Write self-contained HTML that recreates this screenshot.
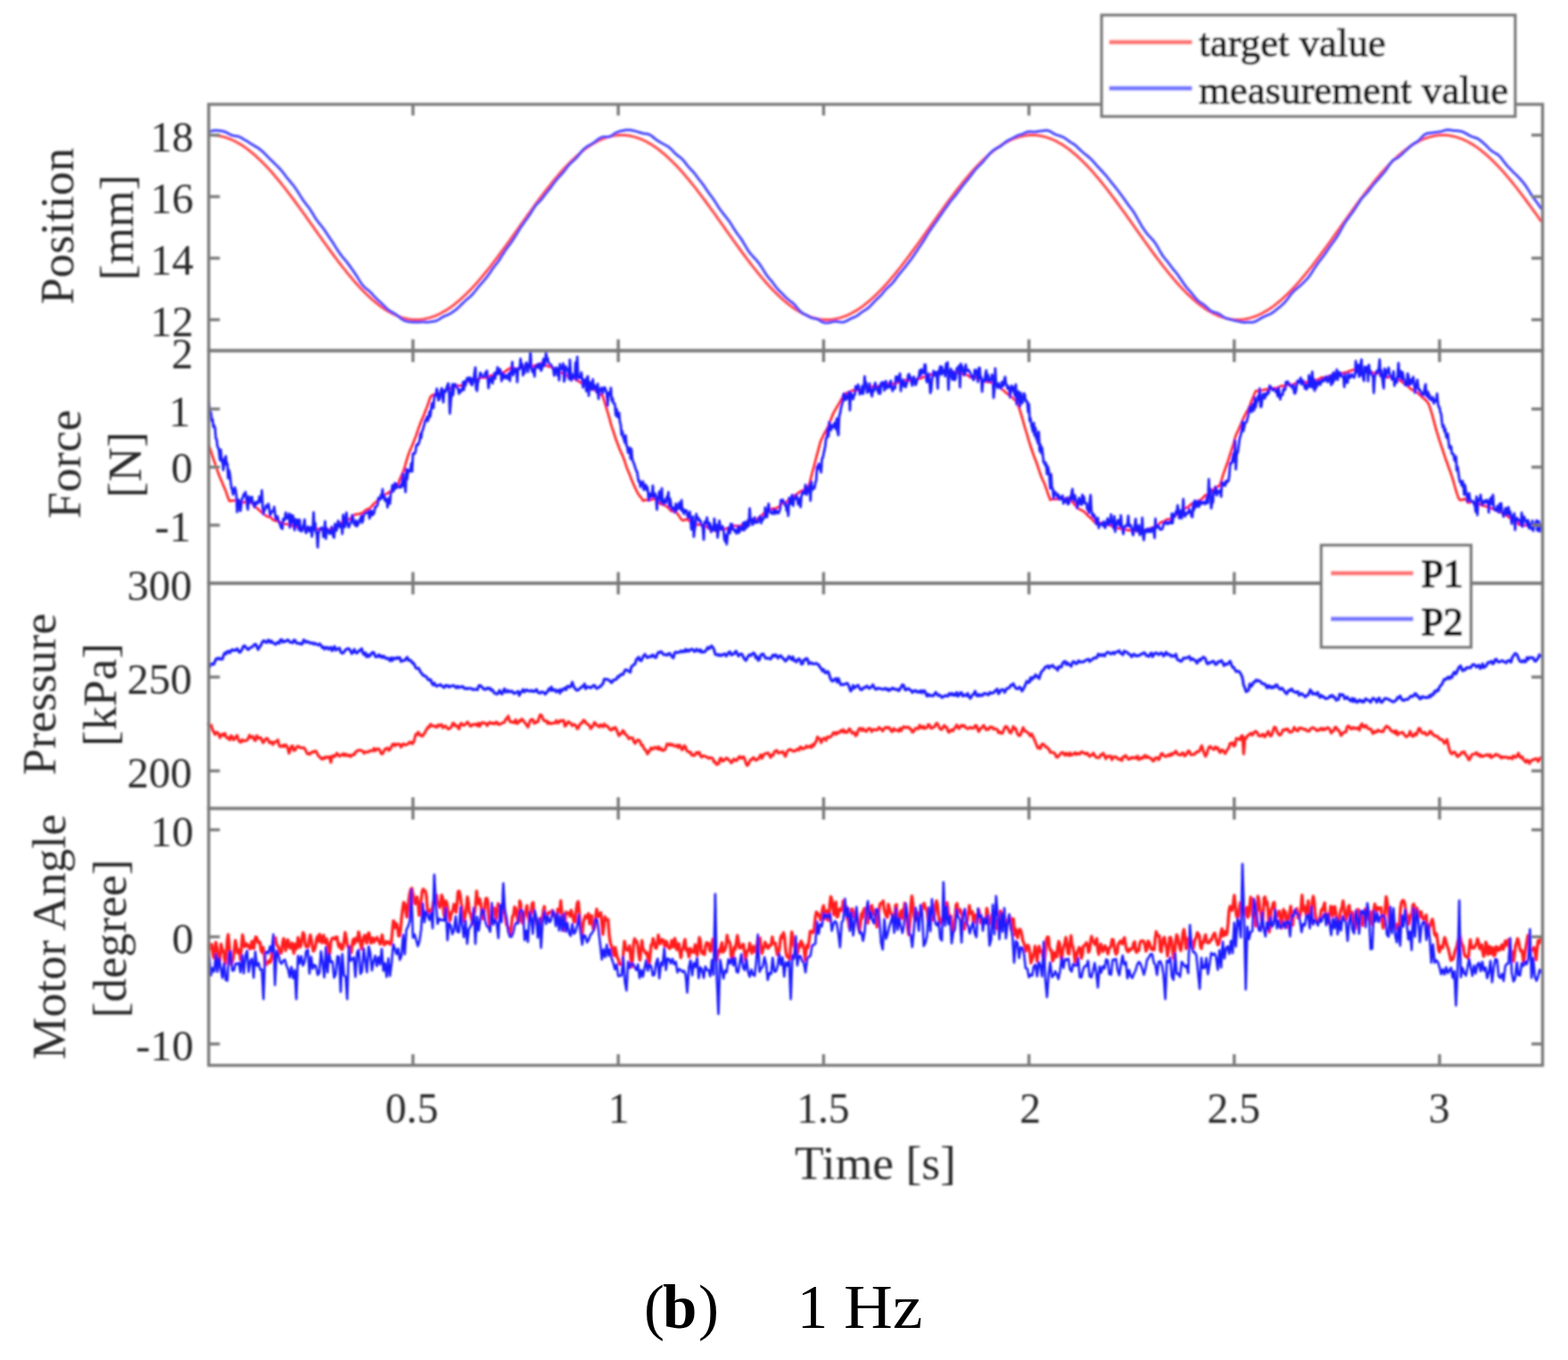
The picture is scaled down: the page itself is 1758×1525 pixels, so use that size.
<!DOCTYPE html>
<html><head><meta charset="utf-8"><title>Figure</title>
<style>
html,body{margin:0;padding:0;background:#fff;}
svg{display:block;}
text{font-family:"Liberation Serif","Times New Roman",serif;}
</style></head><body>
<svg width="1758" height="1525" viewBox="0 0 1758 1525">
<defs>
<filter id="bl" x="-5%" y="-5%" width="110%" height="110%"><feGaussianBlur stdDeviation="1.25"/></filter>
<clipPath id="c1"><rect x="232.8" y="117.0" width="1496.7" height="276.0"/></clipPath>
<clipPath id="c2"><rect x="232.8" y="393.5" width="1496.7" height="260.5"/></clipPath>
<clipPath id="c3"><rect x="232.8" y="654.0" width="1496.7" height="252.5"/></clipPath>
<clipPath id="c4"><rect x="232.8" y="906.5" width="1496.7" height="288.1"/></clipPath>
</defs>
<rect width="1758" height="1525" fill="#fff"/>
<g filter="url(#bl)">

<path d="M232.8 151.6 L234.6 151.5 L236.5 151.5 L238.3 151.5 L240.2 151.6 L242.0 151.8 L243.8 152.0 L245.7 152.3 L247.5 152.7 L249.4 153.1 L251.2 153.6 L253.1 154.1 L254.9 154.8 L256.7 155.4 L258.6 156.2 L260.4 157.0 L262.3 157.8 L264.1 158.8 L265.9 159.8 L267.8 160.8 L269.6 161.9 L271.5 163.1 L273.3 164.3 L275.2 165.6 L277.0 166.9 L278.8 168.3 L280.7 169.8 L282.5 171.3 L284.4 172.8 L286.2 174.4 L288.0 176.1 L289.9 177.8 L291.7 179.6 L293.6 181.4 L295.4 183.2 L297.3 185.1 L299.1 187.0 L300.9 189.0 L302.8 191.1 L304.6 193.1 L306.5 195.2 L308.3 197.4 L310.1 199.5 L312.0 201.8 L313.8 204.0 L315.7 206.3 L317.5 208.6 L319.4 210.9 L321.2 213.3 L323.0 215.7 L324.9 218.1 L326.7 220.6 L328.6 223.0 L330.4 225.5 L332.2 228.0 L334.1 230.5 L335.9 233.1 L337.8 235.6 L339.6 238.2 L341.5 240.7 L343.3 243.3 L345.1 245.9 L347.0 248.5 L348.8 251.1 L350.7 253.7 L352.5 256.3 L354.3 258.9 L356.2 261.5 L358.0 264.1 L359.9 266.7 L361.7 269.3 L363.6 271.8 L365.4 274.4 L367.2 276.9 L369.1 279.5 L370.9 282.0 L372.8 284.5 L374.6 287.0 L376.4 289.4 L378.3 291.9 L380.1 294.3 L382.0 296.7 L383.8 299.1 L385.7 301.4 L387.5 303.7 L389.3 306.0 L391.2 308.2 L393.0 310.5 L394.9 312.6 L396.7 314.8 L398.5 316.9 L400.4 318.9 L402.2 321.0 L404.1 323.0 L405.9 324.9 L407.8 326.8 L409.6 328.6 L411.4 330.4 L413.3 332.2 L415.1 333.9 L417.0 335.6 L418.8 337.2 L420.6 338.7 L422.5 340.2 L424.3 341.7 L426.2 343.1 L428.0 344.4 L429.9 345.7 L431.7 346.9 L433.5 348.1 L435.4 349.2 L437.2 350.2 L439.1 351.2 L440.9 352.2 L442.7 353.0 L444.6 353.8 L446.4 354.6 L448.3 355.2 L450.1 355.9 L452.0 356.4 L453.8 356.9 L455.6 357.3 L457.5 357.7 L459.3 358.0 L461.2 358.2 L463.0 358.4 L464.8 358.5 L466.7 358.5 L468.5 358.5 L470.4 358.4 L472.2 358.2 L474.0 358.0 L475.9 357.7 L477.7 357.3 L479.6 356.9 L481.4 356.4 L483.3 355.9 L485.1 355.2 L486.9 354.6 L488.8 353.8 L490.6 353.0 L492.5 352.2 L494.3 351.2 L496.1 350.2 L498.0 349.2 L499.8 348.1 L501.7 346.9 L503.5 345.7 L505.4 344.4 L507.2 343.1 L509.0 341.7 L510.9 340.2 L512.7 338.7 L514.6 337.2 L516.4 335.6 L518.2 333.9 L520.1 332.2 L521.9 330.4 L523.8 328.6 L525.6 326.8 L527.5 324.9 L529.3 323.0 L531.1 321.0 L533.0 318.9 L534.8 316.9 L536.7 314.8 L538.5 312.6 L540.3 310.5 L542.2 308.2 L544.0 306.0 L545.9 303.7 L547.7 301.4 L549.6 299.1 L551.4 296.7 L553.2 294.3 L555.1 291.9 L556.9 289.4 L558.8 287.0 L560.6 284.5 L562.4 282.0 L564.3 279.5 L566.1 276.9 L568.0 274.4 L569.8 271.8 L571.7 269.3 L573.5 266.7 L575.3 264.1 L577.2 261.5 L579.0 258.9 L580.9 256.3 L582.7 253.7 L584.5 251.1 L586.4 248.5 L588.2 245.9 L590.1 243.3 L591.9 240.7 L593.8 238.2 L595.6 235.6 L597.4 233.1 L599.3 230.5 L601.1 228.0 L603.0 225.5 L604.8 223.0 L606.6 220.6 L608.5 218.1 L610.3 215.7 L612.2 213.3 L614.0 210.9 L615.9 208.6 L617.7 206.3 L619.5 204.0 L621.4 201.8 L623.2 199.5 L625.1 197.4 L626.9 195.2 L628.7 193.1 L630.6 191.1 L632.4 189.0 L634.3 187.0 L636.1 185.1 L638.0 183.2 L639.8 181.4 L641.6 179.6 L643.5 177.8 L645.3 176.1 L647.2 174.4 L649.0 172.8 L650.8 171.3 L652.7 169.8 L654.5 168.3 L656.4 166.9 L658.2 165.6 L660.1 164.3 L661.9 163.1 L663.7 161.9 L665.6 160.8 L667.4 159.8 L669.3 158.8 L671.1 157.8 L672.9 157.0 L674.8 156.2 L676.6 155.4 L678.5 154.8 L680.3 154.1 L682.2 153.6 L684.0 153.1 L685.8 152.7 L687.7 152.3 L689.5 152.0 L691.4 151.8 L693.2 151.6 L695.0 151.5 L696.9 151.5 L698.7 151.5 L700.6 151.6 L702.4 151.8 L704.2 152.0 L706.1 152.3 L707.9 152.7 L709.8 153.1 L711.6 153.6 L713.5 154.1 L715.3 154.8 L717.1 155.4 L719.0 156.2 L720.8 157.0 L722.7 157.8 L724.5 158.8 L726.3 159.8 L728.2 160.8 L730.0 161.9 L731.9 163.1 L733.7 164.3 L735.6 165.6 L737.4 166.9 L739.2 168.3 L741.1 169.8 L742.9 171.3 L744.8 172.8 L746.6 174.4 L748.4 176.1 L750.3 177.8 L752.1 179.6 L754.0 181.4 L755.8 183.2 L757.7 185.1 L759.5 187.0 L761.3 189.0 L763.2 191.1 L765.0 193.1 L766.9 195.2 L768.7 197.4 L770.5 199.5 L772.4 201.8 L774.2 204.0 L776.1 206.3 L777.9 208.6 L779.8 210.9 L781.6 213.3 L783.4 215.7 L785.3 218.1 L787.1 220.6 L789.0 223.0 L790.8 225.5 L792.6 228.0 L794.5 230.5 L796.3 233.1 L798.2 235.6 L800.0 238.2 L801.9 240.7 L803.7 243.3 L805.5 245.9 L807.4 248.5 L809.2 251.1 L811.1 253.7 L812.9 256.3 L814.7 258.9 L816.6 261.5 L818.4 264.1 L820.3 266.7 L822.1 269.3 L824.0 271.8 L825.8 274.4 L827.6 276.9 L829.5 279.5 L831.3 282.0 L833.2 284.5 L835.0 287.0 L836.8 289.4 L838.7 291.9 L840.5 294.3 L842.4 296.7 L844.2 299.1 L846.1 301.4 L847.9 303.7 L849.7 306.0 L851.6 308.2 L853.4 310.5 L855.3 312.6 L857.1 314.8 L858.9 316.9 L860.8 318.9 L862.6 321.0 L864.5 323.0 L866.3 324.9 L868.2 326.8 L870.0 328.6 L871.8 330.4 L873.7 332.2 L875.5 333.9 L877.4 335.6 L879.2 337.2 L881.0 338.7 L882.9 340.2 L884.7 341.7 L886.6 343.1 L888.4 344.4 L890.3 345.7 L892.1 346.9 L893.9 348.1 L895.8 349.2 L897.6 350.2 L899.5 351.2 L901.3 352.2 L903.1 353.0 L905.0 353.8 L906.8 354.6 L908.7 355.2 L910.5 355.9 L912.4 356.4 L914.2 356.9 L916.0 357.3 L917.9 357.7 L919.7 358.0 L921.6 358.2 L923.4 358.4 L925.2 358.5 L927.1 358.5 L928.9 358.5 L930.8 358.4 L932.6 358.2 L934.4 358.0 L936.3 357.7 L938.1 357.3 L940.0 356.9 L941.8 356.4 L943.7 355.9 L945.5 355.2 L947.3 354.6 L949.2 353.8 L951.0 353.0 L952.9 352.2 L954.7 351.2 L956.5 350.2 L958.4 349.2 L960.2 348.1 L962.1 346.9 L963.9 345.7 L965.8 344.4 L967.6 343.1 L969.4 341.7 L971.3 340.2 L973.1 338.7 L975.0 337.2 L976.8 335.6 L978.6 333.9 L980.5 332.2 L982.3 330.4 L984.2 328.6 L986.0 326.8 L987.9 324.9 L989.7 323.0 L991.5 321.0 L993.4 318.9 L995.2 316.9 L997.1 314.8 L998.9 312.6 L1000.7 310.5 L1002.6 308.2 L1004.4 306.0 L1006.3 303.7 L1008.1 301.4 L1010.0 299.1 L1011.8 296.7 L1013.6 294.3 L1015.5 291.9 L1017.3 289.4 L1019.2 287.0 L1021.0 284.5 L1022.8 282.0 L1024.7 279.5 L1026.5 276.9 L1028.4 274.4 L1030.2 271.8 L1032.1 269.3 L1033.9 266.7 L1035.7 264.1 L1037.6 261.5 L1039.4 258.9 L1041.3 256.3 L1043.1 253.7 L1044.9 251.1 L1046.8 248.5 L1048.6 245.9 L1050.5 243.3 L1052.3 240.7 L1054.2 238.2 L1056.0 235.6 L1057.8 233.1 L1059.7 230.5 L1061.5 228.0 L1063.4 225.5 L1065.2 223.0 L1067.0 220.6 L1068.9 218.1 L1070.7 215.7 L1072.6 213.3 L1074.4 210.9 L1076.3 208.6 L1078.1 206.3 L1079.9 204.0 L1081.8 201.8 L1083.6 199.5 L1085.5 197.4 L1087.3 195.2 L1089.1 193.1 L1091.0 191.1 L1092.8 189.0 L1094.7 187.0 L1096.5 185.1 L1098.4 183.2 L1100.2 181.4 L1102.0 179.6 L1103.9 177.8 L1105.7 176.1 L1107.6 174.4 L1109.4 172.8 L1111.2 171.3 L1113.1 169.8 L1114.9 168.3 L1116.8 166.9 L1118.6 165.6 L1120.5 164.3 L1122.3 163.1 L1124.1 161.9 L1126.0 160.8 L1127.8 159.8 L1129.7 158.8 L1131.5 157.8 L1133.3 157.0 L1135.2 156.2 L1137.0 155.4 L1138.9 154.8 L1140.7 154.1 L1142.6 153.6 L1144.4 153.1 L1146.2 152.7 L1148.1 152.3 L1149.9 152.0 L1151.8 151.8 L1153.6 151.6 L1155.4 151.5 L1157.3 151.5 L1159.1 151.5 L1161.0 151.6 L1162.8 151.8 L1164.6 152.0 L1166.5 152.3 L1168.3 152.7 L1170.2 153.1 L1172.0 153.6 L1173.9 154.1 L1175.7 154.8 L1177.5 155.4 L1179.4 156.2 L1181.2 157.0 L1183.1 157.8 L1184.9 158.8 L1186.7 159.8 L1188.6 160.8 L1190.4 161.9 L1192.3 163.1 L1194.1 164.3 L1196.0 165.6 L1197.8 166.9 L1199.6 168.3 L1201.5 169.8 L1203.3 171.3 L1205.2 172.8 L1207.0 174.4 L1208.8 176.1 L1210.7 177.8 L1212.5 179.6 L1214.4 181.4 L1216.2 183.2 L1218.1 185.1 L1219.9 187.0 L1221.7 189.0 L1223.6 191.1 L1225.4 193.1 L1227.3 195.2 L1229.1 197.4 L1230.9 199.5 L1232.8 201.8 L1234.6 204.0 L1236.5 206.3 L1238.3 208.6 L1240.2 210.9 L1242.0 213.3 L1243.8 215.7 L1245.7 218.1 L1247.5 220.6 L1249.4 223.0 L1251.2 225.5 L1253.0 228.0 L1254.9 230.5 L1256.7 233.1 L1258.6 235.6 L1260.4 238.2 L1262.3 240.7 L1264.1 243.3 L1265.9 245.9 L1267.8 248.5 L1269.6 251.1 L1271.5 253.7 L1273.3 256.3 L1275.1 258.9 L1277.0 261.5 L1278.8 264.1 L1280.7 266.7 L1282.5 269.3 L1284.4 271.8 L1286.2 274.4 L1288.0 276.9 L1289.9 279.5 L1291.7 282.0 L1293.6 284.5 L1295.4 287.0 L1297.2 289.4 L1299.1 291.9 L1300.9 294.3 L1302.8 296.7 L1304.6 299.1 L1306.5 301.4 L1308.3 303.7 L1310.1 306.0 L1312.0 308.2 L1313.8 310.5 L1315.7 312.6 L1317.5 314.8 L1319.3 316.9 L1321.2 318.9 L1323.0 321.0 L1324.9 323.0 L1326.7 324.9 L1328.6 326.8 L1330.4 328.6 L1332.2 330.4 L1334.1 332.2 L1335.9 333.9 L1337.8 335.6 L1339.6 337.2 L1341.4 338.7 L1343.3 340.2 L1345.1 341.7 L1347.0 343.1 L1348.8 344.4 L1350.7 345.7 L1352.5 346.9 L1354.3 348.1 L1356.2 349.2 L1358.0 350.2 L1359.9 351.2 L1361.7 352.2 L1363.5 353.0 L1365.4 353.8 L1367.2 354.6 L1369.1 355.2 L1370.9 355.9 L1372.8 356.4 L1374.6 356.9 L1376.4 357.3 L1378.3 357.7 L1380.1 358.0 L1382.0 358.2 L1383.8 358.4 L1385.6 358.5 L1387.5 358.5 L1389.3 358.5 L1391.2 358.4 L1393.0 358.2 L1394.8 358.0 L1396.7 357.7 L1398.5 357.3 L1400.4 356.9 L1402.2 356.4 L1404.1 355.9 L1405.9 355.2 L1407.7 354.6 L1409.6 353.8 L1411.4 353.0 L1413.3 352.2 L1415.1 351.2 L1416.9 350.2 L1418.8 349.2 L1420.6 348.1 L1422.5 346.9 L1424.3 345.7 L1426.2 344.4 L1428.0 343.1 L1429.8 341.7 L1431.7 340.2 L1433.5 338.7 L1435.4 337.2 L1437.2 335.6 L1439.0 333.9 L1440.9 332.2 L1442.7 330.4 L1444.6 328.6 L1446.4 326.8 L1448.3 324.9 L1450.1 323.0 L1451.9 321.0 L1453.8 318.9 L1455.6 316.9 L1457.5 314.8 L1459.3 312.6 L1461.1 310.5 L1463.0 308.2 L1464.8 306.0 L1466.7 303.7 L1468.5 301.4 L1470.4 299.1 L1472.2 296.7 L1474.0 294.3 L1475.9 291.9 L1477.7 289.4 L1479.6 287.0 L1481.4 284.5 L1483.2 282.0 L1485.1 279.5 L1486.9 276.9 L1488.8 274.4 L1490.6 271.8 L1492.5 269.3 L1494.3 266.7 L1496.1 264.1 L1498.0 261.5 L1499.8 258.9 L1501.7 256.3 L1503.5 253.7 L1505.3 251.1 L1507.2 248.5 L1509.0 245.9 L1510.9 243.3 L1512.7 240.7 L1514.6 238.2 L1516.4 235.6 L1518.2 233.1 L1520.1 230.5 L1521.9 228.0 L1523.8 225.5 L1525.6 223.0 L1527.4 220.6 L1529.3 218.1 L1531.1 215.7 L1533.0 213.3 L1534.8 210.9 L1536.7 208.6 L1538.5 206.3 L1540.3 204.0 L1542.2 201.8 L1544.0 199.5 L1545.9 197.4 L1547.7 195.2 L1549.5 193.1 L1551.4 191.1 L1553.2 189.0 L1555.1 187.0 L1556.9 185.1 L1558.8 183.2 L1560.6 181.4 L1562.4 179.6 L1564.3 177.8 L1566.1 176.1 L1568.0 174.4 L1569.8 172.8 L1571.6 171.3 L1573.5 169.8 L1575.3 168.3 L1577.2 166.9 L1579.0 165.6 L1580.9 164.3 L1582.7 163.1 L1584.5 161.9 L1586.4 160.8 L1588.2 159.8 L1590.1 158.8 L1591.9 157.8 L1593.7 157.0 L1595.6 156.2 L1597.4 155.4 L1599.3 154.8 L1601.1 154.1 L1603.0 153.6 L1604.8 153.1 L1606.6 152.7 L1608.5 152.3 L1610.3 152.0 L1612.2 151.8 L1614.0 151.6 L1615.8 151.5 L1617.7 151.5 L1619.5 151.5 L1621.4 151.6 L1623.2 151.8 L1625.0 152.0 L1626.9 152.3 L1628.7 152.7 L1630.6 153.1 L1632.4 153.6 L1634.3 154.1 L1636.1 154.8 L1637.9 155.4 L1639.8 156.2 L1641.6 157.0 L1643.5 157.8 L1645.3 158.8 L1647.1 159.8 L1649.0 160.8 L1650.8 161.9 L1652.7 163.1 L1654.5 164.3 L1656.4 165.6 L1658.2 166.9 L1660.0 168.3 L1661.9 169.8 L1663.7 171.3 L1665.6 172.8 L1667.4 174.4 L1669.2 176.1 L1671.1 177.8 L1672.9 179.6 L1674.8 181.4 L1676.6 183.2 L1678.5 185.1 L1680.3 187.0 L1682.1 189.0 L1684.0 191.1 L1685.8 193.1 L1687.7 195.2 L1689.5 197.4 L1691.3 199.5 L1693.2 201.8 L1695.0 204.0 L1696.9 206.3 L1698.7 208.6 L1700.6 210.9 L1702.4 213.3 L1704.2 215.7 L1706.1 218.1 L1707.9 220.6 L1709.8 223.0 L1711.6 225.5 L1713.4 228.0 L1715.3 230.5 L1717.1 233.1 L1719.0 235.6 L1720.8 238.2 L1722.7 240.7 L1724.5 243.3 L1726.3 245.9 L1728.2 248.5" fill="none" stroke="#ff4a4a" stroke-width="3.0" stroke-linejoin="round" clip-path="url(#c1)"/>
<path d="M232.8 148.2 L234.6 147.6 L236.5 147.1 L238.3 146.6 L240.2 146.3 L242.0 146.2 L243.8 146.3 L245.7 146.4 L247.5 146.7 L249.4 147.0 L251.2 147.5 L253.1 148.2 L254.9 149.1 L256.7 150.1 L258.6 151.1 L260.4 151.8 L262.3 152.2 L264.1 152.4 L265.9 152.7 L267.8 153.2 L269.6 154.0 L271.5 155.1 L273.3 156.3 L275.2 157.3 L277.0 158.3 L278.8 159.5 L280.7 160.7 L282.5 161.9 L284.4 163.0 L286.2 164.1 L288.0 165.1 L289.9 166.3 L291.7 167.7 L293.6 169.2 L295.4 170.9 L297.3 172.8 L299.1 174.6 L300.9 176.5 L302.8 178.3 L304.6 180.1 L306.5 181.9 L308.3 183.7 L310.1 185.5 L312.0 187.4 L313.8 189.3 L315.7 191.4 L317.5 193.7 L319.4 196.2 L321.2 198.6 L323.0 200.8 L324.9 203.0 L326.7 205.2 L328.6 207.4 L330.4 209.8 L332.2 212.5 L334.1 215.3 L335.9 218.3 L337.8 221.2 L339.6 224.1 L341.5 226.7 L343.3 229.1 L345.1 231.4 L347.0 233.8 L348.8 236.6 L350.7 239.6 L352.5 242.7 L354.3 245.6 L356.2 248.2 L358.0 250.6 L359.9 252.8 L361.7 255.1 L363.6 257.6 L365.4 260.4 L367.2 263.2 L369.1 265.9 L370.9 268.7 L372.8 271.4 L374.6 274.3 L376.4 277.2 L378.3 280.1 L380.1 282.9 L382.0 285.5 L383.8 287.9 L385.7 290.1 L387.5 292.2 L389.3 294.5 L391.2 297.0 L393.0 299.5 L394.9 302.1 L396.7 304.7 L398.5 307.4 L400.4 310.3 L402.2 313.3 L404.1 316.3 L405.9 319.0 L407.8 321.2 L409.6 323.0 L411.4 324.4 L413.3 325.8 L415.1 327.5 L417.0 329.4 L418.8 331.5 L420.6 333.4 L422.5 335.3 L424.3 337.1 L426.2 338.7 L428.0 340.4 L429.9 342.3 L431.7 344.1 L433.5 345.9 L435.4 347.4 L437.2 348.8 L439.1 349.9 L440.9 350.9 L442.7 351.9 L444.6 353.1 L446.4 354.5 L448.3 356.0 L450.1 357.5 L452.0 358.7 L453.8 359.6 L455.6 360.2 L457.5 360.6 L459.3 360.9 L461.2 361.0 L463.0 361.2 L464.8 361.3 L466.7 361.3 L468.5 361.3 L470.4 361.2 L472.2 361.0 L474.0 361.0 L475.9 361.0 L477.7 361.2 L479.6 361.2 L481.4 361.1 L483.3 360.8 L485.1 360.6 L486.9 360.2 L488.8 359.8 L490.6 359.0 L492.5 358.0 L494.3 356.8 L496.1 355.6 L498.0 354.7 L499.8 353.9 L501.7 353.1 L503.5 352.3 L505.4 351.2 L507.2 350.1 L509.0 348.8 L510.9 347.5 L512.7 346.0 L514.6 344.2 L516.4 342.4 L518.2 340.6 L520.1 338.8 L521.9 337.0 L523.8 335.4 L525.6 333.9 L527.5 332.3 L529.3 330.4 L531.1 328.4 L533.0 326.1 L534.8 323.7 L536.7 321.4 L538.5 319.3 L540.3 317.2 L542.2 315.1 L544.0 313.0 L545.9 310.6 L547.7 308.1 L549.6 305.4 L551.4 302.7 L553.2 300.2 L555.1 297.7 L556.9 295.3 L558.8 292.8 L560.6 290.1 L562.4 287.3 L564.3 284.4 L566.1 281.5 L568.0 278.8 L569.8 276.2 L571.7 273.8 L573.5 271.4 L575.3 268.7 L577.2 265.8 L579.0 262.8 L580.9 259.7 L582.7 256.8 L584.5 253.9 L586.4 251.3 L588.2 248.7 L590.1 246.2 L591.9 243.7 L593.8 241.0 L595.6 238.1 L597.4 235.1 L599.3 232.2 L601.1 229.7 L603.0 227.7 L604.8 225.9 L606.6 223.9 L608.5 221.7 L610.3 219.3 L612.2 216.9 L614.0 214.6 L615.9 212.3 L617.7 210.0 L619.5 207.4 L621.4 204.8 L623.2 202.4 L625.1 200.2 L626.9 198.3 L628.7 196.4 L630.6 194.3 L632.4 192.0 L634.3 189.6 L636.1 187.1 L638.0 184.9 L639.8 183.0 L641.6 181.3 L643.5 179.6 L645.3 177.9 L647.2 175.9 L649.0 173.7 L650.8 171.5 L652.7 169.3 L654.5 167.3 L656.4 165.7 L658.2 164.4 L660.1 163.3 L661.9 162.3 L663.7 161.3 L665.6 160.1 L667.4 158.8 L669.3 157.3 L671.1 155.9 L672.9 154.8 L674.8 153.9 L676.6 153.4 L678.5 153.4 L680.3 153.5 L682.2 153.4 L684.0 153.0 L685.8 152.0 L687.7 150.8 L689.5 149.4 L691.4 148.5 L693.2 147.8 L695.0 147.2 L696.9 146.8 L698.7 146.4 L700.6 146.1 L702.4 145.8 L704.2 145.8 L706.1 145.8 L707.9 146.1 L709.8 146.4 L711.6 146.9 L713.5 147.4 L715.3 147.9 L717.1 148.5 L719.0 149.0 L720.8 149.5 L722.7 149.9 L724.5 150.1 L726.3 150.3 L728.2 151.0 L730.0 152.0 L731.9 153.5 L733.7 155.0 L735.6 156.5 L737.4 157.8 L739.2 158.9 L741.1 160.0 L742.9 161.0 L744.8 162.0 L746.6 163.0 L748.4 164.0 L750.3 165.3 L752.1 166.9 L754.0 168.8 L755.8 170.8 L757.7 172.6 L759.5 174.2 L761.3 175.5 L763.2 176.9 L765.0 178.6 L766.9 180.7 L768.7 183.0 L770.5 185.4 L772.4 187.6 L774.2 189.6 L776.1 191.5 L777.9 193.6 L779.8 195.9 L781.6 198.4 L783.4 200.8 L785.3 203.1 L787.1 205.4 L789.0 207.9 L790.8 210.6 L792.6 213.4 L794.5 216.0 L796.3 218.6 L798.2 221.0 L800.0 223.6 L801.9 226.3 L803.7 229.2 L805.5 232.1 L807.4 234.9 L809.2 237.4 L811.1 239.8 L812.9 242.0 L814.7 244.3 L816.6 246.7 L818.4 249.4 L820.3 252.3 L822.1 255.3 L824.0 258.1 L825.8 260.8 L827.6 263.3 L829.5 265.8 L831.3 268.4 L833.2 271.4 L835.0 274.6 L836.8 277.6 L838.7 280.6 L840.5 283.3 L842.4 285.6 L844.2 287.6 L846.1 289.6 L847.9 291.6 L849.7 293.7 L851.6 296.1 L853.4 298.9 L855.3 301.8 L857.1 304.8 L858.9 307.7 L860.8 310.2 L862.6 312.4 L864.5 314.5 L866.3 316.9 L868.2 319.4 L870.0 321.9 L871.8 324.1 L873.7 326.1 L875.5 327.9 L877.4 329.7 L879.2 331.6 L881.0 333.5 L882.9 335.2 L884.7 336.7 L886.6 338.1 L888.4 339.5 L890.3 341.1 L892.1 343.2 L893.9 345.4 L895.8 347.6 L897.6 349.5 L899.5 350.9 L901.3 352.0 L903.1 352.8 L905.0 353.7 L906.8 354.9 L908.7 355.9 L910.5 356.6 L912.4 357.0 L914.2 357.2 L916.0 357.7 L917.9 358.6 L919.7 359.8 L921.6 360.8 L923.4 361.6 L925.2 362.0 L927.1 362.1 L928.9 361.9 L930.8 361.5 L932.6 361.0 L934.4 360.6 L936.3 360.5 L938.1 360.6 L940.0 360.8 L941.8 361.1 L943.7 361.2 L945.5 361.2 L947.3 360.7 L949.2 359.9 L951.0 358.9 L952.9 357.8 L954.7 356.9 L956.5 356.2 L958.4 355.5 L960.2 354.5 L962.1 353.2 L963.9 351.8 L965.8 350.4 L967.6 349.1 L969.4 348.0 L971.3 346.9 L973.1 345.5 L975.0 343.9 L976.8 342.0 L978.6 340.1 L980.5 338.0 L982.3 336.1 L984.2 334.3 L986.0 332.6 L987.9 330.7 L989.7 328.7 L991.5 326.4 L993.4 324.3 L995.2 322.5 L997.1 320.8 L998.9 319.2 L1000.7 317.3 L1002.6 315.0 L1004.4 312.5 L1006.3 309.9 L1008.1 307.5 L1010.0 305.3 L1011.8 303.1 L1013.6 300.9 L1015.5 298.5 L1017.3 296.1 L1019.2 293.7 L1021.0 291.3 L1022.8 288.8 L1024.7 286.2 L1026.5 283.4 L1028.4 280.6 L1030.2 277.8 L1032.1 275.1 L1033.9 272.4 L1035.7 269.6 L1037.6 266.6 L1039.4 263.6 L1041.3 260.5 L1043.1 257.8 L1044.9 255.1 L1046.8 252.6 L1048.6 250.0 L1050.5 247.3 L1052.3 244.6 L1054.2 241.9 L1056.0 239.3 L1057.8 236.7 L1059.7 234.2 L1061.5 231.6 L1063.4 228.9 L1065.2 226.4 L1067.0 224.1 L1068.9 221.9 L1070.7 219.7 L1072.6 217.3 L1074.4 214.9 L1076.3 212.4 L1078.1 209.9 L1079.9 207.5 L1081.8 205.3 L1083.6 203.1 L1085.5 200.8 L1087.3 198.4 L1089.1 196.0 L1091.0 193.5 L1092.8 191.1 L1094.7 188.9 L1096.5 187.0 L1098.4 185.2 L1100.2 183.4 L1102.0 181.4 L1103.9 179.2 L1105.7 176.9 L1107.6 174.7 L1109.4 172.6 L1111.2 170.8 L1113.1 169.1 L1114.9 167.7 L1116.8 166.6 L1118.6 165.7 L1120.5 164.7 L1122.3 163.5 L1124.1 162.0 L1126.0 160.5 L1127.8 159.0 L1129.7 157.9 L1131.5 156.9 L1133.3 156.0 L1135.2 155.0 L1137.0 154.1 L1138.9 153.1 L1140.7 152.2 L1142.6 151.5 L1144.4 151.0 L1146.2 150.3 L1148.1 149.6 L1149.9 148.7 L1151.8 148.0 L1153.6 147.6 L1155.4 147.7 L1157.3 147.8 L1159.1 147.9 L1161.0 147.8 L1162.8 147.5 L1164.6 147.2 L1166.5 147.1 L1168.3 146.8 L1170.2 146.6 L1172.0 146.3 L1173.9 146.2 L1175.7 146.6 L1177.5 147.4 L1179.4 148.5 L1181.2 149.6 L1183.1 150.6 L1184.9 151.4 L1186.7 151.9 L1188.6 152.5 L1190.4 153.1 L1192.3 154.0 L1194.1 155.0 L1196.0 156.4 L1197.8 157.7 L1199.6 159.0 L1201.5 160.2 L1203.3 161.3 L1205.2 162.6 L1207.0 164.1 L1208.8 165.8 L1210.7 167.6 L1212.5 169.3 L1214.4 171.0 L1216.2 172.6 L1218.1 174.0 L1219.9 175.5 L1221.7 177.0 L1223.6 178.8 L1225.4 180.7 L1227.3 182.8 L1229.1 184.9 L1230.9 186.9 L1232.8 188.9 L1234.6 190.9 L1236.5 192.9 L1238.3 194.9 L1240.2 197.0 L1242.0 199.3 L1243.8 201.6 L1245.7 204.0 L1247.5 206.3 L1249.4 208.5 L1251.2 210.8 L1253.0 213.1 L1254.9 215.6 L1256.7 218.1 L1258.6 220.7 L1260.4 223.2 L1262.3 225.8 L1264.1 228.4 L1265.9 230.9 L1267.8 233.3 L1269.6 235.7 L1271.5 238.4 L1273.3 241.5 L1275.1 244.7 L1277.0 247.9 L1278.8 251.2 L1280.7 254.4 L1282.5 257.2 L1284.4 259.9 L1286.2 262.3 L1288.0 264.3 L1289.9 266.2 L1291.7 268.2 L1293.6 270.3 L1295.4 272.8 L1297.2 275.8 L1299.1 279.1 L1300.9 282.4 L1302.8 285.4 L1304.6 288.1 L1306.5 290.4 L1308.3 292.6 L1310.1 294.9 L1312.0 297.4 L1313.8 299.9 L1315.7 302.2 L1317.5 304.4 L1319.3 306.7 L1321.2 309.1 L1323.0 311.8 L1324.9 314.6 L1326.7 317.4 L1328.6 320.0 L1330.4 322.4 L1332.2 324.4 L1334.1 326.5 L1335.9 328.7 L1337.8 331.0 L1339.6 333.3 L1341.4 335.4 L1343.3 337.3 L1345.1 338.8 L1347.0 340.0 L1348.8 341.1 L1350.7 342.5 L1352.5 344.1 L1354.3 345.8 L1356.2 347.6 L1358.0 348.9 L1359.9 349.8 L1361.7 350.3 L1363.5 350.7 L1365.4 351.4 L1367.2 352.3 L1369.1 353.6 L1370.9 354.9 L1372.8 356.0 L1374.6 356.9 L1376.4 357.4 L1378.3 357.9 L1380.1 358.3 L1382.0 358.9 L1383.8 359.4 L1385.6 359.8 L1387.5 360.1 L1389.3 360.5 L1391.2 360.9 L1393.0 361.2 L1394.8 361.4 L1396.7 361.4 L1398.5 361.3 L1400.4 361.3 L1402.2 361.4 L1404.1 361.3 L1405.9 361.0 L1407.7 360.3 L1409.6 359.4 L1411.4 358.2 L1413.3 357.1 L1415.1 356.1 L1416.9 355.2 L1418.8 354.3 L1420.6 353.5 L1422.5 352.8 L1424.3 352.0 L1426.2 350.9 L1428.0 349.7 L1429.8 348.2 L1431.7 346.7 L1433.5 345.2 L1435.4 343.7 L1437.2 342.2 L1439.0 340.4 L1440.9 338.5 L1442.7 336.3 L1444.6 333.9 L1446.4 331.3 L1448.3 328.9 L1450.1 326.9 L1451.9 325.2 L1453.8 323.7 L1455.6 322.2 L1457.5 320.6 L1459.3 319.0 L1461.1 317.2 L1463.0 315.3 L1464.8 313.5 L1466.7 311.3 L1468.5 308.9 L1470.4 306.1 L1472.2 303.3 L1474.0 300.3 L1475.9 297.6 L1477.7 294.9 L1479.6 292.6 L1481.4 290.2 L1483.2 287.8 L1485.1 285.3 L1486.9 282.6 L1488.8 279.9 L1490.6 277.2 L1492.5 274.6 L1494.3 272.1 L1496.1 269.6 L1498.0 267.0 L1499.8 264.1 L1501.7 261.0 L1503.5 257.6 L1505.3 254.2 L1507.2 251.0 L1509.0 248.1 L1510.9 245.5 L1512.7 243.0 L1514.6 240.6 L1516.4 238.1 L1518.2 235.4 L1520.1 232.6 L1521.9 229.8 L1523.8 226.9 L1525.6 224.2 L1527.4 221.7 L1529.3 219.7 L1531.1 217.8 L1533.0 215.7 L1534.8 213.5 L1536.7 211.0 L1538.5 208.6 L1540.3 206.4 L1542.2 204.3 L1544.0 202.3 L1545.9 200.2 L1547.7 198.1 L1549.5 196.0 L1551.4 193.8 L1553.2 191.5 L1555.1 188.9 L1556.9 186.0 L1558.8 183.4 L1560.6 181.1 L1562.4 179.4 L1564.3 178.3 L1566.1 177.4 L1568.0 176.2 L1569.8 174.7 L1571.6 173.1 L1573.5 171.3 L1575.3 169.5 L1577.2 167.8 L1579.0 166.1 L1580.9 164.4 L1582.7 162.8 L1584.5 161.5 L1586.4 160.4 L1588.2 159.3 L1590.1 158.0 L1591.9 156.3 L1593.7 154.3 L1595.6 152.4 L1597.4 150.9 L1599.3 149.9 L1601.1 149.5 L1603.0 149.2 L1604.8 149.0 L1606.6 148.8 L1608.5 148.5 L1610.3 148.3 L1612.2 148.1 L1614.0 147.8 L1615.8 147.5 L1617.7 146.9 L1619.5 146.3 L1621.4 145.8 L1623.2 145.6 L1625.0 145.7 L1626.9 145.9 L1628.7 146.2 L1630.6 146.6 L1632.4 146.6 L1634.3 146.7 L1636.1 146.9 L1637.9 147.3 L1639.8 147.8 L1641.6 148.6 L1643.5 149.6 L1645.3 150.6 L1647.1 151.7 L1649.0 152.7 L1650.8 153.4 L1652.7 154.0 L1654.5 154.5 L1656.4 155.3 L1658.2 156.4 L1660.0 157.7 L1661.9 159.2 L1663.7 160.9 L1665.6 162.5 L1667.4 164.4 L1669.2 166.2 L1671.1 168.1 L1672.9 169.6 L1674.8 170.8 L1676.6 171.8 L1678.5 172.8 L1680.3 174.2 L1682.1 176.0 L1684.0 178.4 L1685.8 180.9 L1687.7 183.3 L1689.5 185.5 L1691.3 187.5 L1693.2 189.4 L1695.0 191.3 L1696.9 193.2 L1698.7 195.0 L1700.6 196.7 L1702.4 198.6 L1704.2 200.6 L1706.1 202.6 L1707.9 204.8 L1709.8 207.2 L1711.6 209.9 L1713.4 212.7 L1715.3 215.7 L1717.1 218.7 L1719.0 221.4 L1720.8 223.9 L1722.7 226.3 L1724.5 228.9 L1726.3 231.5 L1728.2 234.5" fill="none" stroke="#4a4aff" stroke-width="3.0" stroke-linejoin="round" clip-path="url(#c1)"/>
<path d="M232.8 496.2 L233.7 498.3 L234.6 500.6 L235.6 503.1 L236.5 506.0 L237.4 508.9 L238.3 511.7 L239.2 514.5 L240.2 517.1 L241.1 519.7 L242.0 522.4 L242.9 525.1 L243.8 527.9 L244.8 530.5 L245.7 533.0 L246.6 535.3 L247.5 537.4 L248.5 539.6 L249.4 541.8 L250.3 544.0 L251.2 546.2 L252.1 548.3 L253.1 550.6 L254.0 553.1 L254.9 555.7 L255.8 558.3 L256.7 560.9 L257.7 562.0 L258.6 561.8 L259.5 561.4 L260.4 561.2 L261.3 561.2 L262.3 561.3 L263.2 561.3 L264.1 561.4 L265.0 561.3 L265.9 561.3 L266.9 561.4 L267.8 561.7 L268.7 562.0 L269.6 562.3 L270.6 562.8 L271.5 563.2 L272.4 563.4 L273.3 563.4 L274.2 563.1 L275.2 562.8 L276.1 562.5 L277.0 562.4 L277.9 562.4 L278.8 562.4 L279.8 562.3 L280.7 562.8 L281.6 563.5 L282.5 564.4 L283.4 565.3 L284.4 566.3 L285.3 567.3 L286.2 568.1 L287.1 568.9 L288.0 569.7 L289.0 570.5 L289.9 571.4 L290.8 572.3 L291.7 573.1 L292.7 574.0 L293.6 574.7 L294.5 575.4 L295.4 576.0 L296.3 576.7 L297.3 577.5 L298.2 578.2 L299.1 578.9 L300.0 579.3 L300.9 579.4 L301.9 579.5 L302.8 579.7 L303.7 580.4 L304.6 581.3 L305.5 582.4 L306.5 583.0 L307.4 583.5 L308.3 583.8 L309.2 584.0 L310.1 584.2 L311.1 584.4 L312.0 584.7 L312.9 585.1 L313.8 585.4 L314.8 585.7 L315.7 586.1 L316.6 586.5 L317.5 587.0 L318.4 587.4 L319.4 587.7 L320.3 587.7 L321.2 587.6 L322.1 587.7 L323.0 587.9 L324.0 588.3 L324.9 588.8 L325.8 589.1 L326.7 589.4 L327.6 589.7 L328.6 589.9 L329.5 590.2 L330.4 590.5 L331.3 590.8 L332.2 591.1 L333.2 591.3 L334.1 591.5 L335.0 591.4 L335.9 591.4 L336.9 591.5 L337.8 591.6 L338.7 592.0 L339.6 592.4 L340.5 592.9 L341.5 593.3 L342.4 593.7 L343.3 594.1 L344.2 594.4 L345.1 594.5 L346.1 594.4 L347.0 594.2 L347.9 593.8 L348.8 593.5 L349.7 593.0 L350.7 592.7 L351.6 592.5 L352.5 592.5 L353.4 592.6 L354.3 592.8 L355.3 592.9 L356.2 593.1 L357.1 593.2 L358.0 593.6 L358.9 593.9 L359.9 594.0 L360.8 593.8 L361.7 593.6 L362.6 593.4 L363.6 593.3 L364.5 593.4 L365.4 593.6 L366.3 593.9 L367.2 594.2 L368.2 594.4 L369.1 594.1 L370.0 593.5 L370.9 593.0 L371.8 592.6 L372.8 592.3 L373.7 592.1 L374.6 591.8 L375.5 591.4 L376.4 590.7 L377.4 589.7 L378.3 588.7 L379.2 587.8 L380.1 587.1 L381.0 586.6 L382.0 586.2 L382.9 585.8 L383.8 585.4 L384.7 585.0 L385.7 584.8 L386.6 584.5 L387.5 584.1 L388.4 583.7 L389.3 583.2 L390.3 582.6 L391.2 582.1 L392.1 581.6 L393.0 581.0 L393.9 580.4 L394.9 579.6 L395.8 578.7 L396.7 577.8 L397.6 577.2 L398.5 576.8 L399.5 576.7 L400.4 576.7 L401.3 576.6 L402.2 576.3 L403.1 576.1 L404.1 575.8 L405.0 575.5 L405.9 575.3 L406.8 574.8 L407.8 574.1 L408.7 573.3 L409.6 572.4 L410.5 571.7 L411.4 571.1 L412.4 570.7 L413.3 570.5 L414.2 570.1 L415.1 569.5 L416.0 568.5 L417.0 567.4 L417.9 566.2 L418.8 565.3 L419.7 564.5 L420.6 563.8 L421.6 563.0 L422.5 562.0 L423.4 560.9 L424.3 559.9 L425.2 559.1 L426.2 558.5 L427.1 558.1 L428.0 557.6 L428.9 556.8 L429.9 556.1 L430.8 555.3 L431.7 554.6 L432.6 554.0 L433.5 553.6 L434.5 553.1 L435.4 552.5 L436.3 552.0 L437.2 551.3 L438.1 550.4 L439.1 549.4 L440.0 548.2 L440.9 547.3 L441.8 546.6 L442.7 546.3 L443.7 545.9 L444.6 545.3 L445.5 544.6 L446.4 542.8 L447.3 540.1 L448.3 537.6 L449.2 535.2 L450.1 533.2 L451.0 531.1 L452.0 529.0 L452.9 526.5 L453.8 523.6 L454.7 520.4 L455.6 517.2 L456.6 514.0 L457.5 511.0 L458.4 508.4 L459.3 506.1 L460.2 503.8 L461.2 501.7 L462.1 499.6 L463.0 497.4 L463.9 495.1 L464.8 492.8 L465.8 490.4 L466.7 487.9 L467.6 485.3 L468.5 482.7 L469.4 479.9 L470.4 477.3 L471.3 474.8 L472.2 472.5 L473.1 470.4 L474.0 468.3 L475.0 466.1 L475.9 463.8 L476.8 461.3 L477.7 458.9 L478.7 456.4 L479.6 453.9 L480.5 451.2 L481.4 448.5 L482.3 445.8 L483.3 444.1 L484.2 443.5 L485.1 443.1 L486.0 442.7 L486.9 442.3 L487.9 442.1 L488.8 442.2 L489.7 442.1 L490.6 442.1 L491.5 441.9 L492.5 441.5 L493.4 441.1 L494.3 440.8 L495.2 440.6 L496.1 440.3 L497.1 439.7 L498.0 439.0 L498.9 438.2 L499.8 437.3 L500.8 436.7 L501.7 436.2 L502.6 435.9 L503.5 435.7 L504.4 435.4 L505.4 435.0 L506.3 434.6 L507.2 434.2 L508.1 433.8 L509.0 433.6 L510.0 433.4 L510.9 433.1 L511.8 432.8 L512.7 432.6 L513.6 432.3 L514.6 432.3 L515.5 432.5 L516.4 432.6 L517.3 432.3 L518.2 431.7 L519.2 431.0 L520.1 430.2 L521.0 429.6 L521.9 429.2 L522.9 428.7 L523.8 428.1 L524.7 427.4 L525.6 426.7 L526.5 426.0 L527.5 425.6 L528.4 425.5 L529.3 425.7 L530.2 426.0 L531.1 426.3 L532.1 426.5 L533.0 426.6 L533.9 426.2 L534.8 425.8 L535.7 425.1 L536.7 424.5 L537.6 424.0 L538.5 423.8 L539.4 423.6 L540.3 423.4 L541.3 423.3 L542.2 423.3 L543.1 423.4 L544.0 423.5 L545.0 423.4 L545.9 423.1 L546.8 422.7 L547.7 422.2 L548.6 421.8 L549.6 421.4 L550.5 421.1 L551.4 420.9 L552.3 420.8 L553.2 420.8 L554.2 420.7 L555.1 420.5 L556.0 420.1 L556.9 419.7 L557.8 419.3 L558.8 418.9 L559.7 418.5 L560.6 418.3 L561.5 418.0 L562.4 417.8 L563.4 417.8 L564.3 417.6 L565.2 417.3 L566.1 416.8 L567.1 416.1 L568.0 415.4 L568.9 414.7 L569.8 414.1 L570.7 413.5 L571.7 412.9 L572.6 412.5 L573.5 412.2 L574.4 412.2 L575.3 412.3 L576.3 412.6 L577.2 412.9 L578.1 413.2 L579.0 413.4 L579.9 413.5 L580.9 413.5 L581.8 413.4 L582.7 412.9 L583.6 412.3 L584.5 411.7 L585.5 411.4 L586.4 411.4 L587.3 411.4 L588.2 411.4 L589.1 411.1 L590.1 410.8 L591.0 410.5 L591.9 410.6 L592.8 411.0 L593.8 411.5 L594.7 411.7 L595.6 411.7 L596.5 411.3 L597.4 410.7 L598.4 410.2 L599.3 409.9 L600.2 409.6 L601.1 409.5 L602.0 409.5 L603.0 409.4 L603.9 409.1 L604.8 408.6 L605.7 408.0 L606.6 407.3 L607.6 407.0 L608.5 407.0 L609.4 407.3 L610.3 408.0 L611.2 409.0 L612.2 409.7 L613.1 410.2 L614.0 410.5 L614.9 410.9 L615.9 411.2 L616.8 411.4 L617.7 411.6 L618.6 411.8 L619.5 412.2 L620.5 412.8 L621.4 413.7 L622.3 414.9 L623.2 415.9 L624.1 416.6 L625.1 417.0 L626.0 417.1 L626.9 417.1 L627.8 417.2 L628.7 417.6 L629.7 418.0 L630.6 418.5 L631.5 419.1 L632.4 419.7 L633.3 420.1 L634.3 420.5 L635.2 421.0 L636.1 421.5 L637.0 422.0 L638.0 422.5 L638.9 423.0 L639.8 423.2 L640.7 423.5 L641.6 423.7 L642.6 423.9 L643.5 424.2 L644.4 424.8 L645.3 425.4 L646.2 426.0 L647.2 426.5 L648.1 427.0 L649.0 427.5 L649.9 428.2 L650.8 429.0 L651.8 429.7 L652.7 430.2 L653.6 430.5 L654.5 430.7 L655.4 430.8 L656.4 431.2 L657.3 431.9 L658.2 433.0 L659.1 434.2 L660.1 435.4 L661.0 436.2 L661.9 436.5 L662.8 436.5 L663.7 436.4 L664.7 436.3 L665.6 436.5 L666.5 437.0 L667.4 437.8 L668.3 438.7 L669.3 439.6 L670.2 440.3 L671.1 441.0 L672.0 441.6 L672.9 442.1 L673.9 442.7 L674.8 443.4 L675.7 443.9 L676.6 446.9 L677.5 449.8 L678.5 452.7 L679.4 455.8 L680.3 458.9 L681.2 462.0 L682.2 465.3 L683.1 468.5 L684.0 471.9 L684.9 475.2 L685.8 478.3 L686.8 481.2 L687.7 483.8 L688.6 486.5 L689.5 489.3 L690.4 492.3 L691.4 494.9 L692.3 497.2 L693.2 499.5 L694.1 502.0 L695.0 504.4 L696.0 506.5 L696.9 508.4 L697.8 510.4 L698.7 512.5 L699.6 515.0 L700.6 517.8 L701.5 520.7 L702.4 523.4 L703.3 525.8 L704.2 528.0 L705.2 530.2 L706.1 532.4 L707.0 534.9 L707.9 537.5 L708.9 539.7 L709.8 541.8 L710.7 543.9 L711.6 545.9 L712.5 547.8 L713.5 549.8 L714.4 551.7 L715.3 553.4 L716.2 554.8 L717.1 556.0 L718.1 557.0 L719.0 558.2 L719.9 559.7 L720.8 561.4 L721.7 561.3 L722.7 561.0 L723.6 560.8 L724.5 560.6 L725.4 560.5 L726.3 560.6 L727.3 560.8 L728.2 560.8 L729.1 560.7 L730.0 560.4 L731.0 560.2 L731.9 559.7 L732.8 559.3 L733.7 559.3 L734.6 559.9 L735.6 560.6 L736.5 561.5 L737.4 562.4 L738.3 563.3 L739.2 564.1 L740.2 564.8 L741.1 565.4 L742.0 565.6 L742.9 565.8 L743.8 566.1 L744.8 566.5 L745.7 566.9 L746.6 567.4 L747.5 568.0 L748.4 568.6 L749.4 569.5 L750.3 570.7 L751.2 571.7 L752.1 572.6 L753.1 573.2 L754.0 573.5 L754.9 573.5 L755.8 573.6 L756.7 573.9 L757.7 574.4 L758.6 575.0 L759.5 575.9 L760.4 577.1 L761.3 578.6 L762.3 580.1 L763.2 581.5 L764.1 582.6 L765.0 583.2 L765.9 583.5 L766.9 583.3 L767.8 583.0 L768.7 582.5 L769.6 582.3 L770.5 582.5 L771.5 583.0 L772.4 583.7 L773.3 584.4 L774.2 585.1 L775.2 585.8 L776.1 586.2 L777.0 586.6 L777.9 586.7 L778.8 586.8 L779.8 587.0 L780.7 587.4 L781.6 588.0 L782.5 588.4 L783.4 588.6 L784.4 588.4 L785.3 588.1 L786.2 588.0 L787.1 588.3 L788.0 588.8 L789.0 589.3 L789.9 589.7 L790.8 590.1 L791.7 590.4 L792.6 590.9 L793.6 591.6 L794.5 592.4 L795.4 593.2 L796.3 593.9 L797.3 594.3 L798.2 594.5 L799.1 594.6 L800.0 594.7 L800.9 594.9 L801.9 595.2 L802.8 595.4 L803.7 595.5 L804.6 595.4 L805.5 594.8 L806.5 594.2 L807.4 593.7 L808.3 593.6 L809.2 593.8 L810.1 593.9 L811.1 593.9 L812.0 593.7 L812.9 593.3 L813.8 592.8 L814.7 592.4 L815.7 592.3 L816.6 592.4 L817.5 592.5 L818.4 592.6 L819.3 592.4 L820.3 591.9 L821.2 591.1 L822.1 590.4 L823.0 589.7 L824.0 589.4 L824.9 589.5 L825.8 589.8 L826.7 590.1 L827.6 590.3 L828.6 590.1 L829.5 589.7 L830.4 589.2 L831.3 589.0 L832.2 588.8 L833.2 588.7 L834.1 588.5 L835.0 588.1 L835.9 587.7 L836.8 587.3 L837.8 587.0 L838.7 586.5 L839.6 585.9 L840.5 585.1 L841.4 584.0 L842.4 583.0 L843.3 582.4 L844.2 582.1 L845.1 582.3 L846.1 582.6 L847.0 582.7 L847.9 582.5 L848.8 582.0 L849.7 581.3 L850.7 580.6 L851.6 579.8 L852.5 579.2 L853.4 578.4 L854.3 577.6 L855.3 576.5 L856.2 575.5 L857.1 574.7 L858.0 574.1 L858.9 573.7 L859.9 573.3 L860.8 572.8 L861.7 572.4 L862.6 571.9 L863.5 571.3 L864.5 570.8 L865.4 570.4 L866.3 570.2 L867.2 570.1 L868.2 570.1 L869.1 570.2 L870.0 570.0 L870.9 569.7 L871.8 569.2 L872.8 568.4 L873.7 567.6 L874.6 566.7 L875.5 565.8 L876.4 565.0 L877.4 564.4 L878.3 564.0 L879.2 563.8 L880.1 563.6 L881.0 563.2 L882.0 562.6 L882.9 561.7 L883.8 560.8 L884.7 560.0 L885.6 559.3 L886.6 558.7 L887.5 558.1 L888.4 557.4 L889.3 556.9 L890.3 556.2 L891.2 555.5 L892.1 554.9 L893.0 554.3 L893.9 553.7 L894.9 553.0 L895.8 552.3 L896.7 551.6 L897.6 551.0 L898.5 550.5 L899.5 550.1 L900.4 549.8 L901.3 549.5 L902.2 549.0 L903.1 548.3 L904.1 547.4 L905.0 546.3 L905.9 545.4 L906.8 544.4 L907.7 542.0 L908.7 538.1 L909.6 534.4 L910.5 530.8 L911.4 527.3 L912.4 523.9 L913.3 520.3 L914.2 516.7 L915.1 513.2 L916.0 509.8 L917.0 506.3 L917.9 502.9 L918.8 499.4 L919.7 496.0 L920.6 493.3 L921.6 491.6 L922.5 489.7 L923.4 487.7 L924.3 485.9 L925.2 484.2 L926.2 482.7 L927.1 481.1 L928.0 479.4 L928.9 477.2 L929.8 474.9 L930.8 472.4 L931.7 470.0 L932.6 467.6 L933.5 465.4 L934.4 463.4 L935.4 461.5 L936.3 459.8 L937.2 458.3 L938.1 456.7 L939.1 455.2 L940.0 453.7 L940.9 452.2 L941.8 450.6 L942.7 448.9 L943.7 447.1 L944.6 445.2 L945.5 443.2 L946.4 442.1 L947.3 441.6 L948.3 441.2 L949.2 440.8 L950.1 440.4 L951.0 440.0 L951.9 439.6 L952.9 439.2 L953.8 438.8 L954.7 438.4 L955.6 438.1 L956.5 437.7 L957.5 437.5 L958.4 437.4 L959.3 437.3 L960.2 437.5 L961.2 437.7 L962.1 437.8 L963.0 437.7 L963.9 437.4 L964.8 436.9 L965.8 436.2 L966.7 435.7 L967.6 435.1 L968.5 434.7 L969.4 434.4 L970.4 434.0 L971.3 433.7 L972.2 433.6 L973.1 433.7 L974.0 433.8 L975.0 434.0 L975.9 434.0 L976.8 433.8 L977.7 433.6 L978.6 433.4 L979.6 433.3 L980.5 433.3 L981.4 433.4 L982.3 433.5 L983.3 433.5 L984.2 433.3 L985.1 433.0 L986.0 432.8 L986.9 432.7 L987.9 432.7 L988.8 432.4 L989.7 432.0 L990.6 431.3 L991.5 430.7 L992.5 430.1 L993.4 429.9 L994.3 429.9 L995.2 430.2 L996.1 430.5 L997.1 430.9 L998.0 431.0 L998.9 431.0 L999.8 430.9 L1000.7 430.7 L1001.7 430.3 L1002.6 430.0 L1003.5 429.7 L1004.4 429.5 L1005.4 429.3 L1006.3 429.3 L1007.2 429.1 L1008.1 428.9 L1009.0 428.6 L1010.0 428.4 L1010.9 428.1 L1011.8 427.9 L1012.7 427.6 L1013.6 427.1 L1014.6 426.6 L1015.5 426.0 L1016.4 425.7 L1017.3 425.7 L1018.2 426.0 L1019.2 426.4 L1020.1 426.8 L1021.0 427.0 L1021.9 426.9 L1022.8 426.5 L1023.8 426.1 L1024.7 425.8 L1025.6 425.6 L1026.5 425.5 L1027.5 425.4 L1028.4 425.3 L1029.3 425.2 L1030.2 425.0 L1031.1 424.8 L1032.1 424.4 L1033.0 423.9 L1033.9 423.3 L1034.8 422.9 L1035.7 422.6 L1036.7 422.7 L1037.6 422.7 L1038.5 422.6 L1039.4 422.4 L1040.3 422.0 L1041.3 421.5 L1042.2 421.1 L1043.1 420.6 L1044.0 420.0 L1044.9 419.4 L1045.9 419.0 L1046.8 418.6 L1047.7 418.2 L1048.6 418.0 L1049.5 417.8 L1050.5 417.8 L1051.4 417.9 L1052.3 418.1 L1053.2 418.3 L1054.2 418.4 L1055.1 418.3 L1056.0 418.1 L1056.9 417.8 L1057.8 417.6 L1058.8 417.5 L1059.7 417.5 L1060.6 417.5 L1061.5 417.4 L1062.4 417.2 L1063.4 417.1 L1064.3 416.9 L1065.2 416.8 L1066.1 416.5 L1067.0 416.6 L1068.0 416.7 L1068.9 416.9 L1069.8 417.0 L1070.7 417.2 L1071.6 417.4 L1072.6 417.6 L1073.5 417.8 L1074.4 418.2 L1075.3 418.6 L1076.3 419.0 L1077.2 419.2 L1078.1 419.3 L1079.0 419.4 L1079.9 419.6 L1080.9 419.8 L1081.8 420.0 L1082.7 420.1 L1083.6 420.1 L1084.5 420.5 L1085.5 421.1 L1086.4 421.9 L1087.3 422.8 L1088.2 423.3 L1089.1 423.3 L1090.1 423.2 L1091.0 422.9 L1091.9 422.8 L1092.8 422.9 L1093.7 423.1 L1094.7 423.4 L1095.6 423.7 L1096.5 424.2 L1097.4 424.7 L1098.4 425.1 L1099.3 425.5 L1100.2 425.9 L1101.1 426.3 L1102.0 426.7 L1103.0 427.2 L1103.9 427.7 L1104.8 428.0 L1105.7 428.1 L1106.6 428.1 L1107.6 428.1 L1108.5 428.2 L1109.4 428.5 L1110.3 428.8 L1111.2 429.0 L1112.2 429.2 L1113.1 429.5 L1114.0 429.9 L1114.9 430.6 L1115.8 431.2 L1116.8 431.9 L1117.7 432.4 L1118.6 432.8 L1119.5 433.1 L1120.5 433.5 L1121.4 434.0 L1122.3 435.1 L1123.2 436.1 L1124.1 437.0 L1125.1 437.7 L1126.0 438.5 L1126.9 439.4 L1127.8 440.2 L1128.7 441.0 L1129.7 441.7 L1130.6 442.5 L1131.5 443.2 L1132.4 443.9 L1133.3 444.6 L1134.3 445.4 L1135.2 446.1 L1136.1 446.9 L1137.0 447.7 L1137.9 448.7 L1138.9 449.7 L1139.8 450.8 L1140.7 451.8 L1141.6 454.7 L1142.6 457.5 L1143.5 460.2 L1144.4 463.0 L1145.3 465.9 L1146.2 469.1 L1147.2 472.4 L1148.1 475.8 L1149.0 479.0 L1149.9 482.0 L1150.8 485.0 L1151.8 488.1 L1152.7 491.3 L1153.6 494.6 L1154.5 497.4 L1155.4 500.2 L1156.4 503.0 L1157.3 505.8 L1158.2 508.4 L1159.1 511.0 L1160.0 513.4 L1161.0 515.8 L1161.9 518.2 L1162.8 520.8 L1163.7 523.5 L1164.6 526.2 L1165.6 529.1 L1166.5 531.8 L1167.4 534.3 L1168.3 536.5 L1169.3 538.6 L1170.2 540.5 L1171.1 542.6 L1172.0 545.0 L1172.9 547.7 L1173.9 550.4 L1174.8 553.2 L1175.7 555.7 L1176.6 558.1 L1177.5 560.5 L1178.5 560.1 L1179.4 559.9 L1180.3 559.8 L1181.2 559.8 L1182.1 559.8 L1183.1 559.9 L1184.0 559.8 L1184.9 559.7 L1185.8 559.5 L1186.7 559.3 L1187.7 559.2 L1188.6 559.1 L1189.5 559.0 L1190.4 559.0 L1191.4 559.0 L1192.3 559.2 L1193.2 559.4 L1194.1 559.5 L1195.0 559.2 L1196.0 558.8 L1196.9 558.3 L1197.8 559.0 L1198.7 559.7 L1199.6 560.6 L1200.6 561.3 L1201.5 562.0 L1202.4 562.8 L1203.3 563.8 L1204.2 564.9 L1205.2 566.1 L1206.1 567.3 L1207.0 568.4 L1207.9 569.3 L1208.8 570.1 L1209.8 570.7 L1210.7 571.2 L1211.6 571.7 L1212.5 572.1 L1213.5 572.5 L1214.4 573.0 L1215.3 573.6 L1216.2 574.4 L1217.1 575.4 L1218.1 576.6 L1219.0 577.5 L1219.9 578.4 L1220.8 579.2 L1221.7 579.9 L1222.7 580.6 L1223.6 581.5 L1224.5 582.5 L1225.4 583.5 L1226.3 584.5 L1227.3 585.5 L1228.2 586.4 L1229.1 587.1 L1230.0 587.3 L1230.9 587.1 L1231.9 586.8 L1232.8 586.4 L1233.7 586.3 L1234.6 586.4 L1235.6 586.6 L1236.5 586.9 L1237.4 587.3 L1238.3 587.7 L1239.2 587.8 L1240.2 588.0 L1241.1 588.0 L1242.0 588.2 L1242.9 588.5 L1243.8 589.0 L1244.8 589.3 L1245.7 589.6 L1246.6 589.7 L1247.5 589.9 L1248.4 590.0 L1249.4 590.3 L1250.3 590.8 L1251.2 591.4 L1252.1 592.0 L1253.0 592.3 L1254.0 592.6 L1254.9 592.7 L1255.8 592.8 L1256.7 592.9 L1257.7 593.0 L1258.6 593.0 L1259.5 593.1 L1260.4 593.2 L1261.3 593.6 L1262.3 593.9 L1263.2 594.1 L1264.1 594.4 L1265.0 594.6 L1265.9 594.6 L1266.9 594.7 L1267.8 594.7 L1268.7 594.8 L1269.6 594.9 L1270.5 595.2 L1271.5 595.5 L1272.4 595.7 L1273.3 595.3 L1274.2 594.8 L1275.1 594.5 L1276.1 594.2 L1277.0 594.0 L1277.9 593.9 L1278.8 593.8 L1279.7 593.6 L1280.7 593.7 L1281.6 594.0 L1282.5 594.3 L1283.4 594.6 L1284.4 594.7 L1285.3 594.6 L1286.2 594.3 L1287.1 594.0 L1288.0 593.5 L1289.0 593.0 L1289.9 592.4 L1290.8 592.0 L1291.7 591.6 L1292.6 591.4 L1293.6 591.2 L1294.5 590.9 L1295.4 590.3 L1296.3 589.7 L1297.2 589.1 L1298.2 588.5 L1299.1 587.8 L1300.0 586.9 L1300.9 586.1 L1301.8 585.5 L1302.8 585.1 L1303.7 585.1 L1304.6 584.9 L1305.5 584.4 L1306.5 583.7 L1307.4 582.9 L1308.3 582.3 L1309.2 582.2 L1310.1 582.2 L1311.1 582.1 L1312.0 581.8 L1312.9 581.2 L1313.8 580.5 L1314.7 579.6 L1315.7 578.9 L1316.6 578.2 L1317.5 577.6 L1318.4 577.2 L1319.3 576.8 L1320.3 576.5 L1321.2 576.1 L1322.1 575.5 L1323.0 574.8 L1323.9 574.0 L1324.9 573.2 L1325.8 572.4 L1326.7 571.6 L1327.6 570.9 L1328.6 570.2 L1329.5 569.6 L1330.4 569.1 L1331.3 568.8 L1332.2 568.4 L1333.2 567.6 L1334.1 566.6 L1335.0 565.7 L1335.9 565.0 L1336.8 564.6 L1337.8 564.4 L1338.7 564.2 L1339.6 563.8 L1340.5 563.3 L1341.4 562.6 L1342.4 562.0 L1343.3 561.5 L1344.2 561.2 L1345.1 560.9 L1346.0 560.5 L1347.0 560.0 L1347.9 559.2 L1348.8 558.1 L1349.7 557.0 L1350.7 556.0 L1351.6 555.2 L1352.5 554.8 L1353.4 554.6 L1354.3 554.4 L1355.3 554.0 L1356.2 553.3 L1357.1 552.5 L1358.0 551.4 L1358.9 550.3 L1359.9 549.2 L1360.8 548.3 L1361.7 547.5 L1362.6 546.8 L1363.5 546.3 L1364.5 545.8 L1365.4 545.4 L1366.3 545.3 L1367.2 545.2 L1368.1 542.7 L1369.1 540.0 L1370.0 537.0 L1370.9 533.9 L1371.8 530.9 L1372.8 528.2 L1373.7 525.7 L1374.6 523.3 L1375.5 520.8 L1376.4 518.1 L1377.4 515.3 L1378.3 512.4 L1379.2 509.5 L1380.1 506.5 L1381.0 503.7 L1382.0 500.7 L1382.9 497.6 L1383.8 494.4 L1384.7 491.2 L1385.6 488.2 L1386.6 486.1 L1387.5 484.2 L1388.4 482.2 L1389.3 480.0 L1390.2 478.0 L1391.2 475.9 L1392.1 473.7 L1393.0 471.5 L1393.9 469.4 L1394.8 467.4 L1395.8 465.6 L1396.7 463.9 L1397.6 462.2 L1398.5 460.5 L1399.5 458.8 L1400.4 456.9 L1401.3 454.7 L1402.2 452.2 L1403.1 449.8 L1404.1 447.5 L1405.0 445.2 L1405.9 443.1 L1406.8 441.0 L1407.7 439.0 L1408.7 438.0 L1409.6 438.2 L1410.5 438.3 L1411.4 438.4 L1412.3 438.3 L1413.3 438.2 L1414.2 437.9 L1415.1 437.5 L1416.0 437.2 L1416.9 437.1 L1417.9 437.0 L1418.8 436.9 L1419.7 436.7 L1420.6 436.3 L1421.6 436.0 L1422.5 435.8 L1423.4 435.8 L1424.3 435.9 L1425.2 436.0 L1426.2 435.9 L1427.1 435.5 L1428.0 435.3 L1428.9 435.0 L1429.8 435.1 L1430.8 435.2 L1431.7 435.3 L1432.6 435.1 L1433.5 434.4 L1434.4 433.7 L1435.4 433.2 L1436.3 432.9 L1437.2 432.9 L1438.1 432.8 L1439.0 432.6 L1440.0 432.4 L1440.9 432.1 L1441.8 432.0 L1442.7 431.9 L1443.7 431.7 L1444.6 431.5 L1445.5 431.5 L1446.4 431.5 L1447.3 431.6 L1448.3 431.6 L1449.2 431.4 L1450.1 431.0 L1451.0 430.6 L1451.9 430.2 L1452.9 429.7 L1453.8 429.2 L1454.7 428.7 L1455.6 428.2 L1456.5 427.8 L1457.5 427.6 L1458.4 427.5 L1459.3 427.5 L1460.2 427.6 L1461.1 427.8 L1462.1 428.0 L1463.0 428.3 L1463.9 428.5 L1464.8 428.7 L1465.8 428.6 L1466.7 428.3 L1467.6 427.7 L1468.5 427.1 L1469.4 426.6 L1470.4 426.2 L1471.3 426.1 L1472.2 426.2 L1473.1 426.3 L1474.0 426.3 L1475.0 426.3 L1475.9 426.0 L1476.8 425.7 L1477.7 425.5 L1478.6 425.2 L1479.6 424.7 L1480.5 424.1 L1481.4 423.4 L1482.3 423.1 L1483.2 423.2 L1484.2 423.5 L1485.1 424.0 L1486.0 424.1 L1486.9 423.8 L1487.9 423.3 L1488.8 422.7 L1489.7 422.1 L1490.6 421.6 L1491.5 421.3 L1492.5 421.1 L1493.4 421.0 L1494.3 421.0 L1495.2 421.0 L1496.1 421.1 L1497.1 421.3 L1498.0 421.1 L1498.9 420.8 L1499.8 420.1 L1500.7 419.2 L1501.7 418.5 L1502.6 418.2 L1503.5 418.2 L1504.4 418.3 L1505.3 418.4 L1506.3 418.4 L1507.2 418.1 L1508.1 417.8 L1509.0 417.5 L1509.9 417.2 L1510.9 417.0 L1511.8 416.7 L1512.7 416.3 L1513.6 415.9 L1514.6 415.6 L1515.5 415.3 L1516.4 415.1 L1517.3 414.8 L1518.2 414.3 L1519.2 413.8 L1520.1 413.3 L1521.0 413.3 L1521.9 413.6 L1522.8 414.4 L1523.8 415.2 L1524.7 415.6 L1525.6 415.9 L1526.5 416.1 L1527.4 416.4 L1528.4 416.8 L1529.3 417.2 L1530.2 417.3 L1531.1 417.3 L1532.0 417.3 L1533.0 417.4 L1533.9 417.6 L1534.8 417.8 L1535.7 417.9 L1536.7 417.7 L1537.6 417.5 L1538.5 417.5 L1539.4 417.8 L1540.3 418.3 L1541.3 418.6 L1542.2 418.7 L1543.1 418.7 L1544.0 418.6 L1544.9 418.6 L1545.9 418.8 L1546.8 419.0 L1547.7 419.3 L1548.6 419.8 L1549.5 420.4 L1550.5 420.9 L1551.4 421.5 L1552.3 422.1 L1553.2 422.6 L1554.1 423.1 L1555.1 423.4 L1556.0 423.3 L1556.9 422.8 L1557.8 422.3 L1558.8 422.0 L1559.7 422.1 L1560.6 422.6 L1561.5 423.3 L1562.4 424.1 L1563.4 424.8 L1564.3 425.3 L1565.2 425.6 L1566.1 425.8 L1567.0 425.9 L1568.0 425.9 L1568.9 426.3 L1569.8 426.7 L1570.7 427.3 L1571.6 428.0 L1572.6 428.8 L1573.5 429.6 L1574.4 430.4 L1575.3 431.0 L1576.2 431.5 L1577.2 431.9 L1578.1 432.6 L1579.0 433.5 L1579.9 434.5 L1580.9 435.4 L1581.8 436.2 L1582.7 436.7 L1583.6 437.3 L1584.5 437.8 L1585.5 438.3 L1586.4 438.8 L1587.3 439.3 L1588.2 439.8 L1589.1 440.4 L1590.1 441.1 L1591.0 441.9 L1591.9 442.8 L1592.8 443.7 L1593.7 444.6 L1594.7 445.5 L1595.6 446.3 L1596.5 446.9 L1597.4 447.7 L1598.3 448.5 L1599.3 449.6 L1600.2 450.8 L1601.1 451.7 L1602.0 453.6 L1603.0 456.4 L1603.9 459.1 L1604.8 461.9 L1605.7 464.9 L1606.6 468.4 L1607.6 471.9 L1608.5 475.5 L1609.4 478.9 L1610.3 482.1 L1611.2 485.1 L1612.2 488.1 L1613.1 491.1 L1614.0 494.1 L1614.9 496.8 L1615.8 499.6 L1616.8 502.4 L1617.7 505.1 L1618.6 507.9 L1619.5 510.7 L1620.4 513.6 L1621.4 516.2 L1622.3 518.8 L1623.2 521.3 L1624.1 523.8 L1625.0 526.2 L1626.0 528.8 L1626.9 531.5 L1627.8 534.2 L1628.7 537.1 L1629.7 540.2 L1630.6 543.5 L1631.5 546.8 L1632.4 550.0 L1633.3 552.9 L1634.3 555.6 L1635.2 558.3 L1636.1 560.0 L1637.0 560.5 L1637.9 560.8 L1638.9 560.8 L1639.8 560.4 L1640.7 559.8 L1641.6 559.4 L1642.5 559.6 L1643.5 560.5 L1644.4 561.8 L1645.3 563.0 L1646.2 563.7 L1647.1 563.8 L1648.1 563.3 L1649.0 562.8 L1649.9 562.5 L1650.8 562.5 L1651.8 562.8 L1652.7 563.3 L1653.6 563.9 L1654.5 564.5 L1655.4 564.9 L1656.4 565.0 L1657.3 564.9 L1658.2 565.1 L1659.1 565.4 L1660.0 566.0 L1661.0 566.5 L1661.9 566.9 L1662.8 567.1 L1663.7 567.3 L1664.6 567.4 L1665.6 567.6 L1666.5 567.9 L1667.4 568.2 L1668.3 568.6 L1669.2 569.0 L1670.2 569.2 L1671.1 569.6 L1672.0 569.9 L1672.9 570.4 L1673.9 570.8 L1674.8 571.1 L1675.7 571.4 L1676.6 571.6 L1677.5 572.0 L1678.5 572.5 L1679.4 573.1 L1680.3 573.6 L1681.2 573.9 L1682.1 574.4 L1683.1 574.7 L1684.0 574.9 L1684.9 575.3 L1685.8 575.8 L1686.7 576.5 L1687.7 577.1 L1688.6 577.7 L1689.5 578.4 L1690.4 579.0 L1691.3 579.7 L1692.3 580.5 L1693.2 581.2 L1694.1 581.7 L1695.0 582.2 L1696.0 582.5 L1696.9 582.8 L1697.8 583.1 L1698.7 583.6 L1699.6 584.5 L1700.6 585.6 L1701.5 586.7 L1702.4 587.6 L1703.3 588.3 L1704.2 588.7 L1705.2 588.6 L1706.1 588.6 L1707.0 588.7 L1707.9 588.9 L1708.8 589.1 L1709.8 589.2 L1710.7 589.2 L1711.6 589.0 L1712.5 588.6 L1713.4 588.0 L1714.4 587.6 L1715.3 587.3 L1716.2 587.2 L1717.1 587.2 L1718.1 587.2 L1719.0 587.5 L1719.9 587.8 L1720.8 588.2 L1721.7 588.7 L1722.7 589.1 L1723.6 589.6 L1724.5 590.3 L1725.4 590.9 L1726.3 591.4 L1727.3 591.7 L1728.2 591.6 L1729.1 591.3" fill="none" stroke="#ff1a1a" stroke-width="2.6" stroke-linejoin="round" clip-path="url(#c2)"/>
<path d="M232.8 471.6 L233.7 449.5 L234.6 455.4 L235.6 461.4 L236.5 462.7 L237.4 471.5 L238.3 470.2 L239.2 478.5 L240.2 477.3 L241.1 480.2 L242.0 491.7 L242.9 492.6 L243.8 500.9 L244.8 502.0 L245.7 506.6 L246.6 515.5 L247.5 504.4 L248.5 517.3 L249.4 514.8 L250.3 527.0 L251.2 520.8 L252.1 514.9 L253.1 511.5 L254.0 521.1 L254.9 519.5 L255.8 536.3 L256.7 527.2 L257.7 531.5 L258.6 540.1 L259.5 547.1 L260.4 549.1 L261.3 554.4 L262.3 548.6 L263.2 546.7 L264.1 549.3 L265.0 555.4 L265.9 574.1 L266.9 564.3 L267.8 560.3 L268.7 569.7 L269.6 572.8 L270.6 565.0 L271.5 559.0 L272.4 557.5 L273.3 554.2 L274.2 555.9 L275.2 551.8 L276.1 558.4 L277.0 566.4 L277.9 571.3 L278.8 556.6 L279.8 564.1 L280.7 558.3 L281.6 561.7 L282.5 557.2 L283.4 564.9 L284.4 564.0 L285.3 568.8 L286.2 563.3 L287.1 566.0 L288.0 562.9 L289.0 562.6 L289.9 563.7 L290.8 557.0 L291.7 560.5 L292.7 562.6 L293.6 550.0 L294.5 569.9 L295.4 576.5 L296.3 571.5 L297.3 571.3 L298.2 567.0 L299.1 567.8 L300.0 568.9 L300.9 564.9 L301.9 570.5 L302.8 577.9 L303.7 575.9 L304.6 573.9 L305.5 572.9 L306.5 573.4 L307.4 568.4 L308.3 575.4 L309.2 582.3 L310.1 580.5 L311.1 578.9 L312.0 583.3 L312.9 585.3 L313.8 587.3 L314.8 590.5 L315.7 592.3 L316.6 592.9 L317.5 581.8 L318.4 583.7 L319.4 582.2 L320.3 574.9 L321.2 581.4 L322.1 579.7 L323.0 581.0 L324.0 575.9 L324.9 591.5 L325.8 585.9 L326.7 577.5 L327.6 586.0 L328.6 578.4 L329.5 590.1 L330.4 594.4 L331.3 582.2 L332.2 589.0 L333.2 589.0 L334.1 583.0 L335.0 594.1 L335.9 582.9 L336.9 594.1 L337.8 595.7 L338.7 594.9 L339.6 590.3 L340.5 588.8 L341.5 582.6 L342.4 596.0 L343.3 597.5 L344.2 594.3 L345.1 590.8 L346.1 591.1 L347.0 595.9 L347.9 594.2 L348.8 591.3 L349.7 601.7 L350.7 593.0 L351.6 574.6 L352.5 594.1 L353.4 586.3 L354.3 595.9 L355.3 599.8 L356.2 613.7 L357.1 598.0 L358.0 594.9 L358.9 592.7 L359.9 592.3 L360.8 591.7 L361.7 592.6 L362.6 602.1 L363.6 595.2 L364.5 584.6 L365.4 604.0 L366.3 592.4 L367.2 595.5 L368.2 594.3 L369.1 598.3 L370.0 598.3 L370.9 597.2 L371.8 591.0 L372.8 597.7 L373.7 601.4 L374.6 602.9 L375.5 587.6 L376.4 592.8 L377.4 594.9 L378.3 588.2 L379.2 584.0 L380.1 586.7 L381.0 591.2 L382.0 587.7 L382.9 589.0 L383.8 598.5 L384.7 577.5 L385.7 586.9 L386.6 591.2 L387.5 581.8 L388.4 575.0 L389.3 584.0 L390.3 590.1 L391.2 591.2 L392.1 587.7 L393.0 587.1 L393.9 582.6 L394.9 577.7 L395.8 580.7 L396.7 587.3 L397.6 584.7 L398.5 589.4 L399.5 583.9 L400.4 590.1 L401.3 587.8 L402.2 586.8 L403.1 583.1 L404.1 582.4 L405.0 578.4 L405.9 586.1 L406.8 584.2 L407.8 577.2 L408.7 576.5 L409.6 575.5 L410.5 574.7 L411.4 574.9 L412.4 575.3 L413.3 573.0 L414.2 581.3 L415.1 577.8 L416.0 572.4 L417.0 577.9 L417.9 574.2 L418.8 576.5 L419.7 574.0 L420.6 568.2 L421.6 568.4 L422.5 567.3 L423.4 566.0 L424.3 558.3 L425.2 558.9 L426.2 560.1 L427.1 555.0 L428.0 558.1 L428.9 548.7 L429.9 558.7 L430.8 555.2 L431.7 561.5 L432.6 561.1 L433.5 559.5 L434.5 568.8 L435.4 561.7 L436.3 558.7 L437.2 564.7 L438.1 552.1 L439.1 551.1 L440.0 544.2 L440.9 551.0 L441.8 549.1 L442.7 541.9 L443.7 547.7 L444.6 542.5 L445.5 546.1 L446.4 546.1 L447.3 546.2 L448.3 546.5 L449.2 543.4 L450.1 546.2 L451.0 538.2 L452.0 531.2 L452.9 544.9 L453.8 544.7 L454.7 551.7 L455.6 525.8 L456.6 537.2 L457.5 527.2 L458.4 528.9 L459.3 528.8 L460.2 526.2 L461.2 519.3 L462.1 528.7 L463.0 508.6 L463.9 508.4 L464.8 508.7 L465.8 506.8 L466.7 499.9 L467.6 498.2 L468.5 499.1 L469.4 497.2 L470.4 494.7 L471.3 486.5 L472.2 491.0 L473.1 483.6 L474.0 482.3 L475.0 478.5 L475.9 475.4 L476.8 471.2 L477.7 471.4 L478.7 467.4 L479.6 472.2 L480.5 469.1 L481.4 461.7 L482.3 467.2 L483.3 459.5 L484.2 452.2 L485.1 455.2 L486.0 457.5 L486.9 444.5 L487.9 442.4 L488.8 443.4 L489.7 435.8 L490.6 440.7 L491.5 448.8 L492.5 447.8 L493.4 442.8 L494.3 438.5 L495.2 435.4 L496.1 445.3 L497.1 451.0 L498.0 437.6 L498.9 439.4 L499.8 439.1 L500.8 434.8 L501.7 432.3 L502.6 430.0 L503.5 439.2 L504.4 463.7 L505.4 449.9 L506.3 443.3 L507.2 431.0 L508.1 442.6 L509.0 431.4 L510.0 430.8 L510.9 431.2 L511.8 433.8 L512.7 434.6 L513.6 436.3 L514.6 441.5 L515.5 437.0 L516.4 439.5 L517.3 437.4 L518.2 437.7 L519.2 428.3 L520.1 437.0 L521.0 427.6 L521.9 432.2 L522.9 427.7 L523.8 423.9 L524.7 427.0 L525.6 425.4 L526.5 423.2 L527.5 430.1 L528.4 424.4 L529.3 431.9 L530.2 429.2 L531.1 426.0 L532.1 417.6 L533.0 412.1 L533.9 436.2 L534.8 438.2 L535.7 429.7 L536.7 425.8 L537.6 423.1 L538.5 418.0 L539.4 419.4 L540.3 421.8 L541.3 421.8 L542.2 422.9 L543.1 422.7 L544.0 418.1 L545.0 418.3 L545.9 415.8 L546.8 424.0 L547.7 435.2 L548.6 428.9 L549.6 424.0 L550.5 427.6 L551.4 422.4 L552.3 429.9 L553.2 422.8 L554.2 418.7 L555.1 424.6 L556.0 417.3 L556.9 419.8 L557.8 411.9 L558.8 419.0 L559.7 418.5 L560.6 414.0 L561.5 417.4 L562.4 427.3 L563.4 422.1 L564.3 418.5 L565.2 423.9 L566.1 423.8 L567.1 420.7 L568.0 422.3 L568.9 424.6 L569.8 420.9 L570.7 418.4 L571.7 427.1 L572.6 416.8 L573.5 414.2 L574.4 405.9 L575.3 420.7 L576.3 414.1 L577.2 417.3 L578.1 413.3 L579.0 414.1 L579.9 428.4 L580.9 414.0 L581.8 412.5 L582.7 413.5 L583.6 402.4 L584.5 412.4 L585.5 408.0 L586.4 420.8 L587.3 416.9 L588.2 418.1 L589.1 409.5 L590.1 406.7 L591.0 407.9 L591.9 417.1 L592.8 409.9 L593.8 411.3 L594.7 392.9 L595.6 411.3 L596.5 415.7 L597.4 417.3 L598.4 413.4 L599.3 422.2 L600.2 410.5 L601.1 411.4 L602.0 412.1 L603.0 408.1 L603.9 409.9 L604.8 412.9 L605.7 408.0 L606.6 415.6 L607.6 413.2 L608.5 406.9 L609.4 402.5 L610.3 410.4 L611.2 407.2 L612.2 395.1 L613.1 403.5 L614.0 401.6 L614.9 406.7 L615.9 408.0 L616.8 408.5 L617.7 408.8 L618.6 410.6 L619.5 412.2 L620.5 414.9 L621.4 421.1 L622.3 415.3 L623.2 412.1 L624.1 415.5 L625.1 420.9 L626.0 412.9 L626.9 426.4 L627.8 408.4 L628.7 413.9 L629.7 413.7 L630.6 413.6 L631.5 407.6 L632.4 427.8 L633.3 424.2 L634.3 411.0 L635.2 414.0 L636.1 414.0 L637.0 414.0 L638.0 425.0 L638.9 403.5 L639.8 416.6 L640.7 426.6 L641.6 420.0 L642.6 424.1 L643.5 423.2 L644.4 421.8 L645.3 406.7 L646.2 426.2 L647.2 400.2 L648.1 419.4 L649.0 423.6 L649.9 422.5 L650.8 423.8 L651.8 417.6 L652.7 424.8 L653.6 434.4 L654.5 425.9 L655.4 429.3 L656.4 425.8 L657.3 438.5 L658.2 423.3 L659.1 421.9 L660.1 443.7 L661.0 428.3 L661.9 434.3 L662.8 429.4 L663.7 437.2 L664.7 425.5 L665.6 436.2 L666.5 431.8 L667.4 433.2 L668.3 437.7 L669.3 440.3 L670.2 430.5 L671.1 447.2 L672.0 439.3 L672.9 437.7 L673.9 434.9 L674.8 436.6 L675.7 441.4 L676.6 435.4 L677.5 434.3 L678.5 435.3 L679.4 438.3 L680.3 440.9 L681.2 454.9 L682.2 440.3 L683.1 440.2 L684.0 442.9 L684.9 434.9 L685.8 449.2 L686.8 446.5 L687.7 451.9 L688.6 451.9 L689.5 454.0 L690.4 465.6 L691.4 458.6 L692.3 467.6 L693.2 467.3 L694.1 462.9 L695.0 473.2 L696.0 476.6 L696.9 487.5 L697.8 483.5 L698.7 490.3 L699.6 492.4 L700.6 496.4 L701.5 488.4 L702.4 499.9 L703.3 500.6 L704.2 507.5 L705.2 507.0 L706.1 502.2 L707.0 514.3 L707.9 503.7 L708.9 515.0 L709.8 517.8 L710.7 519.4 L711.6 522.5 L712.5 525.1 L713.5 528.4 L714.4 529.0 L715.3 535.7 L716.2 540.1 L717.1 539.0 L718.1 546.0 L719.0 541.4 L719.9 541.9 L720.8 539.9 L721.7 549.0 L722.7 545.7 L723.6 543.5 L724.5 549.2 L725.4 545.6 L726.3 549.1 L727.3 561.3 L728.2 555.2 L729.1 553.4 L730.0 557.4 L731.0 556.8 L731.9 544.6 L732.8 556.5 L733.7 557.5 L734.6 553.7 L735.6 558.4 L736.5 571.4 L737.4 560.3 L738.3 557.8 L739.2 551.1 L740.2 558.9 L741.1 563.0 L742.0 547.6 L742.9 563.7 L743.8 565.5 L744.8 560.7 L745.7 560.6 L746.6 563.8 L747.5 557.4 L748.4 558.9 L749.4 552.0 L750.3 567.8 L751.2 559.2 L752.1 564.1 L753.1 571.3 L754.0 570.2 L754.9 569.2 L755.8 571.5 L756.7 574.6 L757.7 565.0 L758.6 572.4 L759.5 568.8 L760.4 569.5 L761.3 563.9 L762.3 569.8 L763.2 571.4 L764.1 560.9 L765.0 573.4 L765.9 570.9 L766.9 576.3 L767.8 572.0 L768.7 572.9 L769.6 572.4 L770.5 577.1 L771.5 580.6 L772.4 577.7 L773.3 573.9 L774.2 582.7 L775.2 593.7 L776.1 588.0 L777.0 579.1 L777.9 601.8 L778.8 593.3 L779.8 589.2 L780.7 576.5 L781.6 582.3 L782.5 580.4 L783.4 581.3 L784.4 584.7 L785.3 583.7 L786.2 588.4 L787.1 589.6 L788.0 591.5 L789.0 605.1 L789.9 585.2 L790.8 586.9 L791.7 586.6 L792.6 580.3 L793.6 587.1 L794.5 592.2 L795.4 586.4 L796.3 588.0 L797.3 596.6 L798.2 591.5 L799.1 590.5 L800.0 594.7 L800.9 581.6 L801.9 591.9 L802.8 595.4 L803.7 588.7 L804.6 602.6 L805.5 594.3 L806.5 584.0 L807.4 589.5 L808.3 593.8 L809.2 590.7 L810.1 590.2 L811.1 592.7 L812.0 603.7 L812.9 606.8 L813.8 599.9 L814.7 610.3 L815.7 601.7 L816.6 591.6 L817.5 592.0 L818.4 597.9 L819.3 587.5 L820.3 593.8 L821.2 588.2 L822.1 593.1 L823.0 593.9 L824.0 596.1 L824.9 594.4 L825.8 598.2 L826.7 597.5 L827.6 589.9 L828.6 597.2 L829.5 594.6 L830.4 590.9 L831.3 594.2 L832.2 593.4 L833.2 586.1 L834.1 594.5 L835.0 593.4 L835.9 585.2 L836.8 591.8 L837.8 590.6 L838.7 583.5 L839.6 589.4 L840.5 570.1 L841.4 583.0 L842.4 582.0 L843.3 588.3 L844.2 587.9 L845.1 581.9 L846.1 580.1 L847.0 586.0 L847.9 585.7 L848.8 584.5 L849.7 585.9 L850.7 581.4 L851.6 580.2 L852.5 578.7 L853.4 586.7 L854.3 581.9 L855.3 583.0 L856.2 579.6 L857.1 580.3 L858.0 569.2 L858.9 576.9 L859.9 579.9 L860.8 573.7 L861.7 564.8 L862.6 571.6 L863.5 573.3 L864.5 575.3 L865.4 575.0 L866.3 576.1 L867.2 571.5 L868.2 572.1 L869.1 576.1 L870.0 572.0 L870.9 575.0 L871.8 573.6 L872.8 575.5 L873.7 573.5 L874.6 571.3 L875.5 560.8 L876.4 562.7 L877.4 560.2 L878.3 562.4 L879.2 562.8 L880.1 566.8 L881.0 564.6 L882.0 572.5 L882.9 568.8 L883.8 578.3 L884.7 558.5 L885.6 559.5 L886.6 565.0 L887.5 556.6 L888.4 554.9 L889.3 567.1 L890.3 558.2 L891.2 559.4 L892.1 558.1 L893.0 554.9 L893.9 559.4 L894.9 565.5 L895.8 561.6 L896.7 559.0 L897.6 568.5 L898.5 556.5 L899.5 551.4 L900.4 553.9 L901.3 553.4 L902.2 549.7 L903.1 543.7 L904.1 554.6 L905.0 553.3 L905.9 549.4 L906.8 546.4 L907.7 543.7 L908.7 561.4 L909.6 540.0 L910.5 548.7 L911.4 548.9 L912.4 546.7 L913.3 547.0 L914.2 541.0 L915.1 539.0 L916.0 523.4 L917.0 525.8 L917.9 519.9 L918.8 521.4 L919.7 525.4 L920.6 529.6 L921.6 514.1 L922.5 513.4 L923.4 508.9 L924.3 504.6 L925.2 500.5 L926.2 491.1 L927.1 490.9 L928.0 480.5 L928.9 489.2 L929.8 473.2 L930.8 477.6 L931.7 482.3 L932.6 477.1 L933.5 478.6 L934.4 479.2 L935.4 474.8 L936.3 474.0 L937.2 481.0 L938.1 469.5 L939.1 484.4 L940.0 488.0 L940.9 466.5 L941.8 464.0 L942.7 458.4 L943.7 454.3 L944.6 451.7 L945.5 443.0 L946.4 441.2 L947.3 448.6 L948.3 448.1 L949.2 443.2 L950.1 447.0 L951.0 443.1 L951.9 439.3 L952.9 460.0 L953.8 440.5 L954.7 442.1 L955.6 446.1 L956.5 447.5 L957.5 442.9 L958.4 442.5 L959.3 433.2 L960.2 434.2 L961.2 436.4 L962.1 431.4 L963.0 434.9 L963.9 442.0 L964.8 439.4 L965.8 440.9 L966.7 433.0 L967.6 441.6 L968.5 437.2 L969.4 422.2 L970.4 433.8 L971.3 429.2 L972.2 440.3 L973.1 435.3 L974.0 438.8 L975.0 430.2 L975.9 437.0 L976.8 441.7 L977.7 444.4 L978.6 435.9 L979.6 438.9 L980.5 431.4 L981.4 429.2 L982.3 434.3 L983.3 437.6 L984.2 436.2 L985.1 441.2 L986.0 432.6 L986.9 441.3 L987.9 429.4 L988.8 432.2 L989.7 428.6 L990.6 428.7 L991.5 437.8 L992.5 431.4 L993.4 427.3 L994.3 435.3 L995.2 432.1 L996.1 432.7 L997.1 434.2 L998.0 427.9 L998.9 427.0 L999.8 435.0 L1000.7 438.3 L1001.7 435.1 L1002.6 433.4 L1003.5 435.3 L1004.4 422.4 L1005.4 427.5 L1006.3 422.4 L1007.2 427.4 L1008.1 425.0 L1009.0 418.8 L1010.0 438.4 L1010.9 427.7 L1011.8 432.4 L1012.7 425.7 L1013.6 433.2 L1014.6 428.9 L1015.5 434.0 L1016.4 430.4 L1017.3 428.0 L1018.2 420.3 L1019.2 419.5 L1020.1 424.7 L1021.0 422.8 L1021.9 429.2 L1022.8 432.3 L1023.8 425.0 L1024.7 422.5 L1025.6 428.4 L1026.5 431.6 L1027.5 429.3 L1028.4 425.2 L1029.3 423.7 L1030.2 423.0 L1031.1 415.7 L1032.1 421.4 L1033.0 414.2 L1033.9 417.8 L1034.8 418.4 L1035.7 418.1 L1036.7 408.9 L1037.6 409.0 L1038.5 425.7 L1039.4 428.5 L1040.3 426.4 L1041.3 419.0 L1042.2 428.6 L1043.1 440.6 L1044.0 437.6 L1044.9 426.1 L1045.9 420.4 L1046.8 415.9 L1047.7 421.1 L1048.6 418.4 L1049.5 417.4 L1050.5 423.3 L1051.4 435.7 L1052.3 415.8 L1053.2 415.9 L1054.2 410.9 L1055.1 420.0 L1056.0 411.4 L1056.9 418.7 L1057.8 416.3 L1058.8 414.7 L1059.7 421.8 L1060.6 408.4 L1061.5 407.6 L1062.4 406.4 L1063.4 437.0 L1064.3 416.6 L1065.2 416.8 L1066.1 413.5 L1067.0 423.3 L1068.0 425.8 L1068.9 416.6 L1069.8 422.2 L1070.7 426.2 L1071.6 423.1 L1072.6 413.5 L1073.5 413.6 L1074.4 411.2 L1075.3 410.4 L1076.3 434.1 L1077.2 407.8 L1078.1 411.6 L1079.0 411.2 L1079.9 417.1 L1080.9 420.5 L1081.8 420.2 L1082.7 408.8 L1083.6 415.8 L1084.5 415.9 L1085.5 414.7 L1086.4 415.8 L1087.3 417.0 L1088.2 419.6 L1089.1 422.6 L1090.1 421.3 L1091.0 425.5 L1091.9 426.0 L1092.8 414.8 L1093.7 414.8 L1094.7 415.9 L1095.6 422.3 L1096.5 428.2 L1097.4 412.7 L1098.4 412.5 L1099.3 424.6 L1100.2 422.9 L1101.1 439.2 L1102.0 429.0 L1103.0 426.0 L1103.9 427.6 L1104.8 420.2 L1105.7 415.4 L1106.6 426.8 L1107.6 420.4 L1108.5 424.3 L1109.4 428.0 L1110.3 426.1 L1111.2 425.5 L1112.2 420.1 L1113.1 424.2 L1114.0 446.0 L1114.9 437.8 L1115.8 413.2 L1116.8 431.0 L1117.7 431.6 L1118.6 434.8 L1119.5 429.9 L1120.5 433.9 L1121.4 433.3 L1122.3 435.8 L1123.2 428.4 L1124.1 432.7 L1125.1 432.6 L1126.0 425.7 L1126.9 422.6 L1127.8 430.2 L1128.7 431.5 L1129.7 435.9 L1130.6 433.2 L1131.5 435.1 L1132.4 445.4 L1133.3 436.8 L1134.3 432.5 L1135.2 438.0 L1136.1 434.0 L1137.0 439.2 L1137.9 443.9 L1138.9 431.1 L1139.8 453.3 L1140.7 444.7 L1141.6 438.8 L1142.6 441.2 L1143.5 455.8 L1144.4 440.7 L1145.3 450.6 L1146.2 451.9 L1147.2 446.3 L1148.1 441.1 L1149.0 443.1 L1149.9 449.9 L1150.8 449.2 L1151.8 451.1 L1152.7 462.0 L1153.6 452.8 L1154.5 471.9 L1155.4 469.1 L1156.4 476.6 L1157.3 480.1 L1158.2 484.2 L1159.1 474.4 L1160.0 488.4 L1161.0 479.8 L1161.9 492.0 L1162.8 492.5 L1163.7 496.9 L1164.6 484.1 L1165.6 505.6 L1166.5 498.5 L1167.4 508.0 L1168.3 502.0 L1169.3 511.5 L1170.2 518.8 L1171.1 517.7 L1172.0 522.0 L1172.9 519.8 L1173.9 531.7 L1174.8 523.2 L1175.7 527.2 L1176.6 533.4 L1177.5 547.6 L1178.5 532.0 L1179.4 547.9 L1180.3 547.7 L1181.2 558.9 L1182.1 551.2 L1183.1 552.4 L1184.0 552.6 L1184.9 555.7 L1185.8 558.1 L1186.7 554.6 L1187.7 560.1 L1188.6 559.1 L1189.5 557.5 L1190.4 559.6 L1191.4 555.8 L1192.3 564.5 L1193.2 560.3 L1194.1 560.0 L1195.0 562.6 L1196.0 558.0 L1196.9 565.0 L1197.8 565.3 L1198.7 564.0 L1199.6 557.2 L1200.6 560.6 L1201.5 552.5 L1202.4 548.4 L1203.3 559.1 L1204.2 561.4 L1205.2 555.4 L1206.1 561.1 L1207.0 564.0 L1207.9 569.8 L1208.8 563.9 L1209.8 558.4 L1210.7 560.8 L1211.6 565.1 L1212.5 566.0 L1213.5 555.0 L1214.4 564.2 L1215.3 557.1 L1216.2 564.0 L1217.1 564.1 L1218.1 564.3 L1219.0 571.4 L1219.9 569.7 L1220.8 575.3 L1221.7 562.7 L1222.7 555.2 L1223.6 571.2 L1224.5 577.3 L1225.4 579.5 L1226.3 576.8 L1227.3 579.1 L1228.2 583.3 L1229.1 587.6 L1230.0 581.6 L1230.9 580.8 L1231.9 592.0 L1232.8 587.3 L1233.7 588.2 L1234.6 586.9 L1235.6 587.1 L1236.5 589.3 L1237.4 584.8 L1238.3 590.7 L1239.2 591.8 L1240.2 586.6 L1241.1 583.9 L1242.0 581.4 L1242.9 588.7 L1243.8 587.9 L1244.8 585.6 L1245.7 576.9 L1246.6 586.3 L1247.5 587.7 L1248.4 592.2 L1249.4 578.9 L1250.3 596.3 L1251.2 590.8 L1252.1 587.3 L1253.0 583.7 L1254.0 583.3 L1254.9 588.2 L1255.8 590.3 L1256.7 578.0 L1257.7 589.9 L1258.6 594.1 L1259.5 598.7 L1260.4 591.9 L1261.3 589.7 L1262.3 590.4 L1263.2 589.6 L1264.1 587.2 L1265.0 578.5 L1265.9 590.1 L1266.9 589.0 L1267.8 589.0 L1268.7 593.7 L1269.6 597.4 L1270.5 600.0 L1271.5 592.6 L1272.4 588.4 L1273.3 581.8 L1274.2 594.6 L1275.1 596.1 L1276.1 590.8 L1277.0 589.0 L1277.9 599.9 L1278.8 593.7 L1279.7 598.2 L1280.7 580.6 L1281.6 600.3 L1282.5 605.5 L1283.4 594.9 L1284.4 597.0 L1285.3 593.4 L1286.2 596.1 L1287.1 592.9 L1288.0 596.6 L1289.0 594.9 L1289.9 592.7 L1290.8 596.3 L1291.7 594.9 L1292.6 591.7 L1293.6 595.7 L1294.5 603.2 L1295.4 581.7 L1296.3 592.1 L1297.2 590.3 L1298.2 589.6 L1299.1 589.5 L1300.0 593.0 L1300.9 593.8 L1301.8 593.5 L1302.8 593.5 L1303.7 591.5 L1304.6 586.8 L1305.5 585.7 L1306.5 587.0 L1307.4 584.7 L1308.3 585.9 L1309.2 587.7 L1310.1 586.4 L1311.1 585.2 L1312.0 586.3 L1312.9 586.7 L1313.8 576.0 L1314.7 586.6 L1315.7 576.6 L1316.6 579.5 L1317.5 578.9 L1318.4 573.6 L1319.3 575.9 L1320.3 566.6 L1321.2 571.6 L1322.1 581.1 L1323.0 575.7 L1323.9 572.7 L1324.9 581.2 L1325.8 574.4 L1326.7 559.7 L1327.6 576.6 L1328.6 579.0 L1329.5 575.8 L1330.4 575.3 L1331.3 576.1 L1332.2 574.9 L1333.2 570.7 L1334.1 574.3 L1335.0 573.4 L1335.9 578.8 L1336.8 579.8 L1337.8 563.8 L1338.7 571.9 L1339.6 561.3 L1340.5 568.7 L1341.4 564.4 L1342.4 562.3 L1343.3 568.1 L1344.2 568.1 L1345.1 561.4 L1346.0 565.7 L1347.0 562.9 L1347.9 564.3 L1348.8 563.1 L1349.7 562.8 L1350.7 565.1 L1351.6 564.8 L1352.5 561.5 L1353.4 556.5 L1354.3 564.0 L1355.3 537.5 L1356.2 555.3 L1357.1 548.4 L1358.0 570.0 L1358.9 564.3 L1359.9 563.3 L1360.8 550.1 L1361.7 553.3 L1362.6 545.8 L1363.5 547.4 L1364.5 555.3 L1365.4 550.6 L1366.3 551.6 L1367.2 552.0 L1368.1 549.9 L1369.1 556.8 L1370.0 540.5 L1370.9 544.2 L1371.8 544.2 L1372.8 541.6 L1373.7 544.5 L1374.6 539.1 L1375.5 541.1 L1376.4 539.7 L1377.4 539.2 L1378.3 532.8 L1379.2 519.5 L1380.1 519.9 L1381.0 519.0 L1382.0 513.8 L1382.9 508.7 L1383.8 517.5 L1384.7 493.8 L1385.6 526.1 L1386.6 508.5 L1387.5 508.0 L1388.4 503.4 L1389.3 495.9 L1390.2 490.3 L1391.2 487.7 L1392.1 481.7 L1393.0 472.4 L1393.9 483.4 L1394.8 480.0 L1395.8 474.2 L1396.7 474.0 L1397.6 473.2 L1398.5 469.6 L1399.5 465.8 L1400.4 459.4 L1401.3 456.0 L1402.2 458.5 L1403.1 462.1 L1404.1 453.2 L1405.0 454.9 L1405.9 460.1 L1406.8 445.7 L1407.7 456.7 L1408.7 451.1 L1409.6 449.9 L1410.5 444.1 L1411.4 448.1 L1412.3 435.6 L1413.3 456.1 L1414.2 456.1 L1415.1 447.9 L1416.0 441.9 L1416.9 441.6 L1417.9 446.8 L1418.8 444.1 L1419.7 440.8 L1420.6 442.8 L1421.6 438.7 L1422.5 440.5 L1423.4 432.7 L1424.3 433.3 L1425.2 434.8 L1426.2 435.6 L1427.1 437.7 L1428.0 436.9 L1428.9 436.4 L1429.8 436.7 L1430.8 440.2 L1431.7 437.4 L1432.6 444.4 L1433.5 434.6 L1434.4 440.4 L1435.4 447.7 L1436.3 442.6 L1437.2 442.4 L1438.1 442.5 L1439.0 436.0 L1440.0 437.6 L1440.9 436.5 L1441.8 428.4 L1442.7 430.3 L1443.7 427.9 L1444.6 430.1 L1445.5 430.4 L1446.4 432.9 L1447.3 432.3 L1448.3 432.7 L1449.2 435.4 L1450.1 431.6 L1451.0 440.2 L1451.9 441.2 L1452.9 438.5 L1453.8 431.3 L1454.7 427.0 L1455.6 428.6 L1456.5 429.0 L1457.5 425.9 L1458.4 423.6 L1459.3 431.0 L1460.2 427.0 L1461.1 427.0 L1462.1 430.7 L1463.0 435.6 L1463.9 431.1 L1464.8 436.6 L1465.8 434.9 L1466.7 432.6 L1467.6 420.8 L1468.5 433.3 L1469.4 433.8 L1470.4 424.9 L1471.3 416.8 L1472.2 435.1 L1473.1 425.0 L1474.0 438.2 L1475.0 427.4 L1475.9 434.9 L1476.8 428.9 L1477.7 431.4 L1478.6 426.9 L1479.6 428.4 L1480.5 431.3 L1481.4 426.9 L1482.3 425.3 L1483.2 427.6 L1484.2 427.3 L1485.1 423.7 L1486.0 425.5 L1486.9 422.2 L1487.9 427.7 L1488.8 428.2 L1489.7 425.9 L1490.6 421.5 L1491.5 423.1 L1492.5 431.7 L1493.4 420.2 L1494.3 429.6 L1495.2 417.7 L1496.1 426.7 L1497.1 418.7 L1498.0 423.9 L1498.9 414.4 L1499.8 425.8 L1500.7 417.9 L1501.7 417.4 L1502.6 421.8 L1503.5 418.8 L1504.4 421.3 L1505.3 422.5 L1506.3 422.7 L1507.2 433.9 L1508.1 419.1 L1509.0 428.8 L1509.9 425.3 L1510.9 429.1 L1511.8 419.0 L1512.7 422.9 L1513.6 423.6 L1514.6 422.6 L1515.5 419.5 L1516.4 421.7 L1517.3 422.2 L1518.2 423.4 L1519.2 420.4 L1520.1 404.9 L1521.0 417.3 L1521.9 416.6 L1522.8 409.1 L1523.8 422.3 L1524.7 420.6 L1525.6 408.4 L1526.5 403.1 L1527.4 420.4 L1528.4 423.4 L1529.3 427.2 L1530.2 411.4 L1531.1 417.2 L1532.0 412.0 L1533.0 411.6 L1533.9 427.3 L1534.8 409.2 L1535.7 418.0 L1536.7 416.1 L1537.6 419.3 L1538.5 421.0 L1539.4 421.7 L1540.3 440.5 L1541.3 421.0 L1542.2 420.4 L1543.1 416.5 L1544.0 418.0 L1544.9 415.6 L1545.9 413.3 L1546.8 403.1 L1547.7 421.7 L1548.6 415.3 L1549.5 421.7 L1550.5 429.5 L1551.4 435.4 L1552.3 413.5 L1553.2 420.3 L1554.1 422.7 L1555.1 415.3 L1556.0 415.4 L1556.9 412.3 L1557.8 419.1 L1558.8 421.7 L1559.7 422.6 L1560.6 425.5 L1561.5 422.3 L1562.4 416.5 L1563.4 432.5 L1564.3 426.1 L1565.2 425.0 L1566.1 429.0 L1567.0 419.9 L1568.0 407.2 L1568.9 423.3 L1569.8 419.5 L1570.7 416.3 L1571.6 425.9 L1572.6 417.6 L1573.5 423.5 L1574.4 426.1 L1575.3 431.5 L1576.2 429.6 L1577.2 432.2 L1578.1 418.8 L1579.0 420.8 L1579.9 431.9 L1580.9 425.8 L1581.8 430.5 L1582.7 425.3 L1583.6 429.0 L1584.5 422.6 L1585.5 430.7 L1586.4 440.4 L1587.3 435.2 L1588.2 432.5 L1589.1 425.8 L1590.1 434.0 L1591.0 437.8 L1591.9 437.3 L1592.8 438.9 L1593.7 442.1 L1594.7 440.7 L1595.6 443.3 L1596.5 441.1 L1597.4 434.8 L1598.3 430.9 L1599.3 444.4 L1600.2 439.7 L1601.1 439.5 L1602.0 446.8 L1603.0 443.0 L1603.9 448.0 L1604.8 446.9 L1605.7 449.0 L1606.6 445.5 L1607.6 452.3 L1608.5 449.4 L1609.4 448.4 L1610.3 449.9 L1611.2 441.5 L1612.2 452.8 L1613.1 456.4 L1614.0 457.0 L1614.9 462.4 L1615.8 464.1 L1616.8 474.4 L1617.7 479.0 L1618.6 477.0 L1619.5 483.7 L1620.4 481.0 L1621.4 489.5 L1622.3 491.0 L1623.2 486.4 L1624.1 494.8 L1625.0 502.1 L1626.0 502.9 L1626.9 500.5 L1627.8 508.5 L1628.7 509.1 L1629.7 509.1 L1630.6 515.4 L1631.5 517.0 L1632.4 512.0 L1633.3 527.4 L1634.3 523.6 L1635.2 530.7 L1636.1 536.8 L1637.0 540.6 L1637.9 539.7 L1638.9 544.7 L1639.8 539.5 L1640.7 543.7 L1641.6 554.7 L1642.5 544.0 L1643.5 551.1 L1644.4 555.3 L1645.3 562.3 L1646.2 558.8 L1647.1 553.2 L1648.1 559.9 L1649.0 562.1 L1649.9 562.0 L1650.8 562.8 L1651.8 562.0 L1652.7 565.6 L1653.6 565.8 L1654.5 573.8 L1655.4 556.9 L1656.4 577.5 L1657.3 562.6 L1658.2 559.7 L1659.1 560.5 L1660.0 555.0 L1661.0 563.7 L1661.9 566.1 L1662.8 565.2 L1663.7 561.5 L1664.6 563.5 L1665.6 562.3 L1666.5 560.6 L1667.4 564.0 L1668.3 561.5 L1669.2 574.5 L1670.2 563.5 L1671.1 558.7 L1672.0 558.1 L1672.9 565.3 L1673.9 555.0 L1674.8 570.5 L1675.7 571.5 L1676.6 572.2 L1677.5 572.6 L1678.5 567.7 L1679.4 568.6 L1680.3 574.5 L1681.2 565.1 L1682.1 571.0 L1683.1 564.5 L1684.0 574.6 L1684.9 575.9 L1685.8 579.3 L1686.7 574.9 L1687.7 569.9 L1688.6 571.3 L1689.5 577.2 L1690.4 569.3 L1691.3 568.7 L1692.3 577.3 L1693.2 573.7 L1694.1 581.2 L1695.0 587.4 L1696.0 578.3 L1696.9 580.9 L1697.8 575.7 L1698.7 594.2 L1699.6 581.5 L1700.6 580.8 L1701.5 583.5 L1702.4 582.5 L1703.3 584.4 L1704.2 583.8 L1705.2 588.8 L1706.1 575.0 L1707.0 590.6 L1707.9 585.4 L1708.8 579.5 L1709.8 582.7 L1710.7 583.3 L1711.6 586.3 L1712.5 589.5 L1713.4 583.5 L1714.4 592.4 L1715.3 590.4 L1716.2 587.5 L1717.1 593.0 L1718.1 584.0 L1719.0 595.2 L1719.9 590.0 L1720.8 588.1 L1721.7 587.0 L1722.7 583.7 L1723.6 594.8 L1724.5 586.7 L1725.4 584.6 L1726.3 596.0 L1727.3 588.2 L1728.2 589.4 L1729.1 590.3" fill="none" stroke="#1a1aff" stroke-width="2.8" stroke-linejoin="round" clip-path="url(#c2)"/>
<path d="M232.8 810.0 L234.2 812.8 L235.6 814.2 L236.9 813.2 L238.3 818.9 L239.7 820.3 L241.1 823.6 L242.5 821.3 L243.8 821.2 L245.2 823.1 L246.6 827.2 L248.0 824.1 L249.4 823.2 L250.8 824.9 L252.1 822.3 L253.5 826.1 L254.9 827.9 L256.3 827.2 L257.7 829.6 L259.0 824.9 L260.4 826.1 L261.8 829.6 L263.2 828.3 L264.6 826.0 L265.9 824.6 L267.3 829.7 L268.7 831.7 L270.1 832.2 L271.5 829.4 L272.9 830.8 L274.2 830.7 L275.6 830.5 L277.0 830.0 L278.4 827.8 L279.8 824.4 L281.1 827.0 L282.5 826.6 L283.9 825.9 L285.3 830.1 L286.7 830.2 L288.0 824.9 L289.4 827.1 L290.8 828.0 L292.2 827.2 L293.6 829.8 L295.0 832.9 L296.3 831.2 L297.7 828.8 L299.1 827.9 L300.5 828.9 L301.9 832.8 L303.2 833.0 L304.6 831.8 L306.0 834.8 L307.4 832.6 L308.8 831.7 L310.1 831.3 L311.5 829.7 L312.9 835.6 L314.3 837.2 L315.7 836.8 L317.1 835.6 L318.4 837.3 L319.8 835.2 L321.2 836.0 L322.6 838.6 L324.0 844.6 L325.3 841.0 L326.7 836.8 L328.1 836.6 L329.5 841.6 L330.9 841.1 L332.2 838.3 L333.6 836.9 L335.0 837.1 L336.4 838.3 L337.8 838.7 L339.2 838.5 L340.5 838.2 L341.9 839.9 L343.3 842.6 L344.7 845.4 L346.1 844.9 L347.4 845.8 L348.8 844.1 L350.2 843.1 L351.6 843.5 L353.0 842.2 L354.3 842.4 L355.7 844.9 L357.1 847.8 L358.5 848.9 L359.9 850.3 L361.3 851.4 L362.6 849.6 L364.0 850.5 L365.4 848.7 L366.8 849.3 L368.2 849.6 L369.5 848.4 L370.9 854.9 L372.3 848.3 L373.7 847.1 L375.1 848.4 L376.4 846.8 L377.8 844.6 L379.2 846.5 L380.6 848.0 L382.0 846.7 L383.4 846.7 L384.7 845.1 L386.1 847.3 L387.5 845.4 L388.9 847.5 L390.3 847.5 L391.6 846.4 L393.0 848.4 L394.4 847.1 L395.8 846.0 L397.2 846.3 L398.5 843.4 L399.9 842.7 L401.3 841.3 L402.7 841.2 L404.1 841.2 L405.4 841.7 L406.8 842.5 L408.2 844.7 L409.6 843.1 L411.0 843.3 L412.4 843.4 L413.7 842.5 L415.1 841.7 L416.5 842.0 L417.9 841.8 L419.3 839.1 L420.6 842.0 L422.0 840.5 L423.4 839.4 L424.8 839.9 L426.2 842.0 L427.5 845.1 L428.9 845.3 L430.3 842.6 L431.7 839.9 L433.1 839.7 L434.5 838.6 L435.8 841.4 L437.2 840.6 L438.6 837.8 L440.0 834.9 L441.4 834.2 L442.7 836.5 L444.1 834.4 L445.5 834.9 L446.9 834.3 L448.3 834.8 L449.6 837.8 L451.0 835.5 L452.4 834.0 L453.8 835.4 L455.2 835.0 L456.6 834.7 L457.9 833.6 L459.3 832.0 L460.7 832.3 L462.1 834.1 L463.5 832.9 L464.8 828.6 L466.2 823.4 L467.6 823.4 L469.0 821.0 L470.4 824.3 L471.7 824.0 L473.1 825.6 L474.5 824.4 L475.9 822.4 L477.3 819.6 L478.7 817.4 L480.0 815.0 L481.4 815.5 L482.8 812.1 L484.2 813.8 L485.6 813.7 L486.9 814.7 L488.3 814.4 L489.7 815.5 L491.1 812.9 L492.5 814.2 L493.8 813.0 L495.2 812.5 L496.6 816.1 L498.0 815.1 L499.4 813.9 L500.8 815.8 L502.1 817.1 L503.5 817.5 L504.9 815.8 L506.3 815.0 L507.7 810.9 L509.0 811.3 L510.4 814.0 L511.8 813.6 L513.2 814.9 L514.6 817.5 L515.9 812.6 L517.3 811.0 L518.7 813.1 L520.1 813.2 L521.5 812.7 L522.9 810.8 L524.2 809.6 L525.6 811.4 L527.0 813.9 L528.4 814.2 L529.8 812.3 L531.1 812.3 L532.5 812.8 L533.9 811.8 L535.3 814.0 L536.7 810.9 L538.0 814.3 L539.4 811.4 L540.8 810.1 L542.2 810.4 L543.6 811.3 L545.0 811.2 L546.3 813.7 L547.7 811.1 L549.1 809.8 L550.5 810.8 L551.9 811.5 L553.2 810.7 L554.6 811.8 L556.0 809.8 L557.4 810.1 L558.8 812.4 L560.1 812.3 L561.5 811.6 L562.9 810.7 L564.3 810.5 L565.7 809.5 L567.1 806.4 L568.4 805.7 L569.8 802.9 L571.2 808.1 L572.6 809.6 L574.0 809.9 L575.3 809.4 L576.7 810.6 L578.1 807.1 L579.5 811.2 L580.9 810.9 L582.2 808.2 L583.6 808.7 L585.0 806.2 L586.4 807.7 L587.8 809.4 L589.1 811.2 L590.5 812.9 L591.9 815.3 L593.3 811.0 L594.7 807.6 L596.1 806.7 L597.4 806.7 L598.8 811.1 L600.2 810.6 L601.6 809.1 L603.0 809.6 L604.3 805.3 L605.7 801.5 L607.1 802.2 L608.5 805.5 L609.9 808.0 L611.2 808.4 L612.6 808.2 L614.0 811.3 L615.4 809.7 L616.8 811.4 L618.2 811.5 L619.5 810.9 L620.9 810.6 L622.3 810.6 L623.7 807.9 L625.1 810.7 L626.4 810.4 L627.8 808.0 L629.2 808.6 L630.6 807.8 L632.0 807.8 L633.3 814.2 L634.7 813.2 L636.1 810.5 L637.5 809.2 L638.9 810.8 L640.3 811.4 L641.6 813.8 L643.0 812.3 L644.4 812.7 L645.8 813.8 L647.2 817.2 L648.5 816.3 L649.9 812.7 L651.3 811.1 L652.7 810.8 L654.1 807.5 L655.4 808.2 L656.8 810.4 L658.2 811.7 L659.6 812.7 L661.0 813.6 L662.4 817.1 L663.7 815.6 L665.1 813.4 L666.5 810.2 L667.9 811.5 L669.3 813.8 L670.6 813.8 L672.0 815.2 L673.4 812.5 L674.8 814.0 L676.2 815.1 L677.5 811.8 L678.9 814.0 L680.3 813.8 L681.7 815.0 L683.1 817.2 L684.5 818.4 L685.8 818.7 L687.2 816.4 L688.6 817.1 L690.0 815.6 L691.4 818.6 L692.7 822.0 L694.1 825.0 L695.5 822.8 L696.9 822.4 L698.3 819.2 L699.6 820.4 L701.0 823.6 L702.4 824.1 L703.8 826.0 L705.2 828.5 L706.6 827.4 L707.9 827.3 L709.3 827.6 L710.7 831.7 L712.1 833.6 L713.5 831.5 L714.8 829.7 L716.2 829.9 L717.6 831.3 L719.0 835.4 L720.4 835.4 L721.7 838.7 L723.1 840.7 L724.5 841.7 L725.9 845.5 L727.3 843.3 L728.7 841.1 L730.0 838.5 L731.4 840.3 L732.8 839.2 L734.2 837.8 L735.6 838.7 L736.9 839.7 L738.3 837.4 L739.7 840.5 L741.1 839.1 L742.5 841.5 L743.8 841.5 L745.2 840.8 L746.6 838.2 L748.0 834.2 L749.4 835.2 L750.8 834.2 L752.1 835.7 L753.5 834.5 L754.9 835.8 L756.3 836.7 L757.7 836.4 L759.0 835.7 L760.4 838.2 L761.8 835.3 L763.2 837.3 L764.6 840.8 L765.9 839.6 L767.3 836.0 L768.7 837.9 L770.1 842.0 L771.5 842.5 L772.8 843.8 L774.2 843.4 L775.6 846.9 L777.0 846.3 L778.4 847.3 L779.8 845.0 L781.1 843.7 L782.5 845.2 L783.9 843.4 L785.3 847.1 L786.7 849.0 L788.0 847.6 L789.4 847.5 L790.8 848.3 L792.2 848.7 L793.6 849.7 L794.9 850.4 L796.3 849.4 L797.7 850.1 L799.1 850.4 L800.5 854.4 L801.9 854.1 L803.2 857.1 L804.6 857.0 L806.0 855.8 L807.4 850.4 L808.8 850.4 L810.1 853.6 L811.5 852.7 L812.9 851.5 L814.3 850.0 L815.7 850.5 L817.0 852.4 L818.4 852.9 L819.8 855.4 L821.2 854.3 L822.6 851.1 L824.0 851.9 L825.3 853.0 L826.7 851.8 L828.1 849.2 L829.5 848.2 L830.9 850.5 L832.2 849.8 L833.6 848.5 L835.0 851.2 L836.4 855.9 L837.8 858.4 L839.1 856.9 L840.5 853.5 L841.9 851.6 L843.3 851.8 L844.7 849.3 L846.1 850.9 L847.4 852.6 L848.8 851.7 L850.2 851.0 L851.6 848.5 L853.0 846.4 L854.3 850.4 L855.7 847.1 L857.1 845.4 L858.5 844.8 L859.9 845.0 L861.2 844.2 L862.6 846.7 L864.0 849.4 L865.4 846.4 L866.8 847.0 L868.2 842.9 L869.5 842.3 L870.9 841.3 L872.3 844.5 L873.7 844.0 L875.1 843.5 L876.4 843.7 L877.8 842.9 L879.2 845.7 L880.6 848.2 L882.0 843.9 L883.3 841.8 L884.7 840.8 L886.1 840.3 L887.5 841.3 L888.9 842.1 L890.3 842.5 L891.6 841.9 L893.0 840.7 L894.4 840.0 L895.8 841.2 L897.2 837.6 L898.5 837.9 L899.9 840.0 L901.3 839.4 L902.7 838.7 L904.1 836.4 L905.4 837.9 L906.8 837.5 L908.2 836.5 L909.6 838.3 L911.0 834.8 L912.4 836.4 L913.7 833.1 L915.1 831.6 L916.5 826.3 L917.9 827.9 L919.3 828.6 L920.6 832.9 L922.0 829.4 L923.4 827.9 L924.8 828.1 L926.2 830.3 L927.5 826.3 L928.9 826.4 L930.3 826.9 L931.7 825.6 L933.1 824.4 L934.4 821.5 L935.8 821.6 L937.2 823.6 L938.6 821.0 L940.0 822.1 L941.4 821.0 L942.7 819.1 L944.1 820.5 L945.5 818.0 L946.9 821.4 L948.3 820.3 L949.6 821.3 L951.0 819.1 L952.4 817.1 L953.8 819.3 L955.2 822.2 L956.5 821.2 L957.9 821.6 L959.3 825.1 L960.7 824.1 L962.1 819.0 L963.5 816.9 L964.8 816.7 L966.2 819.4 L967.6 817.0 L969.0 818.3 L970.4 819.9 L971.7 819.9 L973.1 817.5 L974.5 816.8 L975.9 817.3 L977.3 820.4 L978.6 818.7 L980.0 817.9 L981.4 818.2 L982.8 818.7 L984.2 818.0 L985.6 815.6 L986.9 816.8 L988.3 818.3 L989.7 819.7 L991.1 816.9 L992.5 816.1 L993.8 815.4 L995.2 816.6 L996.6 815.6 L998.0 817.5 L999.4 820.1 L1000.7 820.3 L1002.1 816.8 L1003.5 818.8 L1004.9 818.5 L1006.3 818.9 L1007.7 820.0 L1009.0 816.7 L1010.4 819.3 L1011.8 816.4 L1013.2 814.8 L1014.6 815.5 L1015.9 816.0 L1017.3 815.3 L1018.7 815.3 L1020.1 817.3 L1021.5 817.6 L1022.8 821.0 L1024.2 820.6 L1025.6 817.9 L1027.0 816.3 L1028.4 816.9 L1029.8 817.3 L1031.1 813.2 L1032.5 814.9 L1033.9 816.4 L1035.3 814.3 L1036.7 817.0 L1038.0 816.3 L1039.4 815.6 L1040.8 812.3 L1042.2 813.2 L1043.6 816.5 L1044.9 816.7 L1046.3 815.4 L1047.7 815.2 L1049.1 812.2 L1050.5 810.9 L1051.9 813.2 L1053.2 816.0 L1054.6 817.8 L1056.0 817.9 L1057.4 815.2 L1058.8 813.3 L1060.1 815.7 L1061.5 815.6 L1062.9 820.3 L1064.3 821.2 L1065.7 819.1 L1067.0 818.4 L1068.4 819.6 L1069.8 817.1 L1071.2 815.7 L1072.6 812.9 L1074.0 815.1 L1075.3 817.0 L1076.7 814.9 L1078.1 813.2 L1079.5 814.5 L1080.9 813.5 L1082.2 815.2 L1083.6 816.4 L1085.0 817.1 L1086.4 816.4 L1087.8 815.4 L1089.1 816.6 L1090.5 816.5 L1091.9 816.4 L1093.3 813.6 L1094.7 813.5 L1096.0 817.5 L1097.4 820.4 L1098.8 817.2 L1100.2 816.5 L1101.6 814.9 L1103.0 813.4 L1104.3 815.9 L1105.7 818.3 L1107.1 817.1 L1108.5 817.9 L1109.9 815.2 L1111.2 815.6 L1112.6 815.3 L1114.0 817.7 L1115.4 817.2 L1116.8 817.3 L1118.1 818.0 L1119.5 821.6 L1120.9 820.6 L1122.3 822.1 L1123.7 822.5 L1125.1 819.3 L1126.4 816.1 L1127.8 814.4 L1129.2 815.4 L1130.6 818.0 L1132.0 821.1 L1133.3 822.0 L1134.7 819.0 L1136.1 814.6 L1137.5 817.4 L1138.9 816.8 L1140.2 821.6 L1141.6 824.0 L1143.0 825.1 L1144.4 823.4 L1145.8 819.1 L1147.2 815.8 L1148.5 819.6 L1149.9 819.7 L1151.3 820.9 L1152.7 821.6 L1154.1 823.7 L1155.4 825.3 L1156.8 823.0 L1158.2 826.1 L1159.6 829.0 L1161.0 832.5 L1162.3 835.7 L1163.7 838.8 L1165.1 837.7 L1166.5 839.4 L1167.9 834.6 L1169.3 834.1 L1170.6 835.2 L1172.0 837.3 L1173.4 837.3 L1174.8 839.3 L1176.2 840.1 L1177.5 843.8 L1178.9 843.8 L1180.3 843.6 L1181.7 844.1 L1183.1 845.7 L1184.4 848.8 L1185.8 849.0 L1187.2 847.2 L1188.6 845.7 L1190.0 844.1 L1191.4 843.6 L1192.7 845.4 L1194.1 846.9 L1195.5 844.4 L1196.9 846.4 L1198.3 847.2 L1199.6 844.2 L1201.0 846.8 L1202.4 846.0 L1203.8 845.4 L1205.2 843.8 L1206.5 846.1 L1207.9 844.5 L1209.3 845.4 L1210.7 845.7 L1212.1 843.3 L1213.5 843.1 L1214.8 844.4 L1216.2 844.5 L1217.6 845.7 L1219.0 844.3 L1220.4 846.5 L1221.7 848.2 L1223.1 846.9 L1224.5 846.3 L1225.9 844.5 L1227.3 847.0 L1228.6 848.9 L1230.0 849.5 L1231.4 849.7 L1232.8 849.0 L1234.2 846.2 L1235.6 846.5 L1236.9 844.6 L1238.3 847.0 L1239.7 850.8 L1241.1 848.6 L1242.5 847.7 L1243.8 848.5 L1245.2 847.8 L1246.6 852.0 L1248.0 849.1 L1249.4 849.1 L1250.7 848.4 L1252.1 849.7 L1253.5 851.0 L1254.9 851.6 L1256.3 851.0 L1257.7 852.9 L1259.0 848.9 L1260.4 849.0 L1261.8 847.1 L1263.2 848.4 L1264.6 851.1 L1265.9 851.5 L1267.3 850.7 L1268.7 849.1 L1270.1 850.2 L1271.5 849.8 L1272.8 849.0 L1274.2 850.6 L1275.6 847.8 L1277.0 851.9 L1278.4 850.8 L1279.7 849.5 L1281.1 850.4 L1282.5 848.1 L1283.9 846.9 L1285.3 849.7 L1286.7 848.1 L1288.0 849.3 L1289.4 850.0 L1290.8 850.5 L1292.2 852.9 L1293.6 853.3 L1294.9 850.5 L1296.3 849.5 L1297.7 849.8 L1299.1 852.0 L1300.5 849.3 L1301.8 845.4 L1303.2 844.8 L1304.6 846.9 L1306.0 848.2 L1307.4 848.2 L1308.8 847.1 L1310.1 846.3 L1311.5 847.7 L1312.9 845.1 L1314.3 846.5 L1315.7 844.4 L1317.0 844.4 L1318.4 842.2 L1319.8 845.2 L1321.2 846.1 L1322.6 846.5 L1323.9 846.6 L1325.3 844.4 L1326.7 844.4 L1328.1 847.7 L1329.5 846.7 L1330.9 844.7 L1332.2 842.0 L1333.6 842.7 L1335.0 846.3 L1336.4 846.4 L1337.8 845.8 L1339.1 845.9 L1340.5 844.4 L1341.9 842.7 L1343.3 843.2 L1344.7 842.1 L1346.0 839.2 L1347.4 836.1 L1348.8 841.4 L1350.2 844.9 L1351.6 848.1 L1353.0 845.6 L1354.3 840.7 L1355.7 837.7 L1357.1 837.0 L1358.5 838.9 L1359.9 839.9 L1361.2 840.4 L1362.6 837.3 L1364.0 839.3 L1365.4 838.5 L1366.8 842.4 L1368.1 843.8 L1369.5 840.9 L1370.9 841.3 L1372.3 843.1 L1373.7 845.1 L1375.1 842.2 L1376.4 840.1 L1377.8 838.3 L1379.2 833.5 L1380.6 834.0 L1382.0 832.8 L1383.3 836.7 L1384.7 835.7 L1386.1 828.0 L1387.5 828.3 L1388.9 828.5 L1390.2 829.6 L1391.6 825.5 L1393.0 824.8 L1394.4 845.5 L1395.8 827.2 L1397.2 827.7 L1398.5 825.1 L1399.9 824.5 L1401.3 822.9 L1402.7 822.2 L1404.1 824.3 L1405.4 822.5 L1406.8 820.4 L1408.2 820.1 L1409.6 821.7 L1411.0 824.8 L1412.3 824.9 L1413.7 825.5 L1415.1 823.6 L1416.5 823.4 L1417.9 826.3 L1419.3 824.5 L1420.6 822.6 L1422.0 820.0 L1423.4 823.9 L1424.8 825.3 L1426.2 823.3 L1427.5 818.7 L1428.9 815.3 L1430.3 816.3 L1431.7 820.3 L1433.1 822.6 L1434.4 824.2 L1435.8 824.0 L1437.2 821.7 L1438.6 818.2 L1440.0 818.1 L1441.3 818.7 L1442.7 817.2 L1444.1 817.7 L1445.5 821.0 L1446.9 820.9 L1448.3 820.8 L1449.6 819.3 L1451.0 815.5 L1452.4 817.8 L1453.8 819.3 L1455.2 819.6 L1456.5 816.3 L1457.9 816.8 L1459.3 816.3 L1460.7 817.8 L1462.1 817.7 L1463.4 817.4 L1464.8 819.3 L1466.2 819.8 L1467.6 819.9 L1469.0 817.4 L1470.4 816.9 L1471.7 815.8 L1473.1 816.5 L1474.5 817.4 L1475.9 818.8 L1477.3 819.5 L1478.6 818.0 L1480.0 818.3 L1481.4 816.5 L1482.8 818.7 L1484.2 816.9 L1485.5 818.2 L1486.9 817.2 L1488.3 815.8 L1489.7 816.4 L1491.1 818.2 L1492.5 822.1 L1493.8 820.2 L1495.2 819.5 L1496.6 815.8 L1498.0 815.4 L1499.4 818.4 L1500.7 818.5 L1502.1 821.0 L1503.5 824.8 L1504.9 823.0 L1506.3 821.2 L1507.6 820.9 L1509.0 820.8 L1510.4 815.1 L1511.8 814.1 L1513.2 815.0 L1514.6 817.5 L1515.9 817.0 L1517.3 815.7 L1518.7 817.0 L1520.1 816.5 L1521.5 817.1 L1522.8 815.8 L1524.2 818.9 L1525.6 813.5 L1527.0 811.6 L1528.4 814.8 L1529.7 815.6 L1531.1 813.4 L1532.5 814.9 L1533.9 817.1 L1535.3 817.5 L1536.7 817.3 L1538.0 819.7 L1539.4 822.6 L1540.8 820.0 L1542.2 821.0 L1543.6 820.6 L1544.9 818.5 L1546.3 819.3 L1547.7 820.4 L1549.1 819.8 L1550.5 820.7 L1551.8 817.8 L1553.2 815.7 L1554.6 814.1 L1556.0 815.4 L1557.4 815.8 L1558.8 818.3 L1560.1 819.6 L1561.5 820.7 L1562.9 819.7 L1564.3 822.4 L1565.7 819.4 L1567.0 824.2 L1568.4 822.3 L1569.8 821.7 L1571.2 821.7 L1572.6 821.1 L1573.9 823.2 L1575.3 824.7 L1576.7 826.3 L1578.1 825.3 L1579.5 824.4 L1580.9 820.0 L1582.2 823.4 L1583.6 825.7 L1585.0 825.4 L1586.4 822.3 L1587.8 824.2 L1589.1 821.8 L1590.5 817.1 L1591.9 816.8 L1593.3 820.5 L1594.7 822.1 L1596.0 821.9 L1597.4 821.1 L1598.8 823.9 L1600.2 823.9 L1601.6 823.1 L1603.0 820.3 L1604.3 820.0 L1605.7 823.0 L1607.1 823.5 L1608.5 825.3 L1609.9 825.6 L1611.2 825.4 L1612.6 826.9 L1614.0 829.0 L1615.4 828.8 L1616.8 829.5 L1618.1 831.1 L1619.5 833.6 L1620.9 831.9 L1622.3 829.2 L1623.7 835.3 L1625.0 840.8 L1626.4 844.1 L1627.8 845.4 L1629.2 843.8 L1630.6 843.3 L1632.0 844.5 L1633.3 847.8 L1634.7 848.3 L1636.1 846.3 L1637.5 846.1 L1638.9 843.6 L1640.2 843.8 L1641.6 843.0 L1643.0 846.1 L1644.4 847.2 L1645.8 850.1 L1647.1 852.2 L1648.5 850.1 L1649.9 846.6 L1651.3 846.0 L1652.7 845.5 L1654.1 845.1 L1655.4 843.9 L1656.8 846.7 L1658.2 845.7 L1659.6 848.3 L1661.0 846.8 L1662.3 848.2 L1663.7 847.8 L1665.1 847.2 L1666.5 846.2 L1667.9 846.2 L1669.2 847.8 L1670.6 846.2 L1672.0 849.6 L1673.4 848.0 L1674.8 848.0 L1676.2 846.3 L1677.5 845.7 L1678.9 847.0 L1680.3 846.7 L1681.7 848.4 L1683.1 850.1 L1684.4 848.4 L1685.8 849.5 L1687.2 848.9 L1688.6 848.9 L1690.0 849.2 L1691.3 850.5 L1692.7 849.3 L1694.1 849.6 L1695.5 851.0 L1696.9 847.4 L1698.3 848.9 L1699.6 849.1 L1701.0 847.7 L1702.4 844.6 L1703.8 848.3 L1705.2 849.7 L1706.5 848.4 L1707.9 851.6 L1709.3 852.9 L1710.7 854.8 L1712.1 852.1 L1713.4 853.8 L1714.8 856.1 L1716.2 853.1 L1717.6 852.9 L1719.0 851.6 L1720.4 851.7 L1721.7 850.9 L1723.1 850.9 L1724.5 853.9 L1725.9 851.9 L1727.3 849.6 L1728.6 850.2" fill="none" stroke="#ff1a1a" stroke-width="3.1" stroke-linejoin="round" clip-path="url(#c3)"/>
<path d="M232.8 748.2 L234.2 748.4 L235.6 746.9 L236.9 744.3 L238.3 744.5 L239.7 744.9 L241.1 741.5 L242.5 738.5 L243.8 738.9 L245.2 737.8 L246.6 739.3 L248.0 738.8 L249.4 739.1 L250.8 734.4 L252.1 732.2 L253.5 733.3 L254.9 730.5 L256.3 730.3 L257.7 732.0 L259.0 729.7 L260.4 728.5 L261.8 729.4 L263.2 729.0 L264.6 729.1 L265.9 727.4 L267.3 729.6 L268.7 731.6 L270.1 730.3 L271.5 727.9 L272.9 724.7 L274.2 724.0 L275.6 725.7 L277.0 727.5 L278.4 728.5 L279.8 726.7 L281.1 726.0 L282.5 725.8 L283.9 724.3 L285.3 722.8 L286.7 722.4 L288.0 725.4 L289.4 728.3 L290.8 725.6 L292.2 724.1 L293.6 721.1 L295.0 718.7 L296.3 718.6 L297.7 720.0 L299.1 720.6 L300.5 717.9 L301.9 718.0 L303.2 720.5 L304.6 719.0 L306.0 720.9 L307.4 721.4 L308.8 722.6 L310.1 721.3 L311.5 720.2 L312.9 721.4 L314.3 717.9 L315.7 717.1 L317.1 720.2 L318.4 718.9 L319.8 719.4 L321.2 718.4 L322.6 717.5 L324.0 718.7 L325.3 720.2 L326.7 720.2 L328.1 720.8 L329.5 717.9 L330.9 718.1 L332.2 720.9 L333.6 721.5 L335.0 721.4 L336.4 721.3 L337.8 722.5 L339.2 721.6 L340.5 717.7 L341.9 718.5 L343.3 720.3 L344.7 719.3 L346.1 720.1 L347.4 721.1 L348.8 720.9 L350.2 720.8 L351.6 722.3 L353.0 721.2 L354.3 722.0 L355.7 722.9 L357.1 723.1 L358.5 721.9 L359.9 723.9 L361.3 726.1 L362.6 725.4 L364.0 727.9 L365.4 725.8 L366.8 726.1 L368.2 728.0 L369.5 726.4 L370.9 725.8 L372.3 729.7 L373.7 726.9 L375.1 724.9 L376.4 729.1 L377.8 727.6 L379.2 727.8 L380.6 726.7 L382.0 731.1 L383.4 732.5 L384.7 732.2 L386.1 730.5 L387.5 728.6 L388.9 727.8 L390.3 727.0 L391.6 728.0 L393.0 729.9 L394.4 732.9 L395.8 731.5 L397.2 728.2 L398.5 731.1 L399.9 732.4 L401.3 731.2 L402.7 729.5 L404.1 729.1 L405.4 727.3 L406.8 732.2 L408.2 734.0 L409.6 732.0 L411.0 736.5 L412.4 734.0 L413.7 736.2 L415.1 734.9 L416.5 732.7 L417.9 731.5 L419.3 732.0 L420.6 735.9 L422.0 736.6 L423.4 735.8 L424.8 734.1 L426.2 736.6 L427.5 735.4 L428.9 737.4 L430.3 735.7 L431.7 737.3 L433.1 738.6 L434.5 737.8 L435.8 738.9 L437.2 741.0 L438.6 737.6 L440.0 740.6 L441.4 737.8 L442.7 738.0 L444.1 738.8 L445.5 737.1 L446.9 738.2 L448.3 737.4 L449.6 741.8 L451.0 740.7 L452.4 740.7 L453.8 740.5 L455.2 738.4 L456.6 737.0 L457.9 740.5 L459.3 740.2 L460.7 740.7 L462.1 743.4 L463.5 743.4 L464.8 745.6 L466.2 748.9 L467.6 749.7 L469.0 749.2 L470.4 751.2 L471.7 754.0 L473.1 755.4 L474.5 757.4 L475.9 757.7 L477.3 758.5 L478.7 759.8 L480.0 762.0 L481.4 762.7 L482.8 762.0 L484.2 766.0 L485.6 768.0 L486.9 765.8 L488.3 768.6 L489.7 769.6 L491.1 768.6 L492.5 768.3 L493.8 767.5 L495.2 769.3 L496.6 769.9 L498.0 771.1 L499.4 768.5 L500.8 769.2 L502.1 768.7 L503.5 770.6 L504.9 769.5 L506.3 769.4 L507.7 768.9 L509.0 768.7 L510.4 770.3 L511.8 771.4 L513.2 769.4 L514.6 771.0 L515.9 770.4 L517.3 770.3 L518.7 769.7 L520.1 771.5 L521.5 772.3 L522.9 771.6 L524.2 772.4 L525.6 772.1 L527.0 771.6 L528.4 772.1 L529.8 773.2 L531.1 772.7 L532.5 773.0 L533.9 773.2 L535.3 773.4 L536.7 769.3 L538.0 768.4 L539.4 769.9 L540.8 770.6 L542.2 772.7 L543.6 772.9 L545.0 772.9 L546.3 771.3 L547.7 772.1 L549.1 771.5 L550.5 774.0 L551.9 773.4 L553.2 775.5 L554.6 777.4 L556.0 777.9 L557.4 778.2 L558.8 776.6 L560.1 774.2 L561.5 777.3 L562.9 778.1 L564.3 774.8 L565.7 772.4 L567.1 776.1 L568.4 775.6 L569.8 774.2 L571.2 775.9 L572.6 775.4 L574.0 774.8 L575.3 776.9 L576.7 777.7 L578.1 776.6 L579.5 776.1 L580.9 775.2 L582.2 779.8 L583.6 776.3 L585.0 775.7 L586.4 773.2 L587.8 775.9 L589.1 774.4 L590.5 773.4 L591.9 774.6 L593.3 774.7 L594.7 775.1 L596.1 774.1 L597.4 775.4 L598.8 775.5 L600.2 774.3 L601.6 773.1 L603.0 776.5 L604.3 776.8 L605.7 777.2 L607.1 775.7 L608.5 776.3 L609.9 776.5 L611.2 778.4 L612.6 777.0 L614.0 775.1 L615.4 772.4 L616.8 773.9 L618.2 770.4 L619.5 774.4 L620.9 773.4 L622.3 773.4 L623.7 776.0 L625.1 774.4 L626.4 773.8 L627.8 777.2 L629.2 773.0 L630.6 774.4 L632.0 772.6 L633.3 771.4 L634.7 773.4 L636.1 769.6 L637.5 769.6 L638.9 770.6 L640.3 769.1 L641.6 765.0 L643.0 769.2 L644.4 771.7 L645.8 773.3 L647.2 774.1 L648.5 773.6 L649.9 771.9 L651.3 771.4 L652.7 769.6 L654.1 770.0 L655.4 766.9 L656.8 772.3 L658.2 770.4 L659.6 770.3 L661.0 770.6 L662.4 771.4 L663.7 770.2 L665.1 768.7 L666.5 768.4 L667.9 771.1 L669.3 772.1 L670.6 771.2 L672.0 770.0 L673.4 769.8 L674.8 767.7 L676.2 766.4 L677.5 761.6 L678.9 761.6 L680.3 761.6 L681.7 762.1 L683.1 763.0 L684.5 764.5 L685.8 765.5 L687.2 762.8 L688.6 762.6 L690.0 762.0 L691.4 761.4 L692.7 758.5 L694.1 758.9 L695.5 756.9 L696.9 756.0 L698.3 756.4 L699.6 754.0 L701.0 751.2 L702.4 751.0 L703.8 752.1 L705.2 752.4 L706.6 753.9 L707.9 747.8 L709.3 746.3 L710.7 745.5 L712.1 744.3 L713.5 739.6 L714.8 738.2 L716.2 737.0 L717.6 740.6 L719.0 740.9 L720.4 737.9 L721.7 735.2 L723.1 733.7 L724.5 736.1 L725.9 737.5 L727.3 736.4 L728.7 736.1 L730.0 736.7 L731.4 734.4 L732.8 735.2 L734.2 737.2 L735.6 737.2 L736.9 733.3 L738.3 731.4 L739.7 731.8 L741.1 730.7 L742.5 732.0 L743.8 734.0 L745.2 734.1 L746.6 734.0 L748.0 734.7 L749.4 733.1 L750.8 732.5 L752.1 734.8 L753.5 736.2 L754.9 737.8 L756.3 732.3 L757.7 731.1 L759.0 731.6 L760.4 731.8 L761.8 731.1 L763.2 729.8 L764.6 731.1 L765.9 729.8 L767.3 730.9 L768.7 728.2 L770.1 730.5 L771.5 728.8 L772.8 730.0 L774.2 728.4 L775.6 727.9 L777.0 728.7 L778.4 730.6 L779.8 729.8 L781.1 727.8 L782.5 729.7 L783.9 730.4 L785.3 728.5 L786.7 731.5 L788.0 730.8 L789.4 731.3 L790.8 730.0 L792.2 728.4 L793.6 725.8 L794.9 727.5 L796.3 725.9 L797.7 724.2 L799.1 725.7 L800.5 728.2 L801.9 733.7 L803.2 733.9 L804.6 734.8 L806.0 733.8 L807.4 735.3 L808.8 734.3 L810.1 734.8 L811.5 733.3 L812.9 733.3 L814.3 735.6 L815.7 733.5 L817.0 731.6 L818.4 730.9 L819.8 734.3 L821.2 733.6 L822.6 733.4 L824.0 731.6 L825.3 730.1 L826.7 733.4 L828.1 735.6 L829.5 733.8 L830.9 733.1 L832.2 734.1 L833.6 737.2 L835.0 739.4 L836.4 740.7 L837.8 737.8 L839.1 735.4 L840.5 734.1 L841.9 735.1 L843.3 733.7 L844.7 732.1 L846.1 733.3 L847.4 737.8 L848.8 736.2 L850.2 740.6 L851.6 739.2 L853.0 734.4 L854.3 733.5 L855.7 733.3 L857.1 735.9 L858.5 738.1 L859.9 738.0 L861.2 738.0 L862.6 738.7 L864.0 739.0 L865.4 736.3 L866.8 734.5 L868.2 736.1 L869.5 734.2 L870.9 735.4 L872.3 738.1 L873.7 736.0 L875.1 735.1 L876.4 736.3 L877.8 738.4 L879.2 739.2 L880.6 741.3 L882.0 740.3 L883.3 737.9 L884.7 736.0 L886.1 737.8 L887.5 739.7 L888.9 736.5 L890.3 740.9 L891.6 740.4 L893.0 742.3 L894.4 739.7 L895.8 738.6 L897.2 740.4 L898.5 744.6 L899.9 744.4 L901.3 739.9 L902.7 740.0 L904.1 738.2 L905.4 739.0 L906.8 744.4 L908.2 743.5 L909.6 743.0 L911.0 744.2 L912.4 744.5 L913.7 744.2 L915.1 743.8 L916.5 744.9 L917.9 745.5 L919.3 748.3 L920.6 749.4 L922.0 752.2 L923.4 750.6 L924.8 754.2 L926.2 754.6 L927.5 752.8 L928.9 753.7 L930.3 758.6 L931.7 762.3 L933.1 763.8 L934.4 763.2 L935.8 761.4 L937.2 760.9 L938.6 765.0 L940.0 760.9 L941.4 764.7 L942.7 768.0 L944.1 767.2 L945.5 767.8 L946.9 767.4 L948.3 766.7 L949.6 766.1 L951.0 767.5 L952.4 771.2 L953.8 775.0 L955.2 772.9 L956.5 768.7 L957.9 771.6 L959.3 770.0 L960.7 769.3 L962.1 768.3 L963.5 771.3 L964.8 773.2 L966.2 773.5 L967.6 771.6 L969.0 770.7 L970.4 770.9 L971.7 769.2 L973.1 770.3 L974.5 772.0 L975.9 771.0 L977.3 770.0 L978.6 767.9 L980.0 770.6 L981.4 772.7 L982.8 773.0 L984.2 771.6 L985.6 771.9 L986.9 772.1 L988.3 772.7 L989.7 772.9 L991.1 772.5 L992.5 771.8 L993.8 773.3 L995.2 772.4 L996.6 774.6 L998.0 772.7 L999.4 773.0 L1000.7 771.4 L1002.1 772.7 L1003.5 772.4 L1004.9 773.5 L1006.3 773.0 L1007.7 774.6 L1009.0 772.5 L1010.4 770.3 L1011.8 767.9 L1013.2 768.4 L1014.6 773.2 L1015.9 773.7 L1017.3 772.2 L1018.7 772.1 L1020.1 773.6 L1021.5 774.1 L1022.8 776.5 L1024.2 775.6 L1025.6 774.2 L1027.0 774.6 L1028.4 776.2 L1029.8 775.4 L1031.1 776.3 L1032.5 774.3 L1033.9 776.9 L1035.3 774.6 L1036.7 774.6 L1038.0 777.8 L1039.4 780.6 L1040.8 778.3 L1042.2 780.2 L1043.6 779.7 L1044.9 779.9 L1046.3 780.4 L1047.7 778.4 L1049.1 776.5 L1050.5 778.3 L1051.9 780.0 L1053.2 779.2 L1054.6 780.3 L1056.0 782.2 L1057.4 781.3 L1058.8 780.5 L1060.1 779.9 L1061.5 780.5 L1062.9 780.5 L1064.3 777.6 L1065.7 778.8 L1067.0 777.5 L1068.4 779.7 L1069.8 778.2 L1071.2 779.8 L1072.6 776.5 L1074.0 780.7 L1075.3 779.4 L1076.7 776.7 L1078.1 776.9 L1079.5 780.6 L1080.9 779.2 L1082.2 779.4 L1083.6 780.2 L1085.0 777.6 L1086.4 781.0 L1087.8 783.2 L1089.1 781.2 L1090.5 779.0 L1091.9 778.2 L1093.3 775.2 L1094.7 779.5 L1096.0 780.4 L1097.4 778.7 L1098.8 780.2 L1100.2 779.1 L1101.6 779.9 L1103.0 777.9 L1104.3 777.3 L1105.7 778.0 L1107.1 779.0 L1108.5 779.0 L1109.9 776.3 L1111.2 777.3 L1112.6 777.3 L1114.0 776.5 L1115.4 775.3 L1116.8 773.8 L1118.1 772.7 L1119.5 777.9 L1120.9 776.1 L1122.3 773.7 L1123.7 773.1 L1125.1 773.7 L1126.4 776.3 L1127.8 773.6 L1129.2 771.7 L1130.6 771.7 L1132.0 770.7 L1133.3 768.3 L1134.7 768.1 L1136.1 766.7 L1137.5 769.6 L1138.9 771.6 L1140.2 772.4 L1141.6 772.1 L1143.0 770.4 L1144.4 771.8 L1145.8 774.9 L1147.2 772.8 L1148.5 770.5 L1149.9 767.1 L1151.3 763.9 L1152.7 765.3 L1154.1 765.0 L1155.4 760.0 L1156.8 762.1 L1158.2 759.3 L1159.6 759.9 L1161.0 756.6 L1162.3 757.8 L1163.7 759.5 L1165.1 760.9 L1166.5 756.0 L1167.9 752.9 L1169.3 751.6 L1170.6 750.2 L1172.0 747.8 L1173.4 747.8 L1174.8 746.6 L1176.2 749.2 L1177.5 747.0 L1178.9 746.9 L1180.3 746.0 L1181.7 748.1 L1183.1 749.0 L1184.4 749.0 L1185.8 751.6 L1187.2 747.4 L1188.6 748.0 L1190.0 747.9 L1191.4 743.8 L1192.7 742.1 L1194.1 741.6 L1195.5 745.1 L1196.9 743.2 L1198.3 745.1 L1199.6 745.7 L1201.0 747.1 L1202.4 742.7 L1203.8 741.8 L1205.2 743.0 L1206.5 744.4 L1207.9 743.7 L1209.3 740.8 L1210.7 742.2 L1212.1 742.6 L1213.5 742.0 L1214.8 742.2 L1216.2 741.3 L1217.6 740.1 L1219.0 739.6 L1220.4 739.1 L1221.7 741.8 L1223.1 740.3 L1224.5 739.7 L1225.9 738.1 L1227.3 737.5 L1228.6 738.1 L1230.0 736.9 L1231.4 733.4 L1232.8 734.2 L1234.2 735.4 L1235.6 733.7 L1236.9 734.0 L1238.3 735.7 L1239.7 733.3 L1241.1 731.7 L1242.5 731.3 L1243.8 732.0 L1245.2 733.4 L1246.6 732.7 L1248.0 731.5 L1249.4 733.2 L1250.7 731.4 L1252.1 731.1 L1253.5 730.5 L1254.9 729.7 L1256.3 732.6 L1257.7 732.9 L1259.0 734.2 L1260.4 730.0 L1261.8 730.9 L1263.2 731.3 L1264.6 732.3 L1265.9 733.8 L1267.3 734.0 L1268.7 736.5 L1270.1 734.7 L1271.5 733.5 L1272.8 734.9 L1274.2 735.8 L1275.6 734.9 L1277.0 735.2 L1278.4 734.2 L1279.7 733.3 L1281.1 733.1 L1282.5 731.8 L1283.9 732.6 L1285.3 735.3 L1286.7 735.3 L1288.0 736.2 L1289.4 733.5 L1290.8 732.1 L1292.2 736.4 L1293.6 734.4 L1294.9 732.5 L1296.3 732.1 L1297.7 732.8 L1299.1 734.2 L1300.5 733.1 L1301.8 732.0 L1303.2 733.0 L1304.6 735.7 L1306.0 733.6 L1307.4 731.3 L1308.8 734.0 L1310.1 733.5 L1311.5 733.9 L1312.9 736.0 L1314.3 734.9 L1315.7 736.1 L1317.0 735.7 L1318.4 733.6 L1319.8 739.1 L1321.2 740.4 L1322.6 740.2 L1323.9 741.6 L1325.3 740.9 L1326.7 738.1 L1328.1 737.8 L1329.5 737.9 L1330.9 737.8 L1332.2 736.9 L1333.6 736.2 L1335.0 740.1 L1336.4 738.5 L1337.8 739.2 L1339.1 740.3 L1340.5 740.5 L1341.9 743.7 L1343.3 742.1 L1344.7 739.3 L1346.0 740.4 L1347.4 738.5 L1348.8 736.9 L1350.2 737.3 L1351.6 739.0 L1353.0 743.5 L1354.3 744.5 L1355.7 742.9 L1357.1 743.1 L1358.5 742.3 L1359.9 741.3 L1361.2 742.1 L1362.6 745.0 L1364.0 745.0 L1365.4 742.4 L1366.8 741.7 L1368.1 742.0 L1369.5 740.7 L1370.9 742.8 L1372.3 746.4 L1373.7 744.3 L1375.1 745.1 L1376.4 744.5 L1377.8 742.9 L1379.2 741.3 L1380.6 745.3 L1382.0 748.3 L1383.3 748.4 L1384.7 751.0 L1386.1 753.2 L1387.5 752.5 L1388.9 752.8 L1390.2 754.1 L1391.6 756.6 L1393.0 759.9 L1394.4 768.4 L1395.8 771.4 L1397.2 775.7 L1398.5 774.8 L1399.9 774.0 L1401.3 766.9 L1402.7 769.7 L1404.1 768.1 L1405.4 765.0 L1406.8 764.8 L1408.2 762.6 L1409.6 763.6 L1411.0 762.9 L1412.3 763.8 L1413.7 764.6 L1415.1 766.7 L1416.5 766.8 L1417.9 766.8 L1419.3 769.1 L1420.6 771.3 L1422.0 768.6 L1423.4 770.9 L1424.8 769.7 L1426.2 771.6 L1427.5 770.0 L1428.9 770.7 L1430.3 768.0 L1431.7 768.1 L1433.1 770.7 L1434.4 772.1 L1435.8 773.0 L1437.2 771.5 L1438.6 773.1 L1440.0 774.9 L1441.3 776.8 L1442.7 778.0 L1444.1 775.2 L1445.5 773.8 L1446.9 774.3 L1448.3 772.5 L1449.6 774.9 L1451.0 775.6 L1452.4 776.6 L1453.8 775.8 L1455.2 775.6 L1456.5 779.6 L1457.9 778.1 L1459.3 777.6 L1460.7 779.1 L1462.1 779.8 L1463.4 781.5 L1464.8 779.9 L1466.2 779.6 L1467.6 777.4 L1469.0 773.5 L1470.4 775.4 L1471.7 778.3 L1473.1 777.2 L1474.5 778.1 L1475.9 778.8 L1477.3 776.4 L1478.6 779.7 L1480.0 782.0 L1481.4 779.6 L1482.8 781.4 L1484.2 781.2 L1485.5 783.0 L1486.9 783.4 L1488.3 783.1 L1489.7 782.3 L1491.1 780.4 L1492.5 781.2 L1493.8 779.6 L1495.2 781.8 L1496.6 781.7 L1498.0 785.1 L1499.4 784.7 L1500.7 784.2 L1502.1 778.4 L1503.5 779.8 L1504.9 778.8 L1506.3 779.4 L1507.6 783.6 L1509.0 783.1 L1510.4 781.5 L1511.8 783.8 L1513.2 784.9 L1514.6 786.0 L1515.9 783.0 L1517.3 786.8 L1518.7 783.6 L1520.1 786.3 L1521.5 787.6 L1522.8 786.0 L1524.2 784.8 L1525.6 786.8 L1527.0 785.5 L1528.4 787.4 L1529.7 786.6 L1531.1 783.5 L1532.5 784.4 L1533.9 785.1 L1535.3 785.7 L1536.7 787.6 L1538.0 784.9 L1539.4 782.8 L1540.8 784.0 L1542.2 784.8 L1543.6 787.4 L1544.9 783.7 L1546.3 782.7 L1547.7 786.7 L1549.1 787.6 L1550.5 786.2 L1551.8 784.1 L1553.2 783.0 L1554.6 783.7 L1556.0 783.8 L1557.4 784.5 L1558.8 785.4 L1560.1 786.0 L1561.5 786.9 L1562.9 787.0 L1564.3 785.6 L1565.7 784.8 L1567.0 782.0 L1568.4 782.5 L1569.8 780.4 L1571.2 783.6 L1572.6 785.3 L1573.9 785.6 L1575.3 784.3 L1576.7 784.3 L1578.1 784.5 L1579.5 783.0 L1580.9 781.5 L1582.2 780.3 L1583.6 781.0 L1585.0 780.1 L1586.4 777.8 L1587.8 778.3 L1589.1 781.0 L1590.5 780.9 L1591.9 783.7 L1593.3 783.3 L1594.7 781.1 L1596.0 781.4 L1597.4 782.1 L1598.8 782.5 L1600.2 781.7 L1601.6 782.2 L1603.0 779.7 L1604.3 781.1 L1605.7 778.4 L1607.1 778.9 L1608.5 775.1 L1609.9 776.0 L1611.2 773.5 L1612.6 774.3 L1614.0 770.3 L1615.4 768.6 L1616.8 767.1 L1618.1 764.0 L1619.5 761.6 L1620.9 762.0 L1622.3 760.4 L1623.7 759.2 L1625.0 761.1 L1626.4 758.9 L1627.8 759.8 L1629.2 755.6 L1630.6 753.6 L1632.0 755.9 L1633.3 754.1 L1634.7 750.0 L1636.1 747.9 L1637.5 746.6 L1638.9 750.8 L1640.2 752.1 L1641.6 750.4 L1643.0 751.0 L1644.4 748.6 L1645.8 748.8 L1647.1 748.4 L1648.5 749.0 L1649.9 747.0 L1651.3 745.2 L1652.7 745.0 L1654.1 746.5 L1655.4 748.0 L1656.8 746.6 L1658.2 745.8 L1659.6 749.7 L1661.0 748.2 L1662.3 744.4 L1663.7 748.7 L1665.1 747.3 L1666.5 746.5 L1667.9 743.0 L1669.2 743.3 L1670.6 742.3 L1672.0 741.5 L1673.4 744.2 L1674.8 743.7 L1676.2 739.8 L1677.5 739.2 L1678.9 741.4 L1680.3 742.5 L1681.7 742.0 L1683.1 741.2 L1684.4 740.8 L1685.8 741.9 L1687.2 742.2 L1688.6 743.3 L1690.0 741.5 L1691.3 740.5 L1692.7 740.9 L1694.1 742.5 L1695.5 737.0 L1696.9 735.5 L1698.3 733.0 L1699.6 732.8 L1701.0 734.4 L1702.4 737.8 L1703.8 741.2 L1705.2 741.9 L1706.5 742.3 L1707.9 740.4 L1709.3 742.1 L1710.7 741.9 L1712.1 737.3 L1713.4 739.4 L1714.8 737.3 L1716.2 737.2 L1717.6 737.8 L1719.0 737.5 L1720.4 740.9 L1721.7 741.5 L1723.1 739.6 L1724.5 738.1 L1725.9 734.2 L1727.3 735.8 L1728.6 735.9" fill="none" stroke="#1a1aff" stroke-width="3.1" stroke-linejoin="round" clip-path="url(#c3)"/>
<path d="M232.8 1065.0 L234.0 1057.8 L235.1 1063.7 L236.3 1063.6 L237.4 1058.9 L238.6 1069.8 L239.7 1074.0 L240.9 1064.7 L242.0 1056.6 L243.2 1062.7 L244.3 1074.7 L245.5 1081.8 L246.6 1076.2 L247.8 1058.6 L248.9 1063.4 L250.1 1065.8 L251.2 1069.2 L252.4 1081.0 L253.5 1074.1 L254.7 1055.6 L255.8 1047.9 L257.0 1059.1 L258.1 1074.0 L259.3 1082.1 L260.4 1078.6 L261.6 1074.6 L262.7 1064.3 L263.9 1054.5 L265.0 1060.3 L266.2 1068.6 L267.3 1064.8 L268.5 1066.6 L269.6 1076.1 L270.8 1060.7 L271.9 1048.3 L273.1 1054.4 L274.2 1061.8 L275.4 1059.9 L276.5 1058.2 L277.7 1061.2 L278.8 1060.0 L280.0 1063.9 L281.1 1063.5 L282.3 1055.6 L283.4 1061.6 L284.6 1063.5 L285.7 1053.4 L286.9 1050.5 L288.0 1051.9 L289.2 1056.9 L290.4 1055.9 L291.5 1056.6 L292.7 1066.0 L293.8 1068.0 L295.0 1062.3 L296.1 1068.7 L297.3 1081.0 L298.4 1081.9 L299.6 1080.4 L300.7 1077.9 L301.9 1077.3 L303.0 1079.1 L304.2 1075.4 L305.3 1064.6 L306.5 1055.0 L307.6 1054.4 L308.8 1051.4 L309.9 1058.4 L311.1 1060.5 L312.2 1061.8 L313.4 1068.2 L314.5 1069.0 L315.7 1068.0 L316.8 1057.7 L318.0 1052.5 L319.1 1056.8 L320.3 1065.9 L321.4 1060.2 L322.6 1053.6 L323.7 1058.4 L324.9 1062.7 L326.0 1063.2 L327.2 1057.3 L328.3 1063.5 L329.5 1069.0 L330.6 1058.5 L331.8 1064.0 L332.9 1063.4 L334.1 1051.2 L335.2 1056.2 L336.4 1062.1 L337.5 1059.8 L338.7 1051.6 L339.8 1045.8 L341.0 1047.9 L342.1 1057.9 L343.3 1061.8 L344.4 1061.2 L345.6 1061.5 L346.7 1053.5 L347.9 1048.4 L349.1 1053.8 L350.2 1060.8 L351.4 1066.7 L352.5 1064.9 L353.7 1061.5 L354.8 1053.2 L356.0 1050.0 L357.1 1055.7 L358.3 1047.8 L359.4 1050.7 L360.6 1057.1 L361.7 1051.2 L362.9 1048.7 L364.0 1056.9 L365.2 1057.5 L366.3 1052.9 L367.5 1060.6 L368.6 1070.5 L369.8 1069.2 L370.9 1056.3 L372.1 1052.8 L373.2 1051.7 L374.4 1052.1 L375.5 1053.1 L376.7 1050.7 L377.8 1050.6 L379.0 1058.0 L380.1 1061.8 L381.3 1058.3 L382.4 1063.7 L383.6 1064.7 L384.7 1061.8 L385.9 1053.7 L387.0 1045.6 L388.2 1051.5 L389.3 1059.2 L390.5 1062.5 L391.6 1061.2 L392.8 1063.2 L393.9 1068.0 L395.1 1057.6 L396.2 1053.2 L397.4 1058.4 L398.5 1052.1 L399.7 1054.9 L400.8 1055.4 L402.0 1045.0 L403.1 1049.3 L404.3 1058.7 L405.4 1064.2 L406.6 1056.8 L407.8 1050.9 L408.9 1048.7 L410.1 1052.9 L411.2 1057.6 L412.4 1048.1 L413.5 1045.9 L414.7 1050.8 L415.8 1057.6 L417.0 1052.0 L418.1 1052.0 L419.3 1056.6 L420.4 1052.9 L421.6 1053.2 L422.7 1051.0 L423.9 1054.6 L425.0 1055.9 L426.2 1058.7 L427.3 1053.2 L428.5 1048.3 L429.6 1056.1 L430.8 1059.7 L431.9 1057.0 L433.1 1055.7 L434.2 1057.8 L435.4 1056.1 L436.5 1056.5 L437.7 1058.9 L438.8 1056.3 L440.0 1043.2 L441.1 1032.4 L442.3 1034.6 L443.4 1040.4 L444.6 1035.8 L445.7 1039.8 L446.9 1049.5 L448.0 1049.5 L449.2 1041.2 L450.3 1029.2 L451.5 1019.0 L452.6 1012.0 L453.8 1013.2 L454.9 1020.3 L456.1 1028.3 L457.2 1019.8 L458.4 1008.2 L459.5 1001.3 L460.7 997.0 L461.8 996.0 L463.0 1002.7 L464.2 1007.7 L465.3 1013.5 L466.5 1012.0 L467.6 1005.7 L468.8 1013.4 L469.9 1026.3 L471.1 1024.9 L472.2 1010.2 L473.4 999.2 L474.5 997.0 L475.7 998.5 L476.8 999.1 L478.0 1004.0 L479.1 1018.6 L480.3 1022.9 L481.4 1021.9 L482.6 1020.6 L483.7 1020.1 L484.9 1017.3 L486.0 1010.9 L487.2 1012.8 L488.3 1004.5 L489.5 1003.7 L490.6 1012.4 L491.8 1013.3 L492.9 1017.5 L494.1 1012.3 L495.2 1003.7 L496.4 1007.2 L497.5 1024.0 L498.7 1029.3 L499.8 1010.3 L501.0 1012.4 L502.1 1019.2 L503.3 1025.6 L504.4 1032.4 L505.6 1025.9 L506.7 1022.9 L507.9 1020.0 L509.0 1013.9 L510.2 1016.0 L511.3 1023.1 L512.5 1012.6 L513.6 999.8 L514.8 999.2 L515.9 1003.7 L517.1 1012.3 L518.2 1018.5 L519.4 1032.7 L520.5 1032.9 L521.7 1025.4 L522.9 1017.3 L524.0 1005.6 L525.2 1012.4 L526.3 1023.2 L527.5 1024.6 L528.6 1030.4 L529.8 1036.2 L530.9 1024.8 L532.1 1024.2 L533.2 1014.7 L534.4 999.2 L535.5 1010.3 L536.7 1013.4 L537.8 1008.0 L539.0 1013.7 L540.1 1024.5 L541.3 1030.4 L542.4 1027.9 L543.6 1015.1 L544.7 1007.7 L545.9 1007.3 L547.0 1011.5 L548.2 1032.9 L549.3 1038.9 L550.5 1030.4 L551.6 1026.1 L552.8 1019.6 L553.9 1017.9 L555.1 1022.9 L556.2 1030.3 L557.4 1021.8 L558.5 1013.2 L559.7 1019.8 L560.8 1019.3 L562.0 1018.2 L563.1 1023.5 L564.3 1021.8 L565.4 1017.6 L566.6 1029.2 L567.7 1036.1 L568.9 1038.5 L570.0 1042.2 L571.2 1044.2 L572.3 1047.3 L573.5 1036.9 L574.6 1027.3 L575.8 1026.5 L576.9 1017.0 L578.1 1018.7 L579.3 1024.5 L580.4 1032.4 L581.6 1033.6 L582.7 1010.3 L583.9 1014.3 L585.0 1032.7 L586.2 1035.6 L587.3 1030.6 L588.5 1024.7 L589.6 1020.3 L590.8 1015.5 L591.9 1026.5 L593.1 1032.2 L594.2 1028.9 L595.4 1023.1 L596.5 1013.8 L597.7 1012.0 L598.8 1022.5 L600.0 1028.8 L601.1 1029.8 L602.3 1037.2 L603.4 1043.5 L604.6 1040.5 L605.7 1032.9 L606.9 1029.1 L608.0 1030.0 L609.2 1020.6 L610.3 1016.4 L611.5 1029.7 L612.6 1029.8 L613.8 1026.2 L614.9 1023.4 L616.1 1023.5 L617.2 1022.6 L618.4 1022.1 L619.5 1020.8 L620.7 1025.3 L621.8 1027.7 L623.0 1027.0 L624.1 1031.6 L625.3 1019.4 L626.4 1022.9 L627.6 1023.1 L628.7 1010.0 L629.9 1022.3 L631.0 1037.0 L632.2 1043.0 L633.3 1037.2 L634.5 1022.6 L635.6 1024.1 L636.8 1024.3 L638.0 1023.6 L639.1 1027.4 L640.3 1020.7 L641.4 1023.9 L642.6 1029.4 L643.7 1034.0 L644.9 1033.5 L646.0 1020.9 L647.2 1012.7 L648.3 1011.0 L649.5 1022.5 L650.6 1038.3 L651.8 1045.5 L652.9 1046.8 L654.1 1034.2 L655.2 1030.2 L656.4 1026.8 L657.5 1028.7 L658.7 1029.2 L659.8 1024.4 L661.0 1035.8 L662.1 1034.3 L663.3 1026.7 L664.4 1037.4 L665.6 1042.9 L666.7 1039.8 L667.9 1027.2 L669.0 1019.4 L670.2 1027.7 L671.3 1027.6 L672.5 1024.6 L673.6 1023.3 L674.8 1035.8 L675.9 1047.8 L677.1 1038.5 L678.2 1028.0 L679.4 1031.0 L680.5 1031.6 L681.7 1031.1 L682.8 1045.5 L684.0 1055.7 L685.1 1060.1 L686.3 1062.2 L687.4 1067.6 L688.6 1071.6 L689.7 1062.1 L690.9 1067.3 L692.0 1073.9 L693.2 1075.2 L694.4 1081.2 L695.5 1081.4 L696.7 1081.2 L697.8 1081.8 L699.0 1067.7 L700.1 1055.4 L701.3 1061.2 L702.4 1064.7 L703.6 1065.7 L704.7 1065.0 L705.9 1060.6 L707.0 1071.5 L708.2 1084.3 L709.3 1074.2 L710.5 1057.2 L711.6 1052.6 L712.8 1055.4 L713.9 1055.6 L715.1 1061.2 L716.2 1070.6 L717.4 1076.7 L718.5 1066.9 L719.7 1054.8 L720.8 1063.8 L722.0 1065.2 L723.1 1067.8 L724.3 1069.5 L725.4 1068.0 L726.6 1076.0 L727.7 1083.1 L728.9 1071.8 L730.0 1059.7 L731.2 1058.8 L732.3 1052.4 L733.5 1057.6 L734.6 1062.7 L735.8 1063.3 L736.9 1058.7 L738.1 1048.5 L739.2 1054.8 L740.4 1058.2 L741.5 1053.8 L742.7 1053.4 L743.8 1054.5 L745.0 1060.4 L746.1 1060.9 L747.3 1055.6 L748.4 1059.5 L749.6 1062.7 L750.8 1063.7 L751.9 1062.3 L753.1 1054.7 L754.2 1061.1 L755.4 1061.8 L756.5 1052.1 L757.7 1056.9 L758.8 1064.9 L760.0 1063.7 L761.1 1058.2 L762.3 1067.7 L763.4 1073.9 L764.6 1065.5 L765.7 1063.9 L766.9 1057.6 L768.0 1053.4 L769.2 1065.2 L770.3 1063.6 L771.5 1068.7 L772.6 1073.1 L773.8 1063.5 L774.9 1066.5 L776.1 1067.9 L777.2 1067.9 L778.4 1063.8 L779.5 1059.3 L780.7 1069.1 L781.8 1071.3 L783.0 1060.8 L784.1 1051.1 L785.3 1055.4 L786.4 1067.8 L787.6 1069.2 L788.7 1066.8 L789.9 1070.3 L791.0 1060.6 L792.2 1057.0 L793.3 1059.0 L794.5 1057.8 L795.6 1065.3 L796.8 1066.8 L797.9 1060.9 L799.1 1053.3 L800.2 1060.7 L801.4 1072.8 L802.5 1076.1 L803.7 1076.3 L804.8 1070.8 L806.0 1065.2 L807.1 1067.6 L808.3 1060.8 L809.5 1057.0 L810.6 1067.7 L811.8 1065.2 L812.9 1065.2 L814.1 1060.1 L815.2 1048.7 L816.4 1055.8 L817.5 1055.4 L818.7 1059.0 L819.8 1072.6 L821.0 1077.8 L822.1 1068.6 L823.3 1062.0 L824.4 1064.6 L825.6 1056.4 L826.7 1048.9 L827.9 1055.3 L829.0 1063.1 L830.2 1062.2 L831.3 1062.5 L832.5 1059.1 L833.6 1059.0 L834.8 1068.7 L835.9 1077.2 L837.1 1069.3 L838.2 1065.6 L839.4 1065.7 L840.5 1057.7 L841.7 1062.8 L842.8 1069.0 L844.0 1062.3 L845.1 1061.0 L846.3 1067.3 L847.4 1067.0 L848.6 1060.5 L849.7 1051.7 L850.9 1052.1 L852.0 1051.8 L853.2 1062.1 L854.3 1069.2 L855.5 1064.5 L856.6 1062.1 L857.8 1056.6 L858.9 1058.8 L860.1 1062.1 L861.2 1063.5 L862.4 1060.2 L863.5 1060.7 L864.7 1059.4 L865.8 1050.6 L867.0 1057.5 L868.2 1058.2 L869.3 1057.6 L870.5 1065.3 L871.6 1070.8 L872.8 1069.5 L873.9 1063.9 L875.1 1052.3 L876.2 1049.0 L877.4 1051.4 L878.5 1045.8 L879.7 1051.7 L880.8 1064.9 L882.0 1072.1 L883.1 1072.3 L884.3 1074.5 L885.4 1075.4 L886.6 1058.1 L887.7 1045.0 L888.9 1050.6 L890.0 1060.0 L891.2 1062.8 L892.3 1058.6 L893.5 1069.7 L894.6 1068.0 L895.8 1058.7 L896.9 1061.9 L898.1 1055.2 L899.2 1057.4 L900.4 1059.6 L901.5 1064.6 L902.7 1076.8 L903.8 1065.6 L905.0 1059.7 L906.1 1062.6 L907.3 1053.8 L908.4 1044.1 L909.6 1045.0 L910.7 1044.2 L911.9 1045.9 L913.0 1039.8 L914.2 1028.3 L915.3 1022.6 L916.5 1023.9 L917.6 1026.6 L918.8 1026.2 L919.9 1031.7 L921.1 1026.4 L922.2 1019.2 L923.4 1015.5 L924.6 1023.5 L925.7 1030.8 L926.9 1021.1 L928.0 1025.8 L929.2 1032.4 L930.3 1014.2 L931.5 1005.5 L932.6 1008.5 L933.8 1018.3 L934.9 1025.7 L936.1 1013.8 L937.2 1011.6 L938.4 1028.3 L939.5 1027.7 L940.7 1020.7 L941.8 1019.0 L943.0 1020.9 L944.1 1021.1 L945.3 1010.1 L946.4 1014.7 L947.6 1015.3 L948.7 1016.5 L949.9 1030.2 L951.0 1031.4 L952.2 1040.5 L953.3 1037.4 L954.5 1019.6 L955.6 1019.3 L956.8 1024.0 L957.9 1028.3 L959.1 1027.9 L960.2 1020.7 L961.4 1030.6 L962.5 1040.4 L963.7 1044.2 L964.8 1034.8 L966.0 1024.1 L967.1 1029.3 L968.3 1020.4 L969.4 1018.6 L970.6 1019.2 L971.7 1027.1 L972.9 1035.2 L974.0 1027.7 L975.2 1021.0 L976.3 1016.9 L977.5 1015.4 L978.6 1024.5 L979.8 1025.8 L981.0 1020.8 L982.1 1028.2 L983.3 1039.4 L984.4 1035.2 L985.6 1020.1 L986.7 1013.7 L987.9 1012.8 L989.0 1012.3 L990.2 1010.3 L991.3 1019.8 L992.5 1024.0 L993.6 1027.1 L994.8 1028.6 L995.9 1013.9 L997.1 1018.0 L998.2 1023.4 L999.4 1024.7 L1000.5 1027.7 L1001.7 1026.3 L1002.8 1028.0 L1004.0 1015.2 L1005.1 1014.3 L1006.3 1032.8 L1007.4 1038.3 L1008.6 1031.0 L1009.7 1022.7 L1010.9 1020.9 L1012.0 1029.9 L1013.2 1020.6 L1014.3 1012.7 L1015.5 1015.6 L1016.6 1024.9 L1017.8 1041.9 L1018.9 1048.3 L1020.1 1035.5 L1021.2 1014.5 L1022.4 1004.8 L1023.5 1013.2 L1024.7 1026.9 L1025.8 1031.9 L1027.0 1024.9 L1028.1 1022.8 L1029.3 1033.5 L1030.4 1029.8 L1031.6 1023.5 L1032.7 1025.2 L1033.9 1020.2 L1035.0 1014.5 L1036.2 1012.8 L1037.3 1017.6 L1038.5 1019.1 L1039.7 1023.4 L1040.8 1035.8 L1042.0 1031.7 L1043.1 1021.9 L1044.3 1030.2 L1045.4 1031.8 L1046.6 1027.8 L1047.7 1026.3 L1048.9 1014.0 L1050.0 1010.2 L1051.2 1015.4 L1052.3 1025.7 L1053.5 1035.7 L1054.6 1034.1 L1055.8 1030.2 L1056.9 1029.8 L1058.1 1029.9 L1059.2 1032.7 L1060.4 1020.9 L1061.5 1012.0 L1062.7 1017.0 L1063.8 1029.2 L1065.0 1033.2 L1066.1 1026.9 L1067.3 1037.8 L1068.4 1045.8 L1069.6 1043.2 L1070.7 1031.4 L1071.9 1014.7 L1073.0 1013.1 L1074.2 1023.5 L1075.3 1021.6 L1076.5 1019.8 L1077.6 1023.5 L1078.8 1026.9 L1079.9 1040.4 L1081.1 1041.9 L1082.2 1036.4 L1083.4 1033.5 L1084.5 1033.2 L1085.7 1023.8 L1086.8 1015.5 L1088.0 1024.3 L1089.1 1023.3 L1090.3 1022.4 L1091.4 1035.6 L1092.6 1034.3 L1093.7 1025.9 L1094.9 1029.6 L1096.0 1026.0 L1097.2 1019.5 L1098.4 1024.3 L1099.5 1034.7 L1100.7 1031.0 L1101.8 1031.0 L1103.0 1034.4 L1104.1 1033.3 L1105.3 1032.6 L1106.4 1018.4 L1107.6 1024.2 L1108.7 1036.9 L1109.9 1030.8 L1111.0 1032.1 L1112.2 1025.7 L1113.3 1025.0 L1114.5 1039.8 L1115.6 1030.7 L1116.8 1032.4 L1117.9 1041.5 L1119.1 1035.4 L1120.2 1031.5 L1121.4 1021.4 L1122.5 1022.6 L1123.7 1028.7 L1124.8 1034.3 L1126.0 1034.5 L1127.1 1030.9 L1128.3 1035.2 L1129.4 1033.9 L1130.6 1031.5 L1131.7 1026.7 L1132.9 1033.5 L1134.0 1042.8 L1135.2 1030.3 L1136.3 1030.5 L1137.5 1048.2 L1138.6 1041.7 L1139.8 1043.8 L1140.9 1051.7 L1142.1 1045.5 L1143.2 1041.9 L1144.4 1043.2 L1145.5 1047.3 L1146.7 1054.7 L1147.8 1056.9 L1149.0 1061.1 L1150.1 1066.7 L1151.3 1061.0 L1152.4 1059.9 L1153.6 1061.7 L1154.8 1069.7 L1155.9 1079.8 L1157.1 1076.0 L1158.2 1071.8 L1159.4 1068.1 L1160.5 1061.0 L1161.7 1070.5 L1162.8 1077.9 L1164.0 1065.6 L1165.1 1061.1 L1166.3 1067.4 L1167.4 1065.9 L1168.6 1069.2 L1169.7 1076.5 L1170.9 1077.4 L1172.0 1068.5 L1173.2 1053.9 L1174.3 1050.7 L1175.5 1051.0 L1176.6 1062.5 L1177.8 1065.9 L1178.9 1065.7 L1180.1 1077.6 L1181.2 1075.5 L1182.4 1068.3 L1183.5 1073.0 L1184.7 1072.8 L1185.8 1062.4 L1187.0 1055.7 L1188.1 1058.7 L1189.3 1072.8 L1190.4 1077.2 L1191.6 1065.7 L1192.7 1061.1 L1193.9 1057.6 L1195.0 1051.1 L1196.2 1059.5 L1197.3 1068.7 L1198.5 1069.8 L1199.6 1058.2 L1200.8 1049.1 L1201.9 1059.0 L1203.1 1062.1 L1204.2 1068.3 L1205.4 1078.8 L1206.5 1075.7 L1207.7 1068.2 L1208.8 1065.7 L1210.0 1062.3 L1211.1 1063.6 L1212.3 1074.5 L1213.5 1070.7 L1214.6 1060.9 L1215.8 1060.2 L1216.9 1059.3 L1218.1 1057.1 L1219.2 1060.2 L1220.4 1067.9 L1221.5 1065.9 L1222.7 1055.7 L1223.8 1050.0 L1225.0 1054.5 L1226.1 1055.8 L1227.3 1058.9 L1228.4 1057.0 L1229.6 1052.5 L1230.7 1064.1 L1231.9 1070.1 L1233.0 1064.1 L1234.2 1058.6 L1235.3 1063.0 L1236.5 1067.1 L1237.6 1063.3 L1238.8 1060.6 L1239.9 1062.1 L1241.1 1066.5 L1242.2 1069.6 L1243.4 1063.3 L1244.5 1062.7 L1245.7 1060.3 L1246.8 1053.4 L1248.0 1053.6 L1249.1 1060.1 L1250.3 1067.3 L1251.4 1070.1 L1252.6 1067.7 L1253.7 1058.8 L1254.9 1057.3 L1256.0 1055.5 L1257.2 1055.3 L1258.3 1058.5 L1259.5 1054.3 L1260.6 1051.4 L1261.8 1058.3 L1262.9 1064.1 L1264.1 1066.8 L1265.2 1067.2 L1266.4 1064.0 L1267.5 1065.1 L1268.7 1063.8 L1269.9 1063.2 L1271.0 1057.7 L1272.2 1056.1 L1273.3 1066.4 L1274.5 1067.9 L1275.6 1065.1 L1276.8 1065.7 L1277.9 1058.1 L1279.1 1055.3 L1280.2 1055.4 L1281.4 1054.9 L1282.5 1056.2 L1283.7 1060.1 L1284.8 1066.5 L1286.0 1064.0 L1287.1 1055.2 L1288.3 1056.4 L1289.4 1059.9 L1290.6 1063.8 L1291.7 1064.9 L1292.9 1062.7 L1294.0 1065.0 L1295.2 1052.7 L1296.3 1044.8 L1297.5 1049.2 L1298.6 1048.9 L1299.8 1049.5 L1300.9 1066.0 L1302.1 1067.2 L1303.2 1057.9 L1304.4 1052.2 L1305.5 1051.0 L1306.7 1058.9 L1307.8 1061.8 L1309.0 1072.1 L1310.1 1064.8 L1311.3 1051.3 L1312.4 1051.2 L1313.6 1055.7 L1314.7 1066.2 L1315.9 1075.0 L1317.0 1069.2 L1318.2 1054.1 L1319.3 1048.2 L1320.5 1050.9 L1321.6 1057.4 L1322.8 1063.0 L1323.9 1066.0 L1325.1 1058.1 L1326.2 1046.8 L1327.4 1042.2 L1328.6 1049.5 L1329.7 1063.7 L1330.9 1062.0 L1332.0 1052.3 L1333.2 1054.6 L1334.3 1058.9 L1335.5 1054.2 L1336.6 1057.3 L1337.8 1064.0 L1338.9 1057.6 L1340.1 1052.9 L1341.2 1051.0 L1342.4 1045.8 L1343.5 1047.2 L1344.7 1049.5 L1345.8 1060.6 L1347.0 1063.7 L1348.1 1056.5 L1349.3 1057.2 L1350.4 1051.6 L1351.6 1048.2 L1352.7 1054.9 L1353.9 1057.2 L1355.0 1057.0 L1356.2 1056.8 L1357.3 1053.4 L1358.5 1053.6 L1359.6 1050.3 L1360.8 1047.7 L1361.9 1046.2 L1363.1 1051.5 L1364.2 1055.8 L1365.4 1059.5 L1366.5 1058.3 L1367.7 1052.7 L1368.8 1046.1 L1370.0 1041.4 L1371.1 1049.5 L1372.3 1048.8 L1373.4 1044.5 L1374.6 1048.2 L1375.7 1046.9 L1376.9 1035.2 L1378.0 1020.7 L1379.2 1016.3 L1380.3 1020.4 L1381.5 1020.8 L1382.6 1014.4 L1383.8 1003.9 L1385.0 1014.5 L1386.1 1026.1 L1387.3 1029.2 L1388.4 1027.1 L1389.6 1018.1 L1390.7 1011.9 L1391.9 1015.0 L1393.0 1017.6 L1394.2 1021.8 L1395.3 1025.8 L1396.5 1020.7 L1397.6 1017.6 L1398.8 1028.8 L1399.9 1026.7 L1401.1 1015.5 L1402.2 1006.0 L1403.4 1008.3 L1404.5 1027.4 L1405.7 1022.6 L1406.8 1027.9 L1408.0 1038.5 L1409.1 1022.8 L1410.3 1005.0 L1411.4 1009.1 L1412.6 1019.8 L1413.7 1023.3 L1414.9 1039.2 L1416.0 1031.1 L1417.2 1006.9 L1418.3 1005.8 L1419.5 1014.0 L1420.6 1011.2 L1421.8 1020.9 L1422.9 1045.0 L1424.1 1039.8 L1425.2 1020.6 L1426.4 1017.3 L1427.5 1012.9 L1428.7 1011.9 L1429.8 1025.3 L1431.0 1029.8 L1432.1 1026.4 L1433.3 1022.2 L1434.4 1021.7 L1435.6 1028.6 L1436.7 1040.8 L1437.9 1029.2 L1439.0 1019.6 L1440.2 1024.2 L1441.3 1022.7 L1442.5 1038.8 L1443.7 1040.0 L1444.8 1028.2 L1446.0 1022.7 L1447.1 1016.1 L1448.3 1029.3 L1449.4 1037.5 L1450.6 1022.4 L1451.7 1022.0 L1452.9 1021.1 L1454.0 1018.7 L1455.2 1029.2 L1456.3 1026.2 L1457.5 1027.5 L1458.6 1019.6 L1459.8 1003.8 L1460.9 1016.6 L1462.1 1021.3 L1463.2 1017.0 L1464.4 1026.2 L1465.5 1019.1 L1466.7 1010.3 L1467.8 1028.0 L1469.0 1035.6 L1470.1 1023.0 L1471.3 1010.5 L1472.4 1005.0 L1473.6 1011.6 L1474.7 1026.7 L1475.9 1032.2 L1477.0 1033.5 L1478.2 1032.5 L1479.3 1031.1 L1480.5 1026.0 L1481.6 1019.9 L1482.8 1020.4 L1483.9 1016.4 L1485.1 1012.4 L1486.2 1024.6 L1487.4 1034.8 L1488.5 1035.1 L1489.7 1034.6 L1490.8 1024.9 L1492.0 1016.2 L1493.1 1019.4 L1494.3 1027.0 L1495.4 1016.9 L1496.6 1016.7 L1497.7 1022.6 L1498.9 1033.4 L1500.1 1041.2 L1501.2 1036.2 L1502.4 1024.8 L1503.5 1019.8 L1504.7 1016.9 L1505.8 1010.2 L1507.0 1018.5 L1508.1 1029.6 L1509.3 1031.2 L1510.4 1025.1 L1511.6 1017.5 L1512.7 1015.3 L1513.9 1028.5 L1515.0 1030.6 L1516.2 1023.0 L1517.3 1027.1 L1518.5 1039.3 L1519.6 1041.4 L1520.8 1031.7 L1521.9 1019.8 L1523.1 1020.2 L1524.2 1029.0 L1525.4 1022.8 L1526.5 1032.3 L1527.7 1037.8 L1528.8 1031.2 L1530.0 1025.1 L1531.1 1018.9 L1532.3 1020.9 L1533.4 1024.7 L1534.6 1031.1 L1535.7 1025.1 L1536.9 1022.6 L1538.0 1035.3 L1539.2 1037.3 L1540.3 1019.5 L1541.5 1013.7 L1542.6 1021.7 L1543.8 1020.7 L1544.9 1017.5 L1546.1 1019.7 L1547.2 1018.2 L1548.4 1017.7 L1549.5 1031.6 L1550.7 1040.7 L1551.8 1035.3 L1553.0 1019.0 L1554.1 1005.4 L1555.3 1011.3 L1556.4 1019.9 L1557.6 1034.6 L1558.8 1041.7 L1559.9 1037.1 L1561.1 1030.5 L1562.2 1030.6 L1563.4 1038.0 L1564.5 1040.4 L1565.7 1036.5 L1566.8 1038.7 L1568.0 1046.1 L1569.1 1033.6 L1570.3 1017.8 L1571.4 1011.6 L1572.6 1009.8 L1573.7 1009.9 L1574.9 1013.1 L1576.0 1020.8 L1577.2 1025.4 L1578.3 1029.2 L1579.5 1036.2 L1580.6 1030.3 L1581.8 1025.5 L1582.9 1025.2 L1584.1 1014.8 L1585.2 1013.7 L1586.4 1020.9 L1587.5 1024.7 L1588.7 1018.3 L1589.8 1023.4 L1591.0 1028.4 L1592.1 1022.5 L1593.3 1022.4 L1594.4 1027.8 L1595.6 1030.8 L1596.7 1030.3 L1597.9 1028.7 L1599.0 1026.1 L1600.2 1042.9 L1601.3 1048.2 L1602.5 1039.4 L1603.6 1037.6 L1604.8 1033.2 L1605.9 1030.7 L1607.1 1036.2 L1608.2 1046.8 L1609.4 1049.2 L1610.5 1047.1 L1611.7 1053.8 L1612.8 1065.1 L1614.0 1067.5 L1615.2 1061.1 L1616.3 1062.1 L1617.5 1063.0 L1618.6 1055.9 L1619.8 1051.3 L1620.9 1055.0 L1622.1 1059.5 L1623.2 1062.1 L1624.4 1066.3 L1625.5 1071.5 L1626.7 1076.9 L1627.8 1076.2 L1629.0 1075.6 L1630.1 1071.7 L1631.3 1066.6 L1632.4 1063.8 L1633.6 1060.3 L1634.7 1054.7 L1635.9 1052.0 L1637.0 1049.5 L1638.2 1056.1 L1639.3 1059.1 L1640.5 1060.9 L1641.6 1069.1 L1642.8 1072.4 L1643.9 1072.4 L1645.1 1073.3 L1646.2 1074.9 L1647.4 1062.5 L1648.5 1053.8 L1649.7 1061.2 L1650.8 1063.2 L1652.0 1062.2 L1653.1 1062.7 L1654.3 1059.6 L1655.4 1058.7 L1656.6 1052.6 L1657.7 1056.6 L1658.9 1063.8 L1660.0 1060.3 L1661.2 1059.5 L1662.3 1067.2 L1663.5 1072.4 L1664.6 1067.5 L1665.8 1056.4 L1666.9 1059.3 L1668.1 1070.4 L1669.2 1061.6 L1670.4 1061.4 L1671.5 1069.6 L1672.7 1062.9 L1673.9 1063.0 L1675.0 1071.9 L1676.2 1070.6 L1677.3 1061.4 L1678.5 1062.4 L1679.6 1066.0 L1680.8 1062.9 L1681.9 1065.0 L1683.1 1060.6 L1684.2 1059.4 L1685.4 1064.6 L1686.5 1060.9 L1687.7 1055.2 L1688.8 1059.7 L1690.0 1057.8 L1691.1 1053.7 L1692.3 1063.3 L1693.4 1068.2 L1694.6 1066.2 L1695.7 1070.4 L1696.9 1077.9 L1698.0 1070.2 L1699.2 1059.9 L1700.3 1057.3 L1701.5 1052.5 L1702.6 1056.1 L1703.8 1063.0 L1704.9 1066.3 L1706.1 1065.8 L1707.2 1071.2 L1708.4 1081.3 L1709.5 1069.4 L1710.7 1062.8 L1711.8 1056.2 L1713.0 1049.0 L1714.1 1055.8 L1715.3 1062.3 L1716.4 1065.1 L1717.6 1065.2 L1718.7 1065.6 L1719.9 1062.3 L1721.0 1067.8 L1722.2 1076.4 L1723.3 1064.7 L1724.5 1054.7 L1725.6 1057.8 L1726.8 1053.9 L1727.9 1052.1 L1729.1 1055.9" fill="none" stroke="#ff1a1a" stroke-width="3.4" stroke-linejoin="round" clip-path="url(#c4)"/>
<path d="M232.8 1083.4 L234.6 1072.0 L236.5 1093.7 L238.3 1085.6 L240.2 1089.3 L242.0 1070.0 L243.8 1089.7 L245.7 1074.6 L247.5 1086.1 L249.4 1096.5 L251.2 1080.2 L253.1 1098.8 L254.9 1099.6 L256.7 1069.2 L258.6 1066.6 L260.4 1088.1 L262.3 1088.1 L264.1 1080.6 L265.9 1081.0 L267.8 1079.7 L269.6 1090.3 L271.5 1071.1 L273.3 1091.3 L275.2 1071.4 L277.0 1066.1 L278.8 1089.6 L280.7 1077.6 L282.5 1075.1 L284.4 1096.1 L286.2 1067.1 L288.0 1083.0 L289.9 1079.8 L291.7 1087.2 L293.6 1087.1 L295.4 1120.2 L297.3 1068.5 L299.1 1067.1 L300.9 1069.2 L302.8 1061.3 L304.6 1067.5 L306.5 1047.8 L308.3 1104.4 L310.1 1066.4 L312.0 1069.4 L313.8 1078.4 L315.7 1080.6 L317.5 1077.3 L319.4 1076.2 L321.2 1082.8 L323.0 1086.7 L324.9 1095.7 L326.7 1084.2 L328.6 1096.8 L330.4 1087.7 L332.2 1120.2 L334.1 1071.8 L335.9 1080.4 L337.8 1072.3 L339.6 1082.8 L341.5 1078.4 L343.3 1066.4 L345.1 1064.9 L347.0 1091.7 L348.8 1072.7 L350.7 1086.2 L352.5 1082.0 L354.3 1083.5 L356.2 1093.1 L358.0 1091.0 L359.9 1066.8 L361.7 1079.7 L363.6 1095.9 L365.4 1062.1 L367.2 1090.3 L369.1 1069.6 L370.9 1078.8 L372.8 1078.3 L374.6 1096.3 L376.4 1092.5 L378.3 1072.4 L380.1 1072.9 L382.0 1112.3 L383.8 1069.9 L385.7 1093.8 L387.5 1095.0 L389.3 1120.2 L391.2 1061.2 L393.0 1077.1 L394.9 1075.9 L396.7 1073.6 L398.5 1095.4 L400.4 1068.0 L402.2 1065.2 L404.1 1092.0 L405.9 1089.1 L407.8 1063.6 L409.6 1077.1 L411.4 1090.1 L413.3 1061.2 L415.1 1068.3 L417.0 1088.1 L418.8 1078.0 L420.6 1071.8 L422.5 1083.2 L424.3 1073.3 L426.2 1081.4 L428.0 1064.1 L429.9 1088.5 L431.7 1080.1 L433.5 1095.5 L435.4 1074.9 L437.2 1094.3 L439.1 1079.7 L440.9 1058.7 L442.7 1063.6 L444.6 1069.8 L446.4 1063.8 L448.3 1076.4 L450.1 1071.6 L452.0 1048.3 L453.8 1070.0 L455.6 1042.7 L457.5 1039.1 L459.3 1033.3 L461.2 997.5 L463.0 1051.5 L464.8 1047.9 L466.7 1054.4 L468.5 1060.9 L470.4 1054.8 L472.2 1042.4 L474.0 1013.0 L475.9 1034.1 L477.7 1021.8 L479.6 1025.8 L481.4 1031.5 L483.3 1023.3 L485.1 1040.8 L486.9 980.9 L488.8 1013.6 L490.6 1035.8 L492.5 1030.1 L494.3 1031.7 L496.1 1031.4 L498.0 1032.4 L499.8 1018.3 L501.7 1054.1 L503.5 1035.0 L505.4 1038.3 L507.2 1047.5 L509.0 1043.1 L510.9 1027.6 L512.7 1044.8 L514.6 1045.3 L516.4 1017.0 L518.2 1037.2 L520.1 1050.9 L521.9 1032.2 L523.8 1058.1 L525.6 1042.1 L527.5 1038.8 L529.3 1034.4 L531.1 1018.1 L533.0 1058.3 L534.8 1027.8 L536.7 1043.5 L538.5 1031.1 L540.3 1019.8 L542.2 1021.0 L544.0 1032.8 L545.9 1038.7 L547.7 1039.8 L549.6 1044.7 L551.4 1012.6 L553.2 1036.7 L555.1 1031.1 L556.9 1035.2 L558.8 1051.9 L560.6 1014.5 L562.4 1034.0 L564.3 990.5 L566.1 1021.0 L568.0 1029.8 L569.8 1044.7 L571.7 1050.3 L573.5 1050.4 L575.3 1046.3 L577.2 1037.4 L579.0 1034.5 L580.9 1035.5 L582.7 1022.4 L584.5 1020.0 L586.4 1022.9 L588.2 1054.3 L590.1 1043.5 L591.9 1056.2 L593.8 1022.9 L595.6 1029.6 L597.4 1047.0 L599.3 1020.6 L601.1 1027.9 L603.0 1051.3 L604.8 1029.9 L606.6 1062.7 L608.5 1031.7 L610.3 1022.3 L612.2 1036.1 L614.0 1027.0 L615.9 1034.1 L617.7 1032.3 L619.5 1021.4 L621.4 1023.9 L623.2 1038.4 L625.1 1024.2 L626.9 1043.3 L628.7 1027.0 L630.6 1043.9 L632.4 1024.8 L634.3 1044.6 L636.1 1034.9 L638.0 1046.2 L639.8 1049.4 L641.6 1036.0 L643.5 1047.1 L645.3 1044.6 L647.2 1037.2 L649.0 1025.9 L650.8 1044.0 L652.7 1059.2 L654.5 1048.2 L656.4 1049.9 L658.2 1056.7 L660.1 1053.5 L661.9 1048.3 L663.7 1046.4 L665.6 1042.9 L667.4 1030.7 L669.3 1030.9 L671.1 1042.6 L672.9 1058.7 L674.8 1075.9 L676.6 1064.6 L678.5 1073.3 L680.3 1059.3 L682.2 1071.7 L684.0 1064.2 L685.8 1074.8 L687.7 1080.1 L689.5 1087.0 L691.4 1081.4 L693.2 1094.6 L695.0 1094.0 L696.9 1094.0 L698.7 1073.0 L700.6 1100.9 L702.4 1110.6 L704.2 1078.3 L706.1 1085.4 L707.9 1080.2 L709.8 1080.7 L711.6 1084.6 L713.5 1087.9 L715.3 1081.4 L717.1 1096.7 L719.0 1087.8 L720.8 1095.1 L722.7 1085.6 L724.5 1077.1 L726.3 1088.4 L728.2 1081.4 L730.0 1083.6 L731.9 1093.8 L733.7 1093.0 L735.6 1080.2 L737.4 1075.0 L739.2 1096.9 L741.1 1079.4 L742.9 1082.5 L744.8 1063.3 L746.6 1087.6 L748.4 1074.9 L750.3 1075.4 L752.1 1080.3 L754.0 1075.3 L755.8 1081.2 L757.7 1078.6 L759.5 1090.4 L761.3 1086.7 L763.2 1087.4 L765.0 1089.8 L766.9 1088.5 L768.7 1093.0 L770.5 1113.0 L772.4 1084.9 L774.2 1076.8 L776.1 1093.6 L777.9 1079.8 L779.8 1084.4 L781.6 1074.1 L783.4 1096.8 L785.3 1084.7 L787.1 1087.4 L789.0 1096.5 L790.8 1083.7 L792.6 1087.4 L794.5 1087.9 L796.3 1094.6 L798.2 1076.5 L800.0 1092.9 L801.9 1002.5 L803.7 1096.8 L805.5 1137.0 L807.4 1076.2 L809.2 1086.1 L811.1 1097.2 L812.9 1088.2 L814.7 1090.2 L816.6 1075.8 L818.4 1080.4 L820.3 1074.3 L822.1 1082.4 L824.0 1073.7 L825.8 1089.6 L827.6 1090.5 L829.5 1079.0 L831.3 1070.0 L833.2 1085.0 L835.0 1087.7 L836.8 1075.2 L838.7 1089.4 L840.5 1095.2 L842.4 1087.3 L844.2 1092.9 L846.1 1094.2 L847.9 1078.6 L849.7 1048.0 L851.6 1089.6 L853.4 1085.6 L855.3 1083.9 L857.1 1073.4 L858.9 1080.7 L860.8 1098.8 L862.6 1091.2 L864.5 1092.2 L866.3 1074.0 L868.2 1089.6 L870.0 1089.2 L871.8 1083.6 L873.7 1069.4 L875.5 1081.9 L877.4 1073.5 L879.2 1095.0 L881.0 1079.1 L882.9 1082.8 L884.7 1077.5 L886.6 1120.2 L888.4 1071.3 L890.3 1075.0 L892.1 1049.7 L893.9 1082.4 L895.8 1071.7 L897.6 1072.5 L899.5 1077.7 L901.3 1079.9 L903.1 1090.4 L905.0 1074.8 L906.8 1073.1 L908.7 1071.5 L910.5 1060.1 L912.4 1059.5 L914.2 1058.0 L916.0 1033.5 L917.9 1047.0 L919.7 1036.3 L921.6 1038.6 L923.4 1024.0 L925.2 1029.2 L927.1 1025.4 L928.9 1029.4 L930.8 1024.6 L932.6 1043.6 L934.4 1036.2 L936.3 1032.9 L938.1 1035.5 L940.0 1046.6 L941.8 1062.2 L943.7 1034.2 L945.5 1032.0 L947.3 1007.9 L949.2 1028.1 L951.0 1018.1 L952.9 1043.8 L954.7 1023.2 L956.5 1049.0 L958.4 1034.1 L960.2 1017.1 L962.1 1038.2 L963.9 1046.5 L965.8 1045.4 L967.6 1054.9 L969.4 1045.3 L971.3 1020.2 L973.1 1010.6 L975.0 1030.5 L976.8 1022.8 L978.6 1033.4 L980.5 1035.6 L982.3 1019.2 L984.2 1020.3 L986.0 1032.8 L987.9 1057.3 L989.7 1064.6 L991.5 1030.5 L993.4 1052.5 L995.2 1047.1 L997.1 1038.9 L998.9 1033.8 L1000.7 1025.9 L1002.6 1045.9 L1004.4 1018.8 L1006.3 1042.6 L1008.1 1029.6 L1010.0 1039.3 L1011.8 1046.1 L1013.6 1037.3 L1015.5 1013.1 L1017.3 1025.6 L1019.2 1047.0 L1021.0 1048.3 L1022.8 1062.0 L1024.7 1041.8 L1026.5 1017.7 L1028.4 1029.3 L1030.2 1043.7 L1032.1 1014.8 L1033.9 1023.5 L1035.7 1060.6 L1037.6 1057.2 L1039.4 1049.3 L1041.3 1017.5 L1043.1 1044.2 L1044.9 1008.2 L1046.8 1024.3 L1048.6 1035.1 L1050.5 1037.7 L1052.3 1033.4 L1054.2 1052.0 L1056.0 1054.6 L1057.8 989.3 L1059.7 1038.0 L1061.5 1016.6 L1063.4 1036.2 L1065.2 1027.2 L1067.0 1057.7 L1068.9 1044.9 L1070.7 1041.8 L1072.6 1019.8 L1074.4 1028.1 L1076.3 1031.1 L1078.1 1056.8 L1079.9 1024.4 L1081.8 1019.2 L1083.6 1034.4 L1085.5 1038.3 L1087.3 1046.8 L1089.1 1039.5 L1091.0 1033.9 L1092.8 1046.3 L1094.7 1050.8 L1096.5 1018.7 L1098.4 1028.4 L1100.2 1026.1 L1102.0 1043.7 L1103.9 1029.3 L1105.7 1035.6 L1107.6 1026.2 L1109.4 1060.2 L1111.2 1053.7 L1113.1 1014.6 L1114.9 1047.5 L1116.8 1004.8 L1118.6 1026.4 L1120.5 1053.1 L1122.3 1024.1 L1124.1 1044.6 L1126.0 1018.2 L1127.8 1052.1 L1129.7 1035.8 L1131.5 1025.3 L1133.3 1039.0 L1135.2 1050.0 L1137.0 1079.4 L1138.9 1055.4 L1140.7 1057.0 L1142.6 1074.3 L1144.4 1062.3 L1146.2 1062.7 L1148.1 1069.7 L1149.9 1085.6 L1151.8 1086.3 L1153.6 1095.7 L1155.4 1092.8 L1157.3 1093.9 L1159.1 1083.4 L1161.0 1081.7 L1162.8 1094.7 L1164.6 1078.8 L1166.5 1082.7 L1168.3 1094.7 L1170.2 1056.0 L1172.0 1098.6 L1173.9 1118.0 L1175.7 1092.2 L1177.5 1079.4 L1179.4 1095.6 L1181.2 1094.1 L1183.1 1089.2 L1184.9 1092.7 L1186.7 1097.8 L1188.6 1088.2 L1190.4 1073.8 L1192.3 1085.4 L1194.1 1075.5 L1196.0 1076.4 L1197.8 1074.9 L1199.6 1086.7 L1201.5 1089.5 L1203.3 1080.7 L1205.2 1082.8 L1207.0 1082.4 L1208.8 1074.5 L1210.7 1095.6 L1212.5 1095.9 L1214.4 1086.9 L1216.2 1083.3 L1218.1 1083.2 L1219.9 1077.4 L1221.7 1094.6 L1223.6 1095.9 L1225.4 1089.1 L1227.3 1079.9 L1229.1 1090.4 L1230.9 1107.2 L1232.8 1083.9 L1234.6 1090.6 L1236.5 1083.5 L1238.3 1086.0 L1240.2 1075.9 L1242.0 1077.1 L1243.8 1092.3 L1245.7 1092.8 L1247.5 1076.3 L1249.4 1076.1 L1251.2 1075.3 L1253.0 1087.6 L1254.9 1093.5 L1256.7 1082.3 L1258.6 1071.6 L1260.4 1081.4 L1262.3 1079.0 L1264.1 1096.9 L1265.9 1087.7 L1267.8 1094.4 L1269.6 1096.6 L1271.5 1091.5 L1273.3 1088.0 L1275.1 1081.5 L1277.0 1078.6 L1278.8 1081.0 L1280.7 1086.4 L1282.5 1092.9 L1284.4 1085.6 L1286.2 1075.8 L1288.0 1073.8 L1289.9 1070.1 L1291.7 1069.8 L1293.6 1079.2 L1295.4 1082.1 L1297.2 1093.1 L1299.1 1078.4 L1300.9 1077.9 L1302.8 1082.7 L1304.6 1093.6 L1306.5 1120.2 L1308.3 1077.3 L1310.1 1078.8 L1312.0 1073.6 L1313.8 1094.6 L1315.7 1098.7 L1317.5 1069.1 L1319.3 1092.0 L1321.2 1091.8 L1323.0 1095.4 L1324.9 1078.5 L1326.7 1080.9 L1328.6 1084.2 L1330.4 1082.6 L1332.2 1091.3 L1334.1 1037.2 L1335.9 1060.9 L1337.8 1067.7 L1339.6 1067.7 L1341.4 1071.6 L1343.3 1090.8 L1345.1 1108.8 L1347.0 1074.1 L1348.8 1085.6 L1350.7 1085.2 L1352.5 1074.4 L1354.3 1092.3 L1356.2 1080.9 L1358.0 1068.6 L1359.9 1070.7 L1361.7 1069.3 L1363.5 1073.3 L1365.4 1087.5 L1367.2 1065.6 L1369.1 1084.8 L1370.9 1055.8 L1372.8 1074.7 L1374.6 1063.4 L1376.4 1061.1 L1378.3 1069.6 L1380.1 1055.1 L1382.0 1068.7 L1383.8 1034.9 L1385.6 1061.2 L1387.5 1030.1 L1389.3 1035.0 L1391.2 1051.0 L1393.0 968.9 L1394.8 1026.2 L1396.7 1109.4 L1398.5 1039.4 L1400.4 1052.9 L1402.2 1045.0 L1404.1 1044.1 L1405.9 1007.9 L1407.7 1016.9 L1409.6 1032.1 L1411.4 1043.0 L1413.3 1043.8 L1415.1 1023.4 L1416.9 1041.7 L1418.8 1050.0 L1420.6 1034.0 L1422.5 1042.3 L1424.3 1028.5 L1426.2 1039.1 L1428.0 1035.9 L1429.8 1019.8 L1431.7 1041.0 L1433.5 1032.2 L1435.4 1040.7 L1437.2 1039.3 L1439.0 1033.6 L1440.9 1040.8 L1442.7 1033.0 L1444.6 1033.0 L1446.4 1049.9 L1448.3 1026.2 L1450.1 1027.6 L1451.9 1019.8 L1453.8 1024.5 L1455.6 1024.9 L1457.5 1032.2 L1459.3 1045.2 L1461.1 1036.0 L1463.0 1037.5 L1464.8 1026.6 L1466.7 1025.6 L1468.5 1040.9 L1470.4 1016.8 L1472.2 1036.7 L1474.0 1031.5 L1475.9 1034.0 L1477.7 1037.8 L1479.6 1029.4 L1481.4 1033.7 L1483.2 1027.5 L1485.1 1024.5 L1486.9 1037.5 L1488.8 1024.5 L1490.6 1034.0 L1492.5 1048.5 L1494.3 1029.9 L1496.1 1041.0 L1498.0 1028.7 L1499.8 1047.7 L1501.7 1031.7 L1503.5 1043.4 L1505.3 1027.6 L1507.2 1031.5 L1509.0 1033.9 L1510.9 1054.9 L1512.7 1032.9 L1514.6 1025.0 L1516.4 1043.0 L1518.2 1046.6 L1520.1 1021.0 L1521.9 1028.3 L1523.8 1046.9 L1525.6 1021.2 L1527.4 1024.6 L1529.3 1020.6 L1531.1 1039.7 L1533.0 1012.7 L1534.8 1023.5 L1536.7 1064.3 L1538.5 1064.0 L1540.3 1021.6 L1542.2 1033.2 L1544.0 1023.6 L1545.9 1034.0 L1547.7 1028.1 L1549.5 1026.4 L1551.4 1026.5 L1553.2 1031.5 L1555.1 1048.4 L1556.9 1050.3 L1558.8 1016.7 L1560.6 1046.3 L1562.4 1018.5 L1564.3 1048.9 L1566.1 1056.6 L1568.0 1038.9 L1569.8 1060.5 L1571.6 1026.2 L1573.5 1039.0 L1575.3 1020.1 L1577.2 1034.3 L1579.0 1053.4 L1580.9 1044.6 L1582.7 1065.2 L1584.5 1018.5 L1586.4 1050.2 L1588.2 1020.8 L1590.1 1029.9 L1591.9 1056.4 L1593.7 1038.8 L1595.6 1033.6 L1597.4 1033.8 L1599.3 1053.9 L1601.1 1036.6 L1603.0 1052.7 L1604.8 1079.4 L1606.6 1059.0 L1608.5 1079.4 L1610.3 1076.8 L1612.2 1078.8 L1614.0 1084.8 L1615.8 1092.4 L1617.7 1086.9 L1619.5 1092.6 L1621.4 1084.6 L1623.2 1091.2 L1625.0 1088.0 L1626.9 1085.2 L1628.7 1096.3 L1630.6 1089.1 L1632.4 1127.4 L1634.3 1083.3 L1636.1 1009.7 L1637.9 1095.8 L1639.8 1085.3 L1641.6 1090.8 L1643.5 1093.9 L1645.3 1085.2 L1647.1 1075.3 L1649.0 1084.9 L1650.8 1094.1 L1652.7 1082.9 L1654.5 1091.4 L1656.4 1081.6 L1658.2 1079.6 L1660.0 1088.9 L1661.9 1078.5 L1663.7 1088.5 L1665.6 1084.9 L1667.4 1096.8 L1669.2 1090.8 L1671.1 1077.6 L1672.9 1101.3 L1674.8 1084.8 L1676.6 1075.2 L1678.5 1076.3 L1680.3 1094.7 L1682.1 1096.6 L1684.0 1092.2 L1685.8 1099.9 L1687.7 1083.3 L1689.5 1080.7 L1691.3 1080.5 L1693.2 1052.1 L1695.0 1091.1 L1696.9 1100.5 L1698.7 1097.3 L1700.6 1079.4 L1702.4 1093.5 L1704.2 1093.8 L1706.1 1080.0 L1707.9 1083.1 L1709.8 1078.0 L1711.6 1081.3 L1713.4 1075.4 L1715.3 1042.1 L1717.1 1096.4 L1719.0 1074.4 L1720.8 1095.0 L1722.7 1099.7 L1724.5 1095.1 L1726.3 1087.2 L1728.2 1091.3" fill="none" stroke="#1a1aff" stroke-width="2.6" stroke-linejoin="round" clip-path="url(#c4)"/>
<g stroke="#7a7a7a" stroke-width="3.4" fill="none">
<rect x="234.0" y="117.0" width="1495.5" height="276.0"/>
<line x1="463.0" y1="117.0" x2="463.0" y2="129.5"/>
<line x1="463.0" y1="393.0" x2="463.0" y2="380.5"/>
<line x1="693.2" y1="117.0" x2="693.2" y2="129.5"/>
<line x1="693.2" y1="393.0" x2="693.2" y2="380.5"/>
<line x1="923.4" y1="117.0" x2="923.4" y2="129.5"/>
<line x1="923.4" y1="393.0" x2="923.4" y2="380.5"/>
<line x1="1153.6" y1="117.0" x2="1153.6" y2="129.5"/>
<line x1="1153.6" y1="393.0" x2="1153.6" y2="380.5"/>
<line x1="1383.8" y1="117.0" x2="1383.8" y2="129.5"/>
<line x1="1383.8" y1="393.0" x2="1383.8" y2="380.5"/>
<line x1="1614.0" y1="117.0" x2="1614.0" y2="129.5"/>
<line x1="1614.0" y1="393.0" x2="1614.0" y2="380.5"/>
<line x1="234.0" y1="358.5" x2="246.5" y2="358.5"/>
<line x1="1729.5" y1="358.5" x2="1717.0" y2="358.5"/>
<line x1="234.0" y1="289.5" x2="246.5" y2="289.5"/>
<line x1="1729.5" y1="289.5" x2="1717.0" y2="289.5"/>
<line x1="234.0" y1="220.5" x2="246.5" y2="220.5"/>
<line x1="1729.5" y1="220.5" x2="1717.0" y2="220.5"/>
<line x1="234.0" y1="151.5" x2="246.5" y2="151.5"/>
<line x1="1729.5" y1="151.5" x2="1717.0" y2="151.5"/>
<rect x="234.0" y="393.5" width="1495.5" height="260.5"/>
<line x1="463.0" y1="393.5" x2="463.0" y2="406.0"/>
<line x1="463.0" y1="654.0" x2="463.0" y2="641.5"/>
<line x1="693.2" y1="393.5" x2="693.2" y2="406.0"/>
<line x1="693.2" y1="654.0" x2="693.2" y2="641.5"/>
<line x1="923.4" y1="393.5" x2="923.4" y2="406.0"/>
<line x1="923.4" y1="654.0" x2="923.4" y2="641.5"/>
<line x1="1153.6" y1="393.5" x2="1153.6" y2="406.0"/>
<line x1="1153.6" y1="654.0" x2="1153.6" y2="641.5"/>
<line x1="1383.8" y1="393.5" x2="1383.8" y2="406.0"/>
<line x1="1383.8" y1="654.0" x2="1383.8" y2="641.5"/>
<line x1="1614.0" y1="393.5" x2="1614.0" y2="406.0"/>
<line x1="1614.0" y1="654.0" x2="1614.0" y2="641.5"/>
<line x1="234.0" y1="588.9" x2="246.5" y2="588.9"/>
<line x1="1729.5" y1="588.9" x2="1717.0" y2="588.9"/>
<line x1="234.0" y1="523.8" x2="246.5" y2="523.8"/>
<line x1="1729.5" y1="523.8" x2="1717.0" y2="523.8"/>
<line x1="234.0" y1="458.6" x2="246.5" y2="458.6"/>
<line x1="1729.5" y1="458.6" x2="1717.0" y2="458.6"/>
<rect x="234.0" y="654.0" width="1495.5" height="252.5"/>
<line x1="463.0" y1="654.0" x2="463.0" y2="666.5"/>
<line x1="463.0" y1="906.5" x2="463.0" y2="894.0"/>
<line x1="693.2" y1="654.0" x2="693.2" y2="666.5"/>
<line x1="693.2" y1="906.5" x2="693.2" y2="894.0"/>
<line x1="923.4" y1="654.0" x2="923.4" y2="666.5"/>
<line x1="923.4" y1="906.5" x2="923.4" y2="894.0"/>
<line x1="1153.6" y1="654.0" x2="1153.6" y2="666.5"/>
<line x1="1153.6" y1="906.5" x2="1153.6" y2="894.0"/>
<line x1="1383.8" y1="654.0" x2="1383.8" y2="666.5"/>
<line x1="1383.8" y1="906.5" x2="1383.8" y2="894.0"/>
<line x1="1614.0" y1="654.0" x2="1614.0" y2="666.5"/>
<line x1="1614.0" y1="906.5" x2="1614.0" y2="894.0"/>
<line x1="234.0" y1="864.4" x2="246.5" y2="864.4"/>
<line x1="1729.5" y1="864.4" x2="1717.0" y2="864.4"/>
<line x1="234.0" y1="759.2" x2="246.5" y2="759.2"/>
<line x1="1729.5" y1="759.2" x2="1717.0" y2="759.2"/>
<rect x="234.0" y="906.5" width="1495.5" height="288.1"/>
<line x1="463.0" y1="906.5" x2="463.0" y2="919.0"/>
<line x1="463.0" y1="1194.6" x2="463.0" y2="1182.1"/>
<line x1="693.2" y1="906.5" x2="693.2" y2="919.0"/>
<line x1="693.2" y1="1194.6" x2="693.2" y2="1182.1"/>
<line x1="923.4" y1="906.5" x2="923.4" y2="919.0"/>
<line x1="923.4" y1="1194.6" x2="923.4" y2="1182.1"/>
<line x1="1153.6" y1="906.5" x2="1153.6" y2="919.0"/>
<line x1="1153.6" y1="1194.6" x2="1153.6" y2="1182.1"/>
<line x1="1383.8" y1="906.5" x2="1383.8" y2="919.0"/>
<line x1="1383.8" y1="1194.6" x2="1383.8" y2="1182.1"/>
<line x1="1614.0" y1="906.5" x2="1614.0" y2="919.0"/>
<line x1="1614.0" y1="1194.6" x2="1614.0" y2="1182.1"/>
<line x1="234.0" y1="1170.6" x2="246.5" y2="1170.6"/>
<line x1="1729.5" y1="1170.6" x2="1717.0" y2="1170.6"/>
<line x1="234.0" y1="1050.5" x2="246.5" y2="1050.5"/>
<line x1="1729.5" y1="1050.5" x2="1717.0" y2="1050.5"/>
<line x1="234.0" y1="930.5" x2="246.5" y2="930.5"/>
<line x1="1729.5" y1="930.5" x2="1717.0" y2="930.5"/>
</g>
<g fill="#2b2b2b" font-size="48.5" text-anchor="end">
<text x="217.0" y="377.2">12</text>
<text x="217.0" y="308.2">14</text>
<text x="217.0" y="239.2">16</text>
<text x="217.0" y="170.2">18</text>
<text x="216.5" y="413.2">2</text>
<text x="213.5" y="478.1">1</text>
<text x="216.0" y="540.5">0</text>
<text x="214.0" y="607.1">-1</text>
<text x="215.2" y="672.7">300</text>
<text x="215.2" y="777.9">250</text>
<text x="215.2" y="883.1">200</text>
<text x="217.0" y="949.2">10</text>
<text x="217.0" y="1069.2">0</text>
<text x="217.0" y="1189.3">-10</text>
</g>
<g fill="#2b2b2b" font-size="47.5" text-anchor="middle">
<text x="461.8" y="1259">0.5</text>
<text x="693.7" y="1259">1</text>
<text x="922.9" y="1259">1.5</text>
<text x="1155.1" y="1259">2</text>
<text x="1383.2" y="1259">2.5</text>
<text x="1613.5" y="1259">3</text>
</g>
<g fill="#2b2b2b" font-size="53.5" text-anchor="middle">
<text transform="translate(82.0 253.5) rotate(-90)">Position</text>
<text transform="translate(149.0 255.0) rotate(-90)">[mm]</text>
<text transform="translate(89.5 520.5) rotate(-90)">Force</text>
<text transform="translate(157.5 521.0) rotate(-90)">[N]</text>
<text transform="translate(61.5 778.5) rotate(-90)">Pressure</text>
<text transform="translate(129.8 779.0) rotate(-90)">[kPa]</text>
<text transform="translate(73.3 1050.5) rotate(-90)">Motor Angle</text>
<text transform="translate(140.6 1052.5) rotate(-90)">[degree]</text>
</g>
<text x="981.5" y="1322" font-size="53.5" text-anchor="middle" fill="#2b2b2b">Time [s]</text>
<rect x="1235.2" y="17" width="463.5" height="113.5" fill="#fff" stroke="#7a7a7a" stroke-width="3.4"/>
<line x1="1243.5" y1="47.3" x2="1336.5" y2="47.3" stroke="#ff7474" stroke-width="5"/>
<line x1="1243.5" y1="98.9" x2="1336.5" y2="98.9" stroke="#7474ff" stroke-width="5"/>
<g fill="#1c1c1c" font-size="44.8" stroke="#1c1c1c" stroke-width="1.1">
<text x="1344.3" y="62.5">target value</text>
<text x="1344.0" y="116">measurement value</text>
</g>
<rect x="1481.4" y="611.4" width="167.8" height="114.3" fill="#fff" stroke="#7a7a7a" stroke-width="3.4"/>
<line x1="1492" y1="642.7" x2="1584.5" y2="642.7" stroke="#ff7474" stroke-width="5"/>
<line x1="1492" y1="693.9" x2="1584.5" y2="693.9" stroke="#7474ff" stroke-width="5"/>
<g fill="#111" font-size="44.5" stroke="#111" stroke-width="1.5">
<text x="1593.5" y="657.5">P1</text>
<text x="1593.5" y="711.5">P2</text>
</g>
</g>
<g font-size="69" fill="#000">
<text x="722" y="1489">(</text>
<text x="743" y="1489" font-weight="bold">b</text>
<text x="783" y="1489">)</text>
<text x="893.8" y="1489">1</text>
<text x="946" y="1489" textLength="88.5" lengthAdjust="spacingAndGlyphs">Hz</text>
</g>
</svg>
</body></html>
